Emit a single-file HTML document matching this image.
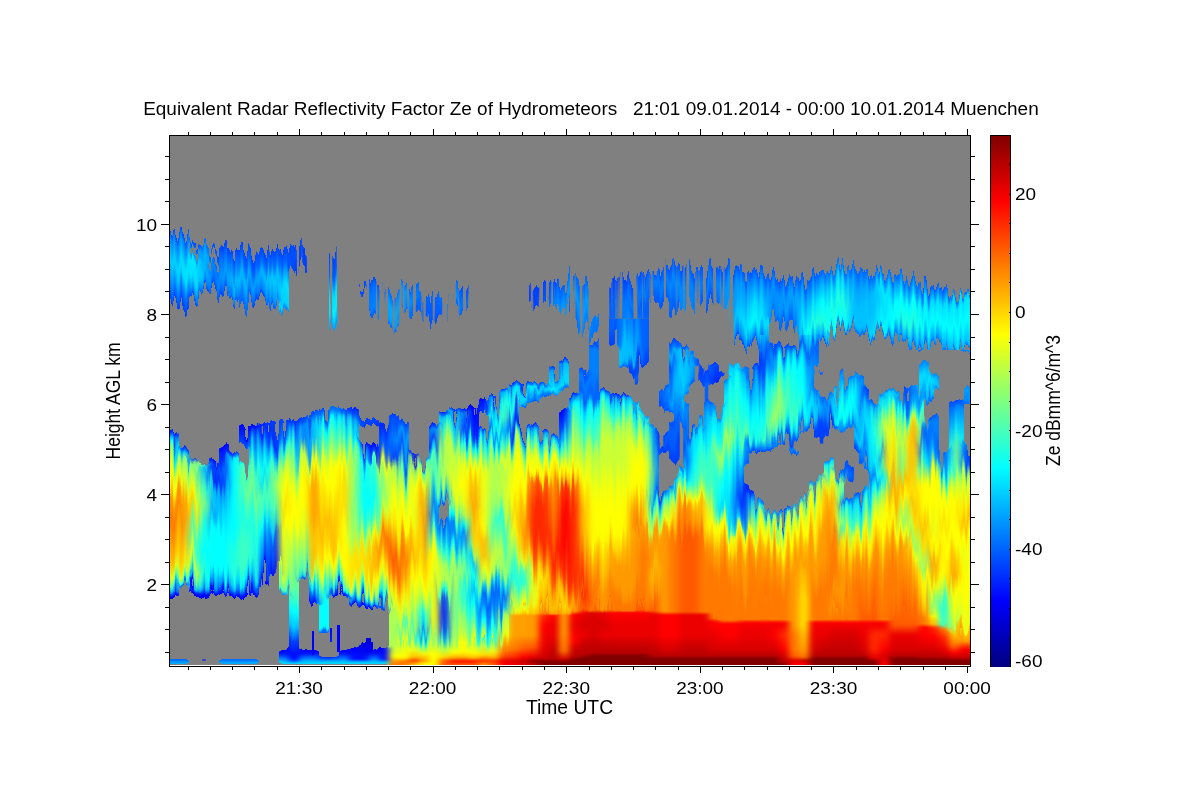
<!DOCTYPE html><html><head><meta charset="utf-8"><title>Radar</title><style>html,body{margin:0;padding:0;background:#fff}svg{display:block}text{font-family:"Liberation Sans",sans-serif;fill:#000}</style></head><body>
<svg width="1200" height="800" viewBox="0 0 1200 800">
<rect width="1200" height="800" fill="#fff"/>
<defs><linearGradient id="cb" x1="0" y1="1" x2="0" y2="0">
<stop offset="0.0000" stop-color="#000080"/>
<stop offset="0.0156" stop-color="#00008f"/>
<stop offset="0.0312" stop-color="#00009f"/>
<stop offset="0.0469" stop-color="#0000af"/>
<stop offset="0.0625" stop-color="#0000bf"/>
<stop offset="0.0781" stop-color="#0000cf"/>
<stop offset="0.0938" stop-color="#0000df"/>
<stop offset="0.1094" stop-color="#0000ef"/>
<stop offset="0.1250" stop-color="#0000ff"/>
<stop offset="0.1406" stop-color="#0010ff"/>
<stop offset="0.1562" stop-color="#0020ff"/>
<stop offset="0.1719" stop-color="#0030ff"/>
<stop offset="0.1875" stop-color="#0040ff"/>
<stop offset="0.2031" stop-color="#0050ff"/>
<stop offset="0.2188" stop-color="#0060ff"/>
<stop offset="0.2344" stop-color="#0070ff"/>
<stop offset="0.2500" stop-color="#0080ff"/>
<stop offset="0.2656" stop-color="#008fff"/>
<stop offset="0.2812" stop-color="#009fff"/>
<stop offset="0.2969" stop-color="#00afff"/>
<stop offset="0.3125" stop-color="#00bfff"/>
<stop offset="0.3281" stop-color="#00cfff"/>
<stop offset="0.3438" stop-color="#00dfff"/>
<stop offset="0.3594" stop-color="#00efff"/>
<stop offset="0.3750" stop-color="#00ffff"/>
<stop offset="0.3906" stop-color="#10ffef"/>
<stop offset="0.4062" stop-color="#20ffdf"/>
<stop offset="0.4219" stop-color="#30ffcf"/>
<stop offset="0.4375" stop-color="#40ffbf"/>
<stop offset="0.4531" stop-color="#50ffaf"/>
<stop offset="0.4688" stop-color="#60ff9f"/>
<stop offset="0.4844" stop-color="#70ff8f"/>
<stop offset="0.5000" stop-color="#80ff80"/>
<stop offset="0.5156" stop-color="#8fff70"/>
<stop offset="0.5312" stop-color="#9fff60"/>
<stop offset="0.5469" stop-color="#afff50"/>
<stop offset="0.5625" stop-color="#bfff40"/>
<stop offset="0.5781" stop-color="#cfff30"/>
<stop offset="0.5938" stop-color="#dfff20"/>
<stop offset="0.6094" stop-color="#efff10"/>
<stop offset="0.6250" stop-color="#ffff00"/>
<stop offset="0.6406" stop-color="#ffef00"/>
<stop offset="0.6562" stop-color="#ffdf00"/>
<stop offset="0.6719" stop-color="#ffcf00"/>
<stop offset="0.6875" stop-color="#ffbf00"/>
<stop offset="0.7031" stop-color="#ffaf00"/>
<stop offset="0.7188" stop-color="#ff9f00"/>
<stop offset="0.7344" stop-color="#ff8f00"/>
<stop offset="0.7500" stop-color="#ff8000"/>
<stop offset="0.7656" stop-color="#ff7000"/>
<stop offset="0.7812" stop-color="#ff6000"/>
<stop offset="0.7969" stop-color="#ff5000"/>
<stop offset="0.8125" stop-color="#ff4000"/>
<stop offset="0.8281" stop-color="#ff3000"/>
<stop offset="0.8438" stop-color="#ff2000"/>
<stop offset="0.8594" stop-color="#ff1000"/>
<stop offset="0.8750" stop-color="#ff0000"/>
<stop offset="0.8906" stop-color="#ef0000"/>
<stop offset="0.9062" stop-color="#df0000"/>
<stop offset="0.9219" stop-color="#cf0000"/>
<stop offset="0.9375" stop-color="#bf0000"/>
<stop offset="0.9531" stop-color="#af0000"/>
<stop offset="0.9688" stop-color="#9f0000"/>
<stop offset="0.9844" stop-color="#8f0000"/>
<stop offset="1.0000" stop-color="#800000"/>
</linearGradient></defs>
<rect x="169" y="135" width="802" height="531" fill="#808080"/>
<defs><filter id="sm" x="140" y="125" width="860" height="570" filterUnits="userSpaceOnUse" color-interpolation-filters="sRGB"><feGaussianBlur stdDeviation="3 1.2" result="b"/><feComponentTransfer in="b" result="t"><feFuncA type="linear" slope="12" intercept="-5.5"/></feComponentTransfer><feGaussianBlur in="t" stdDeviation="5 7" result="tb"/><feColorMatrix in="tb" type="matrix" values="0 0 0 3.2 -2.05  0 0 0 0 0  0 0 0 0 0  0 0 0 0 1" result="w"/><feColorMatrix in="w" type="matrix" values="0.83 0 0 0 0.17  0 0 0 0 0  0 0 0 0 0  0 0 0 0 1" result="w2"/><feTurbulence type="fractalNoise" baseFrequency="0.22 0.006" numOctaves="2" seed="7" result="n"/><feColorMatrix in="n" type="matrix" values="1 0 0 0 0  0 0 0 0 0.5  0 0 0 0 0  0 0 0 0 1" result="n1"/><feComposite in="n1" in2="w2" operator="arithmetic" k1="1" k2="0" k3="-0.5" k4="0.5" result="map"/><feDisplacementMap in="t" in2="map" scale="70" xChannelSelector="G" yChannelSelector="R"/></filter><filter id="smU" x="140" y="125" width="860" height="570" filterUnits="userSpaceOnUse" color-interpolation-filters="sRGB"><feGaussianBlur stdDeviation="3 1.2" result="b"/><feComponentTransfer in="b" result="t"><feFuncA type="linear" slope="12" intercept="-5.5"/></feComponentTransfer><feTurbulence type="fractalNoise" baseFrequency="0.25 0.004" numOctaves="2" seed="3" result="n"/><feColorMatrix in="n" type="matrix" values="1 0 0 0 0  0 0 0 0 0.5  0 0 1 0 0  0 0 0 0 1" result="n2"/><feDisplacementMap in="t" in2="n2" scale="40" xChannelSelector="G" yChannelSelector="R"/></filter><filter id="smB" x="140" y="125" width="860" height="570" filterUnits="userSpaceOnUse" color-interpolation-filters="sRGB"><feGaussianBlur stdDeviation="3 1.2" result="b"/><feComponentTransfer in="b"><feFuncA type="linear" slope="12" intercept="-5.5"/></feComponentTransfer></filter><filter id="smU2" x="140" y="125" width="860" height="570" filterUnits="userSpaceOnUse" color-interpolation-filters="sRGB"><feGaussianBlur stdDeviation="3 1.2" result="b"/><feComponentTransfer in="b" result="t"><feFuncA type="linear" slope="12" intercept="-5.5"/></feComponentTransfer><feTurbulence type="fractalNoise" baseFrequency="0.25 0.004" numOctaves="2" seed="3" result="n"/><feColorMatrix in="n" type="matrix" values="1 0 0 0 0  0 0 0 0 0.5  0 0 1 0 0  0 0 0 0 1" result="n2"/><feDisplacementMap in="t" in2="n2" scale="40" xChannelSelector="G" yChannelSelector="R" result="d"/><feTurbulence type="fractalNoise" baseFrequency="0.3 0.004" numOctaves="1" seed="21" result="m"/><feColorMatrix in="m" type="matrix" values="0 0 0 0 0  0 0 0 0 0  0 0 0 0 0  14 0 0 0 -5.7" result="m2"/><feComposite in="d" in2="m2" operator="in"/></filter><clipPath id="pc"><rect x="169" y="135" width="802" height="530"/></clipPath><clipPath id="cA"><polygon points="140,345 605,345 605,318.5 649,318.5 649,328 700,328 700,345 740,345 740,354 760,354 760,335 812,335 812,350 1000,350 1000,652 960,640 945,628 935,620 713,620 713,611.5 575,611.5 575,614.5 509,614.5 509,652 140,652"/></clipPath><clipPath id="cB"><polygon points="140,622 509,622 509,584.5 575,584.5 575,581.5 713,581.5 713,590 935,590 945,598 960,610 1000,622 1000,700 140,700"/></clipPath><clipPath id="cS"><polygon points="140,125 1000,125 1000,350 812,350 812,335 760,335 760,354 740,354 740,345 700,345 700,328 649,328 649,318.5 605,318.5 605,345 140,345"/></clipPath><clipPath id="cU"><rect x="140" y="125" width="156" height="300"/><rect x="735" y="125" width="265" height="300"/></clipPath><clipPath id="cUM"><rect x="296" y="125" width="439" height="300"/></clipPath><clipPath id="cA2"><polygon points="140,125 1000,125 1000,652 960,640 945,628 935,620 713,620 713,611.5 575,611.5 575,614.5 509,614.5 509,652 140,652"/></clipPath><linearGradient id="c0_0" gradientUnits="userSpaceOnUse" x1="0" y1="135" x2="0" y2="665"><stop offset="0.0000" stop-color="#808080" stop-opacity="0"/><stop offset="0.1849" stop-color="#0040ff" stop-opacity="0"/><stop offset="0.1849" stop-color="#0040ff"/><stop offset="0.1974" stop-color="#0080ff"/><stop offset="0.2453" stop-color="#00d2ff"/><stop offset="0.2755" stop-color="#009fff"/><stop offset="0.3092" stop-color="#0060ff"/><stop offset="0.3216" stop-color="#0040ff"/><stop offset="0.3226" stop-color="#0040ff"/><stop offset="0.3226" stop-color="#0040ff" stop-opacity="0"/><stop offset="0.5604" stop-color="#0000ff" stop-opacity="0"/><stop offset="0.5604" stop-color="#0000ff"/><stop offset="0.5697" stop-color="#0080ff"/><stop offset="0.5925" stop-color="#00ffff"/><stop offset="0.6226" stop-color="#dfff20"/><stop offset="0.6528" stop-color="#ffff00"/><stop offset="0.6830" stop-color="#ff9900"/><stop offset="0.7170" stop-color="#ff7900"/><stop offset="0.7547" stop-color="#ff9900"/><stop offset="0.7925" stop-color="#ffbf00"/><stop offset="0.8189" stop-color="#dfff20"/><stop offset="0.8377" stop-color="#40ffbf"/><stop offset="0.8613" stop-color="#0080ff"/><stop offset="0.8675" stop-color="#0000ff"/><stop offset="0.8717" stop-color="#0000ff"/><stop offset="0.8717" stop-color="#0000ff" stop-opacity="0"/><stop offset="0.9885" stop-color="#0000df" stop-opacity="0"/><stop offset="0.9885" stop-color="#0000df"/><stop offset="0.9829" stop-color="#0040ff"/><stop offset="0.9939" stop-color="#009fff"/><stop offset="0.9972" stop-color="#00b2ff"/><stop offset="0.9985" stop-color="#00b2ff"/><stop offset="0.9985" stop-color="#00b2ff" stop-opacity="0"/><stop offset="1.0000" stop-color="#808080" stop-opacity="0"/></linearGradient><linearGradient id="c1_0" gradientUnits="userSpaceOnUse" x1="0" y1="135" x2="0" y2="665"><stop offset="0.0000" stop-color="#808080" stop-opacity="0"/><stop offset="0.1868" stop-color="#0040ff" stop-opacity="0"/><stop offset="0.1868" stop-color="#0040ff"/><stop offset="0.2003" stop-color="#0080ff"/><stop offset="0.2453" stop-color="#00dfff"/><stop offset="0.2679" stop-color="#00dfff"/><stop offset="0.2943" stop-color="#0080ff"/><stop offset="0.3300" stop-color="#0040ff"/><stop offset="0.3321" stop-color="#0040ff"/><stop offset="0.3321" stop-color="#0040ff" stop-opacity="0"/><stop offset="0.5906" stop-color="#0000ff" stop-opacity="0"/><stop offset="0.5906" stop-color="#0000ff"/><stop offset="0.6020" stop-color="#00bfff"/><stop offset="0.6226" stop-color="#80ff80"/><stop offset="0.6528" stop-color="#dfff20"/><stop offset="0.6868" stop-color="#ff9f00"/><stop offset="0.7170" stop-color="#ff9900"/><stop offset="0.7547" stop-color="#ffbf00"/><stop offset="0.7925" stop-color="#ffdf00"/><stop offset="0.8189" stop-color="#bfff40"/><stop offset="0.8408" stop-color="#00ffff"/><stop offset="0.8470" stop-color="#0040ff"/><stop offset="0.8491" stop-color="#0040ff"/><stop offset="0.8491" stop-color="#0040ff" stop-opacity="0"/><stop offset="0.9885" stop-color="#0000df" stop-opacity="0"/><stop offset="0.9885" stop-color="#0000df"/><stop offset="0.9829" stop-color="#0040ff"/><stop offset="0.9939" stop-color="#009fff"/><stop offset="0.9972" stop-color="#00b2ff"/><stop offset="0.9985" stop-color="#00b2ff"/><stop offset="0.9985" stop-color="#00b2ff" stop-opacity="0"/><stop offset="1.0000" stop-color="#808080" stop-opacity="0"/></linearGradient><linearGradient id="c2_0" gradientUnits="userSpaceOnUse" x1="0" y1="135" x2="0" y2="665"><stop offset="0.0000" stop-color="#808080" stop-opacity="0"/><stop offset="0.2059" stop-color="#0040ff" stop-opacity="0"/><stop offset="0.2059" stop-color="#0040ff"/><stop offset="0.2122" stop-color="#0060ff"/><stop offset="0.2132" stop-color="#0060ff"/><stop offset="0.2132" stop-color="#0060ff" stop-opacity="0"/><stop offset="0.2272" stop-color="#0080ff" stop-opacity="0"/><stop offset="0.2272" stop-color="#0080ff"/><stop offset="0.2371" stop-color="#00ecff"/><stop offset="0.2717" stop-color="#00dfff"/><stop offset="0.2982" stop-color="#0080ff"/><stop offset="0.3065" stop-color="#0040ff"/><stop offset="0.3075" stop-color="#0040ff"/><stop offset="0.3075" stop-color="#0040ff" stop-opacity="0"/><stop offset="0.6094" stop-color="#0000ff" stop-opacity="0"/><stop offset="0.6094" stop-color="#0000ff"/><stop offset="0.6167" stop-color="#80ff80"/><stop offset="0.6528" stop-color="#bfff40"/><stop offset="0.6792" stop-color="#ffff00"/><stop offset="0.6981" stop-color="#ffdf00"/><stop offset="0.7283" stop-color="#80ff80"/><stop offset="0.7547" stop-color="#40ffbf"/><stop offset="0.7811" stop-color="#80ff80"/><stop offset="0.8038" stop-color="#dfff20"/><stop offset="0.8264" stop-color="#80ff80"/><stop offset="0.8555" stop-color="#00bfff"/><stop offset="0.8638" stop-color="#0000ff"/><stop offset="0.8679" stop-color="#0000ff"/><stop offset="0.8679" stop-color="#0000ff" stop-opacity="0"/><stop offset="1.0000" stop-color="#808080" stop-opacity="0"/></linearGradient><linearGradient id="c3_0" gradientUnits="userSpaceOnUse" x1="0" y1="135" x2="0" y2="665"><stop offset="0.0000" stop-color="#808080" stop-opacity="0"/><stop offset="0.2075" stop-color="#0060ff" stop-opacity="0"/><stop offset="0.2075" stop-color="#0060ff"/><stop offset="0.2200" stop-color="#009fff"/><stop offset="0.2642" stop-color="#00bfff"/><stop offset="0.2881" stop-color="#0080ff"/><stop offset="0.2933" stop-color="#0040ff"/><stop offset="0.2943" stop-color="#0040ff"/><stop offset="0.2943" stop-color="#0040ff" stop-opacity="0"/><stop offset="0.6226" stop-color="#40ffbf" stop-opacity="0"/><stop offset="0.6226" stop-color="#40ffbf"/><stop offset="0.6309" stop-color="#00bfff"/><stop offset="0.6679" stop-color="#40ffbf"/><stop offset="0.6981" stop-color="#80ff80"/><stop offset="0.7283" stop-color="#20ffdf"/><stop offset="0.7736" stop-color="#00ffff"/><stop offset="0.8113" stop-color="#20ffdf"/><stop offset="0.8415" stop-color="#00bfff"/><stop offset="0.8675" stop-color="#0000ff"/><stop offset="0.8717" stop-color="#0000ff"/><stop offset="0.8717" stop-color="#0000ff" stop-opacity="0"/><stop offset="0.9891" stop-color="#0000ff" stop-opacity="0"/><stop offset="0.9891" stop-color="#0000ff"/><stop offset="0.9920" stop-color="#0040ff"/><stop offset="0.9925" stop-color="#0040ff"/><stop offset="0.9925" stop-color="#0040ff" stop-opacity="0"/><stop offset="1.0000" stop-color="#808080" stop-opacity="0"/></linearGradient><linearGradient id="c4_0" gradientUnits="userSpaceOnUse" x1="0" y1="135" x2="0" y2="665"><stop offset="0.0000" stop-color="#808080" stop-opacity="0"/><stop offset="0.2142" stop-color="#0040ff" stop-opacity="0"/><stop offset="0.2142" stop-color="#0040ff"/><stop offset="0.2235" stop-color="#0060ff"/><stop offset="0.2245" stop-color="#0060ff"/><stop offset="0.2245" stop-color="#0060ff" stop-opacity="0"/><stop offset="0.2442" stop-color="#0060ff" stop-opacity="0"/><stop offset="0.2442" stop-color="#0060ff"/><stop offset="0.2552" stop-color="#0080ff"/><stop offset="0.2873" stop-color="#0060ff"/><stop offset="0.2914" stop-color="#0040ff"/><stop offset="0.2925" stop-color="#0040ff"/><stop offset="0.2925" stop-color="#0040ff" stop-opacity="0"/><stop offset="0.6113" stop-color="#0000ff" stop-opacity="0"/><stop offset="0.6113" stop-color="#0000ff"/><stop offset="0.6175" stop-color="#0040ff"/><stop offset="0.6453" stop-color="#0020ff"/><stop offset="0.6679" stop-color="#00bfff"/><stop offset="0.6981" stop-color="#00bfff"/><stop offset="0.7208" stop-color="#009fff"/><stop offset="0.7509" stop-color="#00ffff"/><stop offset="0.7925" stop-color="#00ffff"/><stop offset="0.8264" stop-color="#00ffff"/><stop offset="0.8575" stop-color="#0080ff"/><stop offset="0.8658" stop-color="#0000ff"/><stop offset="0.8679" stop-color="#0000ff"/><stop offset="0.8679" stop-color="#0000ff" stop-opacity="0"/><stop offset="1.0000" stop-color="#808080" stop-opacity="0"/></linearGradient><linearGradient id="c5_0" gradientUnits="userSpaceOnUse" x1="0" y1="135" x2="0" y2="665"><stop offset="0.0000" stop-color="#808080" stop-opacity="0"/><stop offset="0.2113" stop-color="#0040ff" stop-opacity="0"/><stop offset="0.2113" stop-color="#0040ff"/><stop offset="0.2377" stop-color="#0073ff"/><stop offset="0.2642" stop-color="#009fff"/><stop offset="0.2890" stop-color="#0060ff"/><stop offset="0.2952" stop-color="#0040ff"/><stop offset="0.2962" stop-color="#0040ff"/><stop offset="0.2962" stop-color="#0040ff" stop-opacity="0"/><stop offset="0.5842" stop-color="#0000ff" stop-opacity="0"/><stop offset="0.5842" stop-color="#0000ff"/><stop offset="0.6226" stop-color="#0060ff"/><stop offset="0.6528" stop-color="#0040ff"/><stop offset="0.6792" stop-color="#009fff"/><stop offset="0.7170" stop-color="#00dfff"/><stop offset="0.7547" stop-color="#00ffff"/><stop offset="0.7925" stop-color="#00ffff"/><stop offset="0.8264" stop-color="#00ffff"/><stop offset="0.8575" stop-color="#0080ff"/><stop offset="0.8658" stop-color="#0000ff"/><stop offset="0.8679" stop-color="#0000ff"/><stop offset="0.8679" stop-color="#0000ff" stop-opacity="0"/><stop offset="0.9885" stop-color="#0000df" stop-opacity="0"/><stop offset="0.9885" stop-color="#0000df"/><stop offset="0.9829" stop-color="#0040ff"/><stop offset="0.9939" stop-color="#009fff"/><stop offset="0.9972" stop-color="#00b2ff"/><stop offset="0.9985" stop-color="#00b2ff"/><stop offset="0.9985" stop-color="#00b2ff" stop-opacity="0"/><stop offset="1.0000" stop-color="#808080" stop-opacity="0"/></linearGradient><linearGradient id="c6_0" gradientUnits="userSpaceOnUse" x1="0" y1="135" x2="0" y2="665"><stop offset="0.0000" stop-color="#808080" stop-opacity="0"/><stop offset="0.2170" stop-color="#0040ff" stop-opacity="0"/><stop offset="0.2170" stop-color="#0040ff"/><stop offset="0.2453" stop-color="#0080ff"/><stop offset="0.2755" stop-color="#00bfff"/><stop offset="0.3011" stop-color="#0080ff"/><stop offset="0.3084" stop-color="#0040ff"/><stop offset="0.3094" stop-color="#0040ff"/><stop offset="0.3094" stop-color="#0040ff" stop-opacity="0"/><stop offset="0.6000" stop-color="#0000ff" stop-opacity="0"/><stop offset="0.6000" stop-color="#0000ff"/><stop offset="0.6125" stop-color="#00ffff"/><stop offset="0.6604" stop-color="#00ffff"/><stop offset="0.6981" stop-color="#00ffff"/><stop offset="0.7358" stop-color="#00ffff"/><stop offset="0.7736" stop-color="#20ffdf"/><stop offset="0.8113" stop-color="#20ffdf"/><stop offset="0.8415" stop-color="#00bfff"/><stop offset="0.8625" stop-color="#0040ff"/><stop offset="0.8677" stop-color="#0000ff"/><stop offset="0.8698" stop-color="#0000ff"/><stop offset="0.8698" stop-color="#0000ff" stop-opacity="0"/><stop offset="0.9885" stop-color="#0000df" stop-opacity="0"/><stop offset="0.9885" stop-color="#0000df"/><stop offset="0.9829" stop-color="#0040ff"/><stop offset="0.9939" stop-color="#009fff"/><stop offset="0.9972" stop-color="#00b2ff"/><stop offset="0.9985" stop-color="#00b2ff"/><stop offset="0.9985" stop-color="#00b2ff" stop-opacity="0"/><stop offset="1.0000" stop-color="#808080" stop-opacity="0"/></linearGradient><linearGradient id="c7_0" gradientUnits="userSpaceOnUse" x1="0" y1="135" x2="0" y2="665"><stop offset="0.0000" stop-color="#808080" stop-opacity="0"/><stop offset="0.2170" stop-color="#0040ff" stop-opacity="0"/><stop offset="0.2170" stop-color="#0040ff"/><stop offset="0.2453" stop-color="#0073ff"/><stop offset="0.2717" stop-color="#00bfff"/><stop offset="0.3019" stop-color="#008cff"/><stop offset="0.3262" stop-color="#0060ff"/><stop offset="0.3283" stop-color="#0060ff"/><stop offset="0.3283" stop-color="#0060ff" stop-opacity="0"/><stop offset="0.5491" stop-color="#0000ff" stop-opacity="0"/><stop offset="0.5491" stop-color="#0000ff"/><stop offset="0.5828" stop-color="#0040ff"/><stop offset="0.5849" stop-color="#0040ff"/><stop offset="0.5849" stop-color="#0040ff" stop-opacity="0"/><stop offset="0.6189" stop-color="#0000ff" stop-opacity="0"/><stop offset="0.6189" stop-color="#0000ff"/><stop offset="0.6209" stop-color="#40ffbf"/><stop offset="0.6604" stop-color="#60ff9f"/><stop offset="0.6981" stop-color="#40ffbf"/><stop offset="0.7358" stop-color="#20ffdf"/><stop offset="0.7736" stop-color="#40ffbf"/><stop offset="0.8113" stop-color="#40ffbf"/><stop offset="0.8377" stop-color="#00ffff"/><stop offset="0.8642" stop-color="#0040ff"/><stop offset="0.8705" stop-color="#0000ff"/><stop offset="0.8736" stop-color="#0000ff"/><stop offset="0.8736" stop-color="#0000ff" stop-opacity="0"/><stop offset="0.9885" stop-color="#0000df" stop-opacity="0"/><stop offset="0.9885" stop-color="#0000df"/><stop offset="0.9829" stop-color="#0040ff"/><stop offset="0.9939" stop-color="#009fff"/><stop offset="0.9972" stop-color="#00b2ff"/><stop offset="0.9985" stop-color="#00b2ff"/><stop offset="0.9985" stop-color="#00b2ff" stop-opacity="0"/><stop offset="1.0000" stop-color="#808080" stop-opacity="0"/></linearGradient><linearGradient id="c8_0" gradientUnits="userSpaceOnUse" x1="0" y1="135" x2="0" y2="665"><stop offset="0.0000" stop-color="#808080" stop-opacity="0"/><stop offset="0.2264" stop-color="#0040ff" stop-opacity="0"/><stop offset="0.2264" stop-color="#0040ff"/><stop offset="0.2528" stop-color="#0060ff"/><stop offset="0.2755" stop-color="#009fff"/><stop offset="0.3032" stop-color="#0060ff"/><stop offset="0.3084" stop-color="#0040ff"/><stop offset="0.3094" stop-color="#0040ff"/><stop offset="0.3094" stop-color="#0040ff" stop-opacity="0"/><stop offset="0.5491" stop-color="#0000ff" stop-opacity="0"/><stop offset="0.5491" stop-color="#0000ff"/><stop offset="0.5605" stop-color="#0040ff"/><stop offset="0.5962" stop-color="#00bfff"/><stop offset="0.6226" stop-color="#40ffbf"/><stop offset="0.6717" stop-color="#80ff80"/><stop offset="0.7057" stop-color="#40ffbf"/><stop offset="0.7358" stop-color="#20ffdf"/><stop offset="0.7736" stop-color="#20ffdf"/><stop offset="0.8113" stop-color="#20ffdf"/><stop offset="0.8377" stop-color="#00bfff"/><stop offset="0.8596" stop-color="#0040ff"/><stop offset="0.8658" stop-color="#0000ff"/><stop offset="0.8679" stop-color="#0000ff"/><stop offset="0.8679" stop-color="#0000ff" stop-opacity="0"/><stop offset="0.9885" stop-color="#0000df" stop-opacity="0"/><stop offset="0.9885" stop-color="#0000df"/><stop offset="0.9829" stop-color="#0040ff"/><stop offset="0.9939" stop-color="#009fff"/><stop offset="0.9972" stop-color="#00b2ff"/><stop offset="0.9985" stop-color="#00b2ff"/><stop offset="0.9985" stop-color="#00b2ff" stop-opacity="0"/><stop offset="1.0000" stop-color="#808080" stop-opacity="0"/></linearGradient><linearGradient id="c9_0" gradientUnits="userSpaceOnUse" x1="0" y1="135" x2="0" y2="665"><stop offset="0.0000" stop-color="#808080" stop-opacity="0"/><stop offset="0.2170" stop-color="#0040ff" stop-opacity="0"/><stop offset="0.2170" stop-color="#0040ff"/><stop offset="0.2453" stop-color="#0073ff"/><stop offset="0.2642" stop-color="#00bfff"/><stop offset="0.2982" stop-color="#0080ff"/><stop offset="0.3065" stop-color="#0040ff"/><stop offset="0.3075" stop-color="#0040ff"/><stop offset="0.3075" stop-color="#0040ff" stop-opacity="0"/><stop offset="0.5415" stop-color="#0020ff" stop-opacity="0"/><stop offset="0.5415" stop-color="#0020ff"/><stop offset="0.5550" stop-color="#0040ff"/><stop offset="0.5849" stop-color="#00bfff"/><stop offset="0.6226" stop-color="#00ffff"/><stop offset="0.6528" stop-color="#00dfff"/><stop offset="0.6792" stop-color="#40ffbf"/><stop offset="0.7170" stop-color="#40ffbf"/><stop offset="0.7472" stop-color="#00ffff"/><stop offset="0.7736" stop-color="#00bfff"/><stop offset="0.8038" stop-color="#0080ff"/><stop offset="0.8404" stop-color="#0040ff"/><stop offset="0.8508" stop-color="#0000ff"/><stop offset="0.8528" stop-color="#0000ff"/><stop offset="0.8528" stop-color="#0000ff" stop-opacity="0"/><stop offset="1.0000" stop-color="#808080" stop-opacity="0"/></linearGradient><linearGradient id="c10_0" gradientUnits="userSpaceOnUse" x1="0" y1="135" x2="0" y2="665"><stop offset="0.0000" stop-color="#808080" stop-opacity="0"/><stop offset="0.2189" stop-color="#0040ff" stop-opacity="0"/><stop offset="0.2189" stop-color="#0040ff"/><stop offset="0.2453" stop-color="#0073ff"/><stop offset="0.2679" stop-color="#00d2ff"/><stop offset="0.3045" stop-color="#0093ff"/><stop offset="0.3159" stop-color="#004dff"/><stop offset="0.3170" stop-color="#004dff"/><stop offset="0.3170" stop-color="#004dff" stop-opacity="0"/><stop offset="0.5377" stop-color="#0040ff" stop-opacity="0"/><stop offset="0.5377" stop-color="#0040ff"/><stop offset="0.5736" stop-color="#0020ff"/><stop offset="0.6000" stop-color="#00bfff"/><stop offset="0.6226" stop-color="#40ffbf"/><stop offset="0.6528" stop-color="#80ff80"/><stop offset="0.6981" stop-color="#40ffbf"/><stop offset="0.7358" stop-color="#00bfff"/><stop offset="0.7585" stop-color="#0040ff"/><stop offset="0.7736" stop-color="#0040ff"/><stop offset="0.8273" stop-color="#0000ff"/><stop offset="0.8283" stop-color="#0000ff"/><stop offset="0.8283" stop-color="#0000ff" stop-opacity="0"/><stop offset="1.0000" stop-color="#808080" stop-opacity="0"/></linearGradient><linearGradient id="c11_0" gradientUnits="userSpaceOnUse" x1="0" y1="135" x2="0" y2="665"><stop offset="0.0000" stop-color="#808080" stop-opacity="0"/><stop offset="0.2170" stop-color="#0040ff" stop-opacity="0"/><stop offset="0.2170" stop-color="#0040ff"/><stop offset="0.2453" stop-color="#0066ff"/><stop offset="0.2679" stop-color="#009fff"/><stop offset="0.2906" stop-color="#00dfff"/><stop offset="0.3292" stop-color="#00d2ff"/><stop offset="0.3375" stop-color="#0080ff"/><stop offset="0.3396" stop-color="#0080ff"/><stop offset="0.3396" stop-color="#0080ff" stop-opacity="0"/><stop offset="0.5358" stop-color="#0040ff" stop-opacity="0"/><stop offset="0.5358" stop-color="#0040ff"/><stop offset="0.5660" stop-color="#0080ff"/><stop offset="0.5849" stop-color="#20ffdf"/><stop offset="0.6226" stop-color="#dfff20"/><stop offset="0.6604" stop-color="#ffff00"/><stop offset="0.6981" stop-color="#ffdf00"/><stop offset="0.7358" stop-color="#ffff00"/><stop offset="0.7736" stop-color="#dfff20"/><stop offset="0.8113" stop-color="#dfff20"/><stop offset="0.8415" stop-color="#bfff40"/><stop offset="0.8617" stop-color="#40ffbf"/><stop offset="0.8658" stop-color="#0080ff"/><stop offset="0.8679" stop-color="#0080ff"/><stop offset="0.8679" stop-color="#0080ff" stop-opacity="0"/><stop offset="0.9717" stop-color="#0000ff" stop-opacity="0"/><stop offset="0.9717" stop-color="#0000ff"/><stop offset="0.9785" stop-color="#0013ff"/><stop offset="0.9935" stop-color="#00bfff"/><stop offset="0.9972" stop-color="#00dfff"/><stop offset="0.9985" stop-color="#00dfff"/><stop offset="0.9985" stop-color="#00dfff" stop-opacity="0"/><stop offset="1.0000" stop-color="#808080" stop-opacity="0"/></linearGradient><linearGradient id="c12_0" gradientUnits="userSpaceOnUse" x1="0" y1="135" x2="0" y2="665"><stop offset="0.0000" stop-color="#808080" stop-opacity="0"/><stop offset="0.2075" stop-color="#0040ff" stop-opacity="0"/><stop offset="0.2075" stop-color="#0040ff"/><stop offset="0.2200" stop-color="#0053ff"/><stop offset="0.2537" stop-color="#0040ff"/><stop offset="0.2547" stop-color="#0040ff"/><stop offset="0.2547" stop-color="#0040ff" stop-opacity="0"/><stop offset="0.5396" stop-color="#0020ff" stop-opacity="0"/><stop offset="0.5396" stop-color="#0020ff"/><stop offset="0.5660" stop-color="#00bfff"/><stop offset="0.5925" stop-color="#40ffbf"/><stop offset="0.6226" stop-color="#80ff80"/><stop offset="0.6604" stop-color="#dfff20"/><stop offset="0.6981" stop-color="#ffff00"/><stop offset="0.7358" stop-color="#ffff00"/><stop offset="0.7736" stop-color="#bfff40"/><stop offset="0.8113" stop-color="#80ff80"/><stop offset="0.8491" stop-color="#60ff9f"/><stop offset="0.8679" stop-color="#40ffbf"/><stop offset="0.8943" stop-color="#00ffff"/><stop offset="0.9245" stop-color="#00bfff"/><stop offset="0.9509" stop-color="#0040ff"/><stop offset="0.9869" stop-color="#0000ff"/><stop offset="0.9931" stop-color="#0040ff"/><stop offset="0.9972" stop-color="#00ffff"/><stop offset="0.9985" stop-color="#00ffff"/><stop offset="0.9985" stop-color="#00ffff" stop-opacity="0"/><stop offset="1.0000" stop-color="#808080" stop-opacity="0"/></linearGradient><linearGradient id="c13_0" gradientUnits="userSpaceOnUse" x1="0" y1="135" x2="0" y2="665"><stop offset="0.0000" stop-color="#808080" stop-opacity="0"/><stop offset="0.2113" stop-color="#0040ff" stop-opacity="0"/><stop offset="0.2113" stop-color="#0040ff"/><stop offset="0.2411" stop-color="#0040ff"/><stop offset="0.2453" stop-color="#0040ff"/><stop offset="0.2453" stop-color="#0040ff" stop-opacity="0"/><stop offset="0.5358" stop-color="#0040ff" stop-opacity="0"/><stop offset="0.5358" stop-color="#0040ff"/><stop offset="0.5660" stop-color="#0080ff"/><stop offset="0.5962" stop-color="#0080ff"/><stop offset="0.6226" stop-color="#bfff40"/><stop offset="0.6604" stop-color="#ffff00"/><stop offset="0.6981" stop-color="#ffff00"/><stop offset="0.7358" stop-color="#dfff20"/><stop offset="0.7736" stop-color="#80ff80"/><stop offset="0.8000" stop-color="#40ffbf"/><stop offset="0.8257" stop-color="#00bfff"/><stop offset="0.8308" stop-color="#0040ff"/><stop offset="0.8340" stop-color="#0040ff"/><stop offset="0.8340" stop-color="#0040ff" stop-opacity="0"/><stop offset="0.9717" stop-color="#0000ff" stop-opacity="0"/><stop offset="0.9717" stop-color="#0000ff"/><stop offset="0.9785" stop-color="#0013ff"/><stop offset="0.9935" stop-color="#00bfff"/><stop offset="0.9972" stop-color="#00dfff"/><stop offset="0.9985" stop-color="#00dfff"/><stop offset="0.9985" stop-color="#00dfff" stop-opacity="0"/><stop offset="1.0000" stop-color="#808080" stop-opacity="0"/></linearGradient><linearGradient id="c14_0" gradientUnits="userSpaceOnUse" x1="0" y1="135" x2="0" y2="665"><stop offset="0.0000" stop-color="#808080" stop-opacity="0"/><stop offset="0.5226" stop-color="#0040ff" stop-opacity="0"/><stop offset="0.5226" stop-color="#0040ff"/><stop offset="0.5547" stop-color="#00bfff"/><stop offset="0.5849" stop-color="#00bfff"/><stop offset="0.6226" stop-color="#ffff00"/><stop offset="0.6604" stop-color="#ff9f00"/><stop offset="0.7170" stop-color="#ff9f00"/><stop offset="0.7547" stop-color="#ffbf00"/><stop offset="0.7925" stop-color="#ffbf00"/><stop offset="0.8189" stop-color="#bfff40"/><stop offset="0.8377" stop-color="#00ffff"/><stop offset="0.8676" stop-color="#0040ff"/><stop offset="0.8801" stop-color="#0000ff"/><stop offset="0.8811" stop-color="#0000ff"/><stop offset="0.8811" stop-color="#0000ff" stop-opacity="0"/><stop offset="0.9717" stop-color="#0000ff" stop-opacity="0"/><stop offset="0.9717" stop-color="#0000ff"/><stop offset="0.9785" stop-color="#0013ff"/><stop offset="0.9935" stop-color="#00bfff"/><stop offset="0.9972" stop-color="#00dfff"/><stop offset="0.9985" stop-color="#00dfff"/><stop offset="0.9985" stop-color="#00dfff" stop-opacity="0"/><stop offset="1.0000" stop-color="#808080" stop-opacity="0"/></linearGradient><linearGradient id="c15_0" gradientUnits="userSpaceOnUse" x1="0" y1="135" x2="0" y2="665"><stop offset="0.0000" stop-color="#808080" stop-opacity="0"/><stop offset="0.5170" stop-color="#0040ff" stop-opacity="0"/><stop offset="0.5170" stop-color="#0040ff"/><stop offset="0.5472" stop-color="#00ffff"/><stop offset="0.5849" stop-color="#60ff9f"/><stop offset="0.6226" stop-color="#dfff20"/><stop offset="0.6604" stop-color="#ffff00"/><stop offset="0.6981" stop-color="#ffdf00"/><stop offset="0.7358" stop-color="#ffbf00"/><stop offset="0.7736" stop-color="#ffdf00"/><stop offset="0.8038" stop-color="#ffff00"/><stop offset="0.8264" stop-color="#bfff40"/><stop offset="0.8491" stop-color="#40ffbf"/><stop offset="0.8868" stop-color="#00ffff"/><stop offset="0.9313" stop-color="#00ffff"/><stop offset="0.9386" stop-color="#0040ff"/><stop offset="0.9396" stop-color="#0040ff"/><stop offset="0.9396" stop-color="#0040ff" stop-opacity="0"/><stop offset="0.9858" stop-color="#0000ff" stop-opacity="0"/><stop offset="0.9858" stop-color="#0000ff"/><stop offset="0.9802" stop-color="#0013ff"/><stop offset="0.9935" stop-color="#00bfff"/><stop offset="0.9972" stop-color="#00dfff"/><stop offset="0.9985" stop-color="#00dfff"/><stop offset="0.9985" stop-color="#00dfff" stop-opacity="0"/><stop offset="1.0000" stop-color="#808080" stop-opacity="0"/></linearGradient><linearGradient id="c16_0" gradientUnits="userSpaceOnUse" x1="0" y1="135" x2="0" y2="665"><stop offset="0.0000" stop-color="#808080" stop-opacity="0"/><stop offset="0.2208" stop-color="#0040ff" stop-opacity="0"/><stop offset="0.2208" stop-color="#0040ff"/><stop offset="0.2642" stop-color="#0060ff"/><stop offset="0.3019" stop-color="#00dfff"/><stop offset="0.3396" stop-color="#00f2ff"/><stop offset="0.3694" stop-color="#009fff"/><stop offset="0.3736" stop-color="#009fff"/><stop offset="0.3736" stop-color="#009fff" stop-opacity="0"/><stop offset="0.5132" stop-color="#0060ff" stop-opacity="0"/><stop offset="0.5132" stop-color="#0060ff"/><stop offset="0.5396" stop-color="#00ffff"/><stop offset="0.5849" stop-color="#80ff80"/><stop offset="0.6226" stop-color="#ffff00"/><stop offset="0.6604" stop-color="#ffff00"/><stop offset="0.6981" stop-color="#ffdf00"/><stop offset="0.7358" stop-color="#ffbf00"/><stop offset="0.7811" stop-color="#ffbf00"/><stop offset="0.8113" stop-color="#ffff00"/><stop offset="0.8340" stop-color="#80ff80"/><stop offset="0.8613" stop-color="#00bfff"/><stop offset="0.8675" stop-color="#0000ff"/><stop offset="0.8717" stop-color="#0000ff"/><stop offset="0.8717" stop-color="#0000ff" stop-opacity="0"/><stop offset="0.9848" stop-color="#0000ff" stop-opacity="0"/><stop offset="0.9848" stop-color="#0000ff"/><stop offset="0.9794" stop-color="#0013ff"/><stop offset="0.9935" stop-color="#00bfff"/><stop offset="0.9972" stop-color="#00dfff"/><stop offset="0.9985" stop-color="#00dfff"/><stop offset="0.9985" stop-color="#00dfff" stop-opacity="0"/><stop offset="1.0000" stop-color="#808080" stop-opacity="0"/></linearGradient><linearGradient id="c17_0" gradientUnits="userSpaceOnUse" x1="0" y1="135" x2="0" y2="665"><stop offset="0.0000" stop-color="#808080" stop-opacity="0"/><stop offset="0.5189" stop-color="#0040ff" stop-opacity="0"/><stop offset="0.5189" stop-color="#0040ff"/><stop offset="0.5472" stop-color="#00dfff"/><stop offset="0.5849" stop-color="#40ffbf"/><stop offset="0.6226" stop-color="#ffff00"/><stop offset="0.6528" stop-color="#ffdf00"/><stop offset="0.6981" stop-color="#ffdf00"/><stop offset="0.7358" stop-color="#ffff00"/><stop offset="0.7736" stop-color="#ffff00"/><stop offset="0.8038" stop-color="#ffff00"/><stop offset="0.8264" stop-color="#bfff40"/><stop offset="0.8555" stop-color="#00ffff"/><stop offset="0.8617" stop-color="#0040ff"/><stop offset="0.8658" stop-color="#0000ff"/><stop offset="0.8679" stop-color="#0000ff"/><stop offset="0.8679" stop-color="#0000ff" stop-opacity="0"/><stop offset="0.9717" stop-color="#0000ff" stop-opacity="0"/><stop offset="0.9717" stop-color="#0000ff"/><stop offset="0.9785" stop-color="#0013ff"/><stop offset="0.9935" stop-color="#00bfff"/><stop offset="0.9972" stop-color="#00dfff"/><stop offset="0.9985" stop-color="#00dfff"/><stop offset="0.9985" stop-color="#00dfff" stop-opacity="0"/><stop offset="1.0000" stop-color="#808080" stop-opacity="0"/></linearGradient><linearGradient id="c18_0" gradientUnits="userSpaceOnUse" x1="0" y1="135" x2="0" y2="665"><stop offset="0.0000" stop-color="#808080" stop-opacity="0"/><stop offset="0.5189" stop-color="#0020ff" stop-opacity="0"/><stop offset="0.5189" stop-color="#0020ff"/><stop offset="0.5472" stop-color="#0080ff"/><stop offset="0.5698" stop-color="#00bfff"/><stop offset="0.5962" stop-color="#00ffff"/><stop offset="0.6226" stop-color="#80ff80"/><stop offset="0.6604" stop-color="#9fff60"/><stop offset="0.6981" stop-color="#80ff80"/><stop offset="0.7358" stop-color="#9fff60"/><stop offset="0.7736" stop-color="#ffdf00"/><stop offset="0.8038" stop-color="#ffdf00"/><stop offset="0.8264" stop-color="#dfff20"/><stop offset="0.8491" stop-color="#40ffbf"/><stop offset="0.8747" stop-color="#0080ff"/><stop offset="0.8809" stop-color="#0000ff"/><stop offset="0.8830" stop-color="#0000ff"/><stop offset="0.8830" stop-color="#0000ff" stop-opacity="0"/><stop offset="0.9679" stop-color="#0000ff" stop-opacity="0"/><stop offset="0.9679" stop-color="#0000ff"/><stop offset="0.9906" stop-color="#0013ff"/><stop offset="0.9935" stop-color="#00bfff"/><stop offset="0.9972" stop-color="#00dfff"/><stop offset="0.9985" stop-color="#00dfff"/><stop offset="0.9985" stop-color="#00dfff" stop-opacity="0"/><stop offset="1.0000" stop-color="#808080" stop-opacity="0"/></linearGradient><linearGradient id="c19_0" gradientUnits="userSpaceOnUse" x1="0" y1="135" x2="0" y2="665"><stop offset="0.0000" stop-color="#808080" stop-opacity="0"/><stop offset="0.2821" stop-color="#0040ff" stop-opacity="0"/><stop offset="0.2821" stop-color="#0040ff"/><stop offset="0.2914" stop-color="#004dff"/><stop offset="0.2925" stop-color="#004dff"/><stop offset="0.2925" stop-color="#004dff" stop-opacity="0"/><stop offset="0.5358" stop-color="#0040ff" stop-opacity="0"/><stop offset="0.5358" stop-color="#0040ff"/><stop offset="0.5461" stop-color="#0040ff"/><stop offset="0.5472" stop-color="#0040ff"/><stop offset="0.5472" stop-color="#0040ff" stop-opacity="0"/><stop offset="0.5811" stop-color="#0000ff" stop-opacity="0"/><stop offset="0.5811" stop-color="#0000ff"/><stop offset="0.5936" stop-color="#0080ff"/><stop offset="0.6226" stop-color="#00ffff"/><stop offset="0.6604" stop-color="#00ffff"/><stop offset="0.6981" stop-color="#00ffff"/><stop offset="0.7358" stop-color="#40ffbf"/><stop offset="0.7660" stop-color="#bfff40"/><stop offset="0.7925" stop-color="#ffdf00"/><stop offset="0.8189" stop-color="#ffdf00"/><stop offset="0.8415" stop-color="#bfff40"/><stop offset="0.8642" stop-color="#00ffff"/><stop offset="0.8843" stop-color="#0040ff"/><stop offset="0.8885" stop-color="#0000ff"/><stop offset="0.8906" stop-color="#0000ff"/><stop offset="0.8906" stop-color="#0000ff" stop-opacity="0"/><stop offset="0.9604" stop-color="#0000df" stop-opacity="0"/><stop offset="0.9604" stop-color="#0000df"/><stop offset="0.9906" stop-color="#0013ff"/><stop offset="0.9935" stop-color="#00bfff"/><stop offset="0.9972" stop-color="#00dfff"/><stop offset="0.9985" stop-color="#00dfff"/><stop offset="0.9985" stop-color="#00dfff" stop-opacity="0"/><stop offset="1.0000" stop-color="#808080" stop-opacity="0"/></linearGradient><linearGradient id="c20_0" gradientUnits="userSpaceOnUse" x1="0" y1="135" x2="0" y2="665"><stop offset="0.0000" stop-color="#808080" stop-opacity="0"/><stop offset="0.2717" stop-color="#0040ff" stop-opacity="0"/><stop offset="0.2717" stop-color="#0040ff"/><stop offset="0.2842" stop-color="#0073ff"/><stop offset="0.3292" stop-color="#0080ff"/><stop offset="0.3386" stop-color="#004dff"/><stop offset="0.3396" stop-color="#004dff"/><stop offset="0.3396" stop-color="#004dff" stop-opacity="0"/><stop offset="0.5358" stop-color="#0040ff" stop-opacity="0"/><stop offset="0.5358" stop-color="#0040ff"/><stop offset="0.5461" stop-color="#0040ff"/><stop offset="0.5472" stop-color="#0040ff"/><stop offset="0.5472" stop-color="#0040ff" stop-opacity="0"/><stop offset="0.5849" stop-color="#0000ff" stop-opacity="0"/><stop offset="0.5849" stop-color="#0000ff"/><stop offset="0.6151" stop-color="#0040ff"/><stop offset="0.6226" stop-color="#40ffbf"/><stop offset="0.6604" stop-color="#20ffdf"/><stop offset="0.6981" stop-color="#00ffff"/><stop offset="0.7283" stop-color="#40ffbf"/><stop offset="0.7509" stop-color="#feff01"/><stop offset="0.7736" stop-color="#ffbf00"/><stop offset="0.8113" stop-color="#ffbf00"/><stop offset="0.8340" stop-color="#ffff00"/><stop offset="0.8566" stop-color="#acff53"/><stop offset="0.8823" stop-color="#00bfff"/><stop offset="0.8885" stop-color="#0000ff"/><stop offset="0.8906" stop-color="#0000ff"/><stop offset="0.8906" stop-color="#0000ff" stop-opacity="0"/><stop offset="0.9717" stop-color="#0000ff" stop-opacity="0"/><stop offset="0.9717" stop-color="#0000ff"/><stop offset="0.9785" stop-color="#0013ff"/><stop offset="0.9935" stop-color="#00bfff"/><stop offset="0.9972" stop-color="#00dfff"/><stop offset="0.9985" stop-color="#00dfff"/><stop offset="0.9985" stop-color="#00dfff" stop-opacity="0"/><stop offset="1.0000" stop-color="#808080" stop-opacity="0"/></linearGradient><linearGradient id="c21_0" gradientUnits="userSpaceOnUse" x1="0" y1="135" x2="0" y2="665"><stop offset="0.0000" stop-color="#808080" stop-opacity="0"/><stop offset="0.2868" stop-color="#0060ff" stop-opacity="0"/><stop offset="0.2868" stop-color="#0060ff"/><stop offset="0.3132" stop-color="#009fff"/><stop offset="0.3435" stop-color="#009fff"/><stop offset="0.3518" stop-color="#0060ff"/><stop offset="0.3528" stop-color="#0060ff"/><stop offset="0.3528" stop-color="#0060ff" stop-opacity="0"/><stop offset="0.5434" stop-color="#0020ff" stop-opacity="0"/><stop offset="0.5434" stop-color="#0020ff"/><stop offset="0.5849" stop-color="#0060ff"/><stop offset="0.6226" stop-color="#feff01"/><stop offset="0.6453" stop-color="#acff53"/><stop offset="0.6792" stop-color="#8cff73"/><stop offset="0.7170" stop-color="#ccff33"/><stop offset="0.7472" stop-color="#ffbf00"/><stop offset="0.7736" stop-color="#ff7900"/><stop offset="0.8038" stop-color="#ff9900"/><stop offset="0.8302" stop-color="#ffdf00"/><stop offset="0.8528" stop-color="#ecff13"/><stop offset="0.8857" stop-color="#00ffff"/><stop offset="0.8940" stop-color="#0040ff"/><stop offset="0.8981" stop-color="#0040ff"/><stop offset="0.8981" stop-color="#0040ff" stop-opacity="0"/><stop offset="0.9679" stop-color="#0000ff" stop-opacity="0"/><stop offset="0.9679" stop-color="#0000ff"/><stop offset="0.9906" stop-color="#0013ff"/><stop offset="0.9935" stop-color="#00bfff"/><stop offset="0.9972" stop-color="#00dfff"/><stop offset="0.9985" stop-color="#00dfff"/><stop offset="0.9985" stop-color="#00dfff" stop-opacity="0"/><stop offset="1.0000" stop-color="#808080" stop-opacity="0"/></linearGradient><linearGradient id="c22_0" gradientUnits="userSpaceOnUse" x1="0" y1="135" x2="0" y2="665"><stop offset="0.0000" stop-color="#808080" stop-opacity="0"/><stop offset="0.2943" stop-color="#0060ff" stop-opacity="0"/><stop offset="0.2943" stop-color="#0060ff"/><stop offset="0.3208" stop-color="#00b2ff"/><stop offset="0.3473" stop-color="#009fff"/><stop offset="0.3556" stop-color="#0060ff"/><stop offset="0.3566" stop-color="#0060ff"/><stop offset="0.3566" stop-color="#0060ff" stop-opacity="0"/><stop offset="0.5264" stop-color="#0040ff" stop-opacity="0"/><stop offset="0.5264" stop-color="#0040ff"/><stop offset="0.5660" stop-color="#0080ff"/><stop offset="0.6038" stop-color="#0040ff"/><stop offset="0.6226" stop-color="#acff53"/><stop offset="0.6604" stop-color="#ecff13"/><stop offset="0.6981" stop-color="#feff01"/><stop offset="0.7283" stop-color="#ffdf00"/><stop offset="0.7547" stop-color="#ff9900"/><stop offset="0.7925" stop-color="#ff5900"/><stop offset="0.8264" stop-color="#ff7900"/><stop offset="0.8566" stop-color="#ffdf00"/><stop offset="0.8792" stop-color="#ecff13"/><stop offset="0.9057" stop-color="#acff53"/><stop offset="0.9245" stop-color="#acff53"/><stop offset="0.9623" stop-color="#acff53"/><stop offset="0.9849" stop-color="#ffff00"/><stop offset="0.9925" stop-color="#ff9900"/><stop offset="1.0000" stop-color="#ff7900"/><stop offset="1.0000" stop-color="#ff7900"/></linearGradient><linearGradient id="c23_0" gradientUnits="userSpaceOnUse" x1="0" y1="135" x2="0" y2="665"><stop offset="0.0000" stop-color="#808080" stop-opacity="0"/><stop offset="0.2868" stop-color="#0060ff" stop-opacity="0"/><stop offset="0.2868" stop-color="#0060ff"/><stop offset="0.2992" stop-color="#009fff"/><stop offset="0.3342" stop-color="#0093ff"/><stop offset="0.3405" stop-color="#0060ff"/><stop offset="0.3415" stop-color="#0060ff"/><stop offset="0.3415" stop-color="#0060ff" stop-opacity="0"/><stop offset="0.5415" stop-color="#0040ff" stop-opacity="0"/><stop offset="0.5415" stop-color="#0040ff"/><stop offset="0.5698" stop-color="#009fff"/><stop offset="0.6038" stop-color="#0060ff"/><stop offset="0.6226" stop-color="#0080ff"/><stop offset="0.6453" stop-color="#40ffbf"/><stop offset="0.6792" stop-color="#ccff33"/><stop offset="0.7170" stop-color="#feff01"/><stop offset="0.7472" stop-color="#ffff00"/><stop offset="0.7736" stop-color="#ff9f00"/><stop offset="0.8113" stop-color="#ff7900"/><stop offset="0.8491" stop-color="#ff9900"/><stop offset="0.8792" stop-color="#ffdf00"/><stop offset="0.9019" stop-color="#ecff13"/><stop offset="0.9245" stop-color="#acff53"/><stop offset="0.9358" stop-color="#40ffbf"/><stop offset="0.9698" stop-color="#ecff13"/><stop offset="0.9868" stop-color="#ffff00"/><stop offset="0.9925" stop-color="#ff7900"/><stop offset="1.0000" stop-color="#ff7900"/><stop offset="1.0000" stop-color="#ff7900"/></linearGradient><linearGradient id="c24_0" gradientUnits="userSpaceOnUse" x1="0" y1="135" x2="0" y2="665"><stop offset="0.0000" stop-color="#808080" stop-opacity="0"/><stop offset="0.2830" stop-color="#0060ff" stop-opacity="0"/><stop offset="0.2830" stop-color="#0060ff"/><stop offset="0.3094" stop-color="#008cff"/><stop offset="0.3292" stop-color="#0060ff"/><stop offset="0.3386" stop-color="#0060ff"/><stop offset="0.3396" stop-color="#0060ff"/><stop offset="0.3396" stop-color="#0060ff" stop-opacity="0"/><stop offset="0.5981" stop-color="#0000ff" stop-opacity="0"/><stop offset="0.5981" stop-color="#0000ff"/><stop offset="0.6116" stop-color="#acff53"/><stop offset="0.6528" stop-color="#feff01"/><stop offset="0.6981" stop-color="#ecff13"/><stop offset="0.7358" stop-color="#ecff13"/><stop offset="0.7736" stop-color="#ffdf00"/><stop offset="0.8113" stop-color="#ffbf00"/><stop offset="0.8491" stop-color="#ffff00"/><stop offset="0.8792" stop-color="#ecff13"/><stop offset="0.9019" stop-color="#acff53"/><stop offset="0.9245" stop-color="#acff53"/><stop offset="0.9434" stop-color="#40ffbf"/><stop offset="0.9698" stop-color="#ecff13"/><stop offset="0.9849" stop-color="#ffbf00"/><stop offset="0.9925" stop-color="#ff2900"/><stop offset="0.9981" stop-color="#ffbf00"/><stop offset="1.0000" stop-color="#ffbf00"/></linearGradient><linearGradient id="c25_0" gradientUnits="userSpaceOnUse" x1="0" y1="135" x2="0" y2="665"><stop offset="0.0000" stop-color="#808080" stop-opacity="0"/><stop offset="0.3019" stop-color="#0060ff" stop-opacity="0"/><stop offset="0.3019" stop-color="#0060ff"/><stop offset="0.3284" stop-color="#0060ff"/><stop offset="0.3367" stop-color="#0060ff"/><stop offset="0.3377" stop-color="#0060ff"/><stop offset="0.3377" stop-color="#0060ff" stop-opacity="0"/><stop offset="0.6121" stop-color="#0020ff" stop-opacity="0"/><stop offset="0.6121" stop-color="#0020ff"/><stop offset="0.6179" stop-color="#40ffbf"/><stop offset="0.6453" stop-color="#ecff13"/><stop offset="0.6679" stop-color="#ffbf00"/><stop offset="0.7170" stop-color="#ff9f00"/><stop offset="0.7736" stop-color="#ffbf00"/><stop offset="0.8113" stop-color="#ffdf00"/><stop offset="0.8415" stop-color="#ffff00"/><stop offset="0.8679" stop-color="#acff53"/><stop offset="0.8943" stop-color="#00ffff"/><stop offset="0.9245" stop-color="#00bfff"/><stop offset="0.9321" stop-color="#0080ff"/><stop offset="0.9547" stop-color="#00ffff"/><stop offset="0.9774" stop-color="#ecff13"/><stop offset="0.9868" stop-color="#ffbf00"/><stop offset="0.9925" stop-color="#ff9900"/><stop offset="0.9981" stop-color="#ffff00"/><stop offset="1.0000" stop-color="#ffff00"/></linearGradient><linearGradient id="c26_0" gradientUnits="userSpaceOnUse" x1="0" y1="135" x2="0" y2="665"><stop offset="0.0000" stop-color="#808080" stop-opacity="0"/><stop offset="0.3038" stop-color="#0060ff" stop-opacity="0"/><stop offset="0.3038" stop-color="#0060ff"/><stop offset="0.3131" stop-color="#0060ff"/><stop offset="0.3526" stop-color="#0053ff"/><stop offset="0.3547" stop-color="#0053ff"/><stop offset="0.3547" stop-color="#0053ff" stop-opacity="0"/><stop offset="0.5491" stop-color="#0000ff" stop-opacity="0"/><stop offset="0.5491" stop-color="#0000ff"/><stop offset="0.5605" stop-color="#0080ff"/><stop offset="0.5925" stop-color="#0040ff"/><stop offset="0.6075" stop-color="#00bfff"/><stop offset="0.6226" stop-color="#40ffbf"/><stop offset="0.6604" stop-color="#40ffbf"/><stop offset="0.6868" stop-color="#00bfff"/><stop offset="0.7132" stop-color="#0080ff"/><stop offset="0.7358" stop-color="#00bfff"/><stop offset="0.7585" stop-color="#40ffbf"/><stop offset="0.7849" stop-color="#feff01"/><stop offset="0.8113" stop-color="#ffff00"/><stop offset="0.8340" stop-color="#ecff13"/><stop offset="0.8679" stop-color="#ecff13"/><stop offset="0.8943" stop-color="#feff01"/><stop offset="0.9245" stop-color="#feff01"/><stop offset="0.9547" stop-color="#acff53"/><stop offset="0.9774" stop-color="#feff01"/><stop offset="0.9887" stop-color="#ffff00"/><stop offset="0.9981" stop-color="#ffff00"/><stop offset="1.0000" stop-color="#ffff00"/></linearGradient><linearGradient id="c27_0" gradientUnits="userSpaceOnUse" x1="0" y1="135" x2="0" y2="665"><stop offset="0.0000" stop-color="#808080" stop-opacity="0"/><stop offset="0.3113" stop-color="#0073ff" stop-opacity="0"/><stop offset="0.3113" stop-color="#0073ff"/><stop offset="0.3165" stop-color="#0073ff"/><stop offset="0.3424" stop-color="#0060ff"/><stop offset="0.3434" stop-color="#0060ff"/><stop offset="0.3434" stop-color="#0060ff" stop-opacity="0"/><stop offset="0.5245" stop-color="#0000ff" stop-opacity="0"/><stop offset="0.5245" stop-color="#0000ff"/><stop offset="0.5349" stop-color="#00bfff"/><stop offset="0.5660" stop-color="#40ffbf"/><stop offset="0.5925" stop-color="#acff53"/><stop offset="0.6226" stop-color="#acff53"/><stop offset="0.6528" stop-color="#acff53"/><stop offset="0.6848" stop-color="#00bfff"/><stop offset="0.6931" stop-color="#0040ff"/><stop offset="0.6962" stop-color="#0040ff"/><stop offset="0.6962" stop-color="#0040ff" stop-opacity="0"/><stop offset="0.7245" stop-color="#0040ff" stop-opacity="0"/><stop offset="0.7245" stop-color="#0040ff"/><stop offset="0.7370" stop-color="#0080ff"/><stop offset="0.7736" stop-color="#20ffdf"/><stop offset="0.8000" stop-color="#acff53"/><stop offset="0.8264" stop-color="#acff53"/><stop offset="0.8453" stop-color="#00ffff"/><stop offset="0.8642" stop-color="#0040ff"/><stop offset="0.8943" stop-color="#0020ff"/><stop offset="0.9245" stop-color="#0040ff"/><stop offset="0.9472" stop-color="#00bfff"/><stop offset="0.9698" stop-color="#acff53"/><stop offset="0.9849" stop-color="#ffdf00"/><stop offset="0.9925" stop-color="#ff5900"/><stop offset="0.9981" stop-color="#ff5900"/><stop offset="1.0000" stop-color="#ff5900"/></linearGradient><linearGradient id="c28_0" gradientUnits="userSpaceOnUse" x1="0" y1="135" x2="0" y2="665"><stop offset="0.0000" stop-color="#808080" stop-opacity="0"/><stop offset="0.2925" stop-color="#0073ff" stop-opacity="0"/><stop offset="0.2925" stop-color="#0073ff"/><stop offset="0.3272" stop-color="#00a6ff"/><stop offset="0.3292" stop-color="#0080ff"/><stop offset="0.3386" stop-color="#0060ff"/><stop offset="0.3396" stop-color="#0060ff"/><stop offset="0.3396" stop-color="#0060ff" stop-opacity="0"/><stop offset="0.5125" stop-color="#0000ff" stop-opacity="0"/><stop offset="0.5125" stop-color="#0000ff"/><stop offset="0.5212" stop-color="#00bfff"/><stop offset="0.5547" stop-color="#40ffbf"/><stop offset="0.5849" stop-color="#ccff33"/><stop offset="0.6226" stop-color="#ccff33"/><stop offset="0.6604" stop-color="#ecff13"/><stop offset="0.6906" stop-color="#acff53"/><stop offset="0.7132" stop-color="#00ffff"/><stop offset="0.7358" stop-color="#0080ff"/><stop offset="0.7585" stop-color="#0080ff"/><stop offset="0.7811" stop-color="#00ffff"/><stop offset="0.8113" stop-color="#acff53"/><stop offset="0.8491" stop-color="#acff53"/><stop offset="0.8868" stop-color="#8cff73"/><stop offset="0.9245" stop-color="#8cff73"/><stop offset="0.9547" stop-color="#acff53"/><stop offset="0.9774" stop-color="#ffff00"/><stop offset="0.9868" stop-color="#ff9f00"/><stop offset="0.9932" stop-color="#ff0000"/><stop offset="0.9981" stop-color="#ff5900"/><stop offset="1.0000" stop-color="#ff5900"/></linearGradient><linearGradient id="c29_0" gradientUnits="userSpaceOnUse" x1="0" y1="135" x2="0" y2="665"><stop offset="0.0000" stop-color="#808080" stop-opacity="0"/><stop offset="0.2887" stop-color="#004dff" stop-opacity="0"/><stop offset="0.2887" stop-color="#004dff"/><stop offset="0.3217" stop-color="#0073ff"/><stop offset="0.3258" stop-color="#0060ff"/><stop offset="0.3310" stop-color="#0053ff"/><stop offset="0.3321" stop-color="#0053ff"/><stop offset="0.3321" stop-color="#0053ff" stop-opacity="0"/><stop offset="0.5162" stop-color="#0000ff" stop-opacity="0"/><stop offset="0.5162" stop-color="#0000ff"/><stop offset="0.5270" stop-color="#0080ff"/><stop offset="0.5585" stop-color="#0040ff"/><stop offset="0.5811" stop-color="#00ffff"/><stop offset="0.6038" stop-color="#acff53"/><stop offset="0.6226" stop-color="#ecff13"/><stop offset="0.6604" stop-color="#feff01"/><stop offset="0.6981" stop-color="#ecff13"/><stop offset="0.7283" stop-color="#acff53"/><stop offset="0.7509" stop-color="#00ffff"/><stop offset="0.7736" stop-color="#0080ff"/><stop offset="0.7962" stop-color="#009fff"/><stop offset="0.8189" stop-color="#20ffdf"/><stop offset="0.8491" stop-color="#8cff73"/><stop offset="0.8792" stop-color="#20ffdf"/><stop offset="0.9094" stop-color="#40ffbf"/><stop offset="0.9245" stop-color="#8cff73"/><stop offset="0.9472" stop-color="#acff53"/><stop offset="0.9736" stop-color="#ffff00"/><stop offset="0.9849" stop-color="#ffbf00"/><stop offset="0.9932" stop-color="#ff0000"/><stop offset="0.9981" stop-color="#ff5900"/><stop offset="1.0000" stop-color="#ff5900"/></linearGradient><linearGradient id="c30_0" gradientUnits="userSpaceOnUse" x1="0" y1="135" x2="0" y2="665"><stop offset="0.0000" stop-color="#808080" stop-opacity="0"/><stop offset="0.5113" stop-color="#0000ff" stop-opacity="0"/><stop offset="0.5113" stop-color="#0000ff"/><stop offset="0.5472" stop-color="#0020ff"/><stop offset="0.5660" stop-color="#0040ff"/><stop offset="0.5849" stop-color="#00ffff"/><stop offset="0.6075" stop-color="#acff53"/><stop offset="0.6226" stop-color="#feff01"/><stop offset="0.6528" stop-color="#ffbf00"/><stop offset="0.6981" stop-color="#ff9f00"/><stop offset="0.7358" stop-color="#ffbf00"/><stop offset="0.7736" stop-color="#ffdf00"/><stop offset="0.8000" stop-color="#acff53"/><stop offset="0.8226" stop-color="#00bfff"/><stop offset="0.8491" stop-color="#00ffff"/><stop offset="0.8792" stop-color="#00bfff"/><stop offset="0.9019" stop-color="#00ffff"/><stop offset="0.9245" stop-color="#40ffbf"/><stop offset="0.9321" stop-color="#40ffbf"/><stop offset="0.9547" stop-color="#acff53"/><stop offset="0.9774" stop-color="#ffff00"/><stop offset="0.9868" stop-color="#ffbf00"/><stop offset="0.9932" stop-color="#ff0000"/><stop offset="0.9981" stop-color="#ff5900"/><stop offset="1.0000" stop-color="#ff5900"/></linearGradient><linearGradient id="c31_0" gradientUnits="userSpaceOnUse" x1="0" y1="135" x2="0" y2="665"><stop offset="0.0000" stop-color="#808080" stop-opacity="0"/><stop offset="0.4981" stop-color="#0000ff" stop-opacity="0"/><stop offset="0.4981" stop-color="#0000ff"/><stop offset="0.5225" stop-color="#0040ff"/><stop offset="0.5245" stop-color="#0040ff"/><stop offset="0.5245" stop-color="#0040ff" stop-opacity="0"/><stop offset="0.5547" stop-color="#0020ff" stop-opacity="0"/><stop offset="0.5547" stop-color="#0020ff"/><stop offset="0.5630" stop-color="#00bfff"/><stop offset="0.5925" stop-color="#40ffbf"/><stop offset="0.6226" stop-color="#ecff13"/><stop offset="0.6604" stop-color="#ecff13"/><stop offset="0.6981" stop-color="#ecff13"/><stop offset="0.7358" stop-color="#ffff00"/><stop offset="0.7660" stop-color="#ffbf00"/><stop offset="0.7962" stop-color="#ffbf00"/><stop offset="0.8226" stop-color="#feff01"/><stop offset="0.8491" stop-color="#acff53"/><stop offset="0.8679" stop-color="#00bfff"/><stop offset="0.8868" stop-color="#0060ff"/><stop offset="0.9094" stop-color="#0080ff"/><stop offset="0.9245" stop-color="#00bfff"/><stop offset="0.9434" stop-color="#00ffff"/><stop offset="0.9623" stop-color="#acff53"/><stop offset="0.9811" stop-color="#ffdf00"/><stop offset="0.9925" stop-color="#ff2900"/><stop offset="0.9981" stop-color="#ff9900"/><stop offset="1.0000" stop-color="#ff9900"/></linearGradient><linearGradient id="c32_0" gradientUnits="userSpaceOnUse" x1="0" y1="135" x2="0" y2="665"><stop offset="0.0000" stop-color="#808080" stop-opacity="0"/><stop offset="0.4887" stop-color="#0000ff" stop-opacity="0"/><stop offset="0.4887" stop-color="#0000ff"/><stop offset="0.4980" stop-color="#00bfff"/><stop offset="0.5283" stop-color="#00ffff"/><stop offset="0.5509" stop-color="#0080ff"/><stop offset="0.5698" stop-color="#00ffff"/><stop offset="0.6000" stop-color="#acff53"/><stop offset="0.6226" stop-color="#acff53"/><stop offset="0.6604" stop-color="#acff53"/><stop offset="0.6981" stop-color="#8cff73"/><stop offset="0.7358" stop-color="#40ffbf"/><stop offset="0.7736" stop-color="#8cff73"/><stop offset="0.8038" stop-color="#ccff33"/><stop offset="0.8340" stop-color="#acff53"/><stop offset="0.8566" stop-color="#00bfff"/><stop offset="0.8792" stop-color="#0060ff"/><stop offset="0.9057" stop-color="#0080ff"/><stop offset="0.9245" stop-color="#00bfff"/><stop offset="0.9321" stop-color="#00ffff"/><stop offset="0.9547" stop-color="#40ffbf"/><stop offset="0.9736" stop-color="#ecff13"/><stop offset="0.9849" stop-color="#ffbf00"/><stop offset="0.9932" stop-color="#ff2900"/><stop offset="0.9981" stop-color="#ff5900"/><stop offset="1.0000" stop-color="#ff5900"/></linearGradient><linearGradient id="c33_0" gradientUnits="userSpaceOnUse" x1="0" y1="135" x2="0" y2="665"><stop offset="0.0000" stop-color="#808080" stop-opacity="0"/><stop offset="0.4792" stop-color="#0000ff" stop-opacity="0"/><stop offset="0.4792" stop-color="#0000ff"/><stop offset="0.4855" stop-color="#00bfff"/><stop offset="0.5094" stop-color="#20ffdf"/><stop offset="0.5321" stop-color="#40ffbf"/><stop offset="0.5547" stop-color="#00bfff"/><stop offset="0.5774" stop-color="#40ffbf"/><stop offset="0.6038" stop-color="#ecff13"/><stop offset="0.6226" stop-color="#acff53"/><stop offset="0.6604" stop-color="#ccff33"/><stop offset="0.6981" stop-color="#acff53"/><stop offset="0.7358" stop-color="#20ffdf"/><stop offset="0.7736" stop-color="#40ffbf"/><stop offset="0.8113" stop-color="#acff53"/><stop offset="0.8340" stop-color="#8cff73"/><stop offset="0.8566" stop-color="#00bfff"/><stop offset="0.8755" stop-color="#0060ff"/><stop offset="0.8981" stop-color="#00bfff"/><stop offset="0.9094" stop-color="#acff53"/><stop offset="0.9245" stop-color="#ccff33"/><stop offset="0.9434" stop-color="#ecff13"/><stop offset="0.9623" stop-color="#ff9900"/><stop offset="0.9811" stop-color="#ff5900"/><stop offset="0.9925" stop-color="#ec0000"/><stop offset="0.9981" stop-color="#ff0000"/><stop offset="1.0000" stop-color="#ff0000"/></linearGradient><linearGradient id="c34_0" gradientUnits="userSpaceOnUse" x1="0" y1="135" x2="0" y2="665"><stop offset="0.0000" stop-color="#808080" stop-opacity="0"/><stop offset="0.4687" stop-color="#0020ff" stop-opacity="0"/><stop offset="0.4687" stop-color="#0020ff"/><stop offset="0.4786" stop-color="#00dfff"/><stop offset="0.5094" stop-color="#20ffdf"/><stop offset="0.5396" stop-color="#0040ff"/><stop offset="0.5585" stop-color="#0020ff"/><stop offset="0.5736" stop-color="#00bfff"/><stop offset="0.5962" stop-color="#acff53"/><stop offset="0.6226" stop-color="#ecff13"/><stop offset="0.6528" stop-color="#feff01"/><stop offset="0.6830" stop-color="#ffff00"/><stop offset="0.7208" stop-color="#ffdf00"/><stop offset="0.7585" stop-color="#ffff00"/><stop offset="0.7887" stop-color="#acff53"/><stop offset="0.8189" stop-color="#40ffbf"/><stop offset="0.8491" stop-color="#20ffdf"/><stop offset="0.8792" stop-color="#8cff73"/><stop offset="0.9019" stop-color="#ecff13"/><stop offset="0.9057" stop-color="#ff9f00"/><stop offset="0.9245" stop-color="#ff9f00"/><stop offset="0.9434" stop-color="#ff9f00"/><stop offset="0.9698" stop-color="#ff7900"/><stop offset="0.9849" stop-color="#ff2900"/><stop offset="0.9925" stop-color="#d90000"/><stop offset="0.9981" stop-color="#ec0000"/><stop offset="1.0000" stop-color="#ec0000"/></linearGradient><linearGradient id="c35_0" gradientUnits="userSpaceOnUse" x1="0" y1="135" x2="0" y2="665"><stop offset="0.0000" stop-color="#808080" stop-opacity="0"/><stop offset="0.4668" stop-color="#0020ff" stop-opacity="0"/><stop offset="0.4668" stop-color="#0020ff"/><stop offset="0.4757" stop-color="#00dfff"/><stop offset="0.5032" stop-color="#00bfff"/><stop offset="0.5084" stop-color="#0040ff"/><stop offset="0.5094" stop-color="#0040ff"/><stop offset="0.5094" stop-color="#0040ff" stop-opacity="0"/><stop offset="0.5509" stop-color="#0000ff" stop-opacity="0"/><stop offset="0.5509" stop-color="#0000ff"/><stop offset="0.5592" stop-color="#00bfff"/><stop offset="0.5849" stop-color="#8cff73"/><stop offset="0.6151" stop-color="#ecff13"/><stop offset="0.6226" stop-color="#feff01"/><stop offset="0.6604" stop-color="#ffff00"/><stop offset="0.6981" stop-color="#ffbf00"/><stop offset="0.7434" stop-color="#ff9f00"/><stop offset="0.7736" stop-color="#ffbf00"/><stop offset="0.8000" stop-color="#ecff13"/><stop offset="0.8226" stop-color="#40ffbf"/><stop offset="0.8491" stop-color="#20ffdf"/><stop offset="0.8755" stop-color="#acff53"/><stop offset="0.8981" stop-color="#feff01"/><stop offset="0.9057" stop-color="#ff9f00"/><stop offset="0.9245" stop-color="#ff9f00"/><stop offset="0.9434" stop-color="#ff9f00"/><stop offset="0.9698" stop-color="#ff5900"/><stop offset="0.9849" stop-color="#ff0000"/><stop offset="0.9925" stop-color="#c60000"/><stop offset="0.9981" stop-color="#d90000"/><stop offset="1.0000" stop-color="#d90000"/></linearGradient><linearGradient id="c36_0" gradientUnits="userSpaceOnUse" x1="0" y1="135" x2="0" y2="665"><stop offset="0.0000" stop-color="#808080" stop-opacity="0"/><stop offset="0.2830" stop-color="#0040ff" stop-opacity="0"/><stop offset="0.2830" stop-color="#0040ff"/><stop offset="0.3197" stop-color="#0040ff"/><stop offset="0.3208" stop-color="#0040ff"/><stop offset="0.3208" stop-color="#0040ff" stop-opacity="0"/><stop offset="0.4679" stop-color="#0020ff" stop-opacity="0"/><stop offset="0.4679" stop-color="#0020ff"/><stop offset="0.4762" stop-color="#00ffff"/><stop offset="0.4996" stop-color="#0080ff"/><stop offset="0.5027" stop-color="#0040ff"/><stop offset="0.5038" stop-color="#0040ff"/><stop offset="0.5038" stop-color="#0040ff" stop-opacity="0"/><stop offset="0.5453" stop-color="#0000ff" stop-opacity="0"/><stop offset="0.5453" stop-color="#0000ff"/><stop offset="0.5546" stop-color="#00bfff"/><stop offset="0.5811" stop-color="#40ffbf"/><stop offset="0.6075" stop-color="#ecff13"/><stop offset="0.6226" stop-color="#ecff13"/><stop offset="0.6377" stop-color="#ffff00"/><stop offset="0.6528" stop-color="#ff5900"/><stop offset="0.6981" stop-color="#ff2900"/><stop offset="0.7547" stop-color="#ff2900"/><stop offset="0.7811" stop-color="#ff5900"/><stop offset="0.8075" stop-color="#ffbf00"/><stop offset="0.8264" stop-color="#ecff13"/><stop offset="0.8566" stop-color="#ecff13"/><stop offset="0.8830" stop-color="#ffdf00"/><stop offset="0.9019" stop-color="#ffbf00"/><stop offset="0.9057" stop-color="#ff9900"/><stop offset="0.9245" stop-color="#ff9900"/><stop offset="0.9434" stop-color="#ff9900"/><stop offset="0.9660" stop-color="#ff5900"/><stop offset="0.9849" stop-color="#ec0000"/><stop offset="0.9896" stop-color="#b80000"/><stop offset="0.9925" stop-color="#800000"/><stop offset="0.9981" stop-color="#c60000"/><stop offset="1.0000" stop-color="#c60000"/></linearGradient><linearGradient id="c37_0" gradientUnits="userSpaceOnUse" x1="0" y1="135" x2="0" y2="665"><stop offset="0.0000" stop-color="#808080" stop-opacity="0"/><stop offset="0.2811" stop-color="#0040ff" stop-opacity="0"/><stop offset="0.2811" stop-color="#0040ff"/><stop offset="0.3166" stop-color="#0053ff"/><stop offset="0.3208" stop-color="#0053ff"/><stop offset="0.3208" stop-color="#0053ff" stop-opacity="0"/><stop offset="0.4660" stop-color="#0020ff" stop-opacity="0"/><stop offset="0.4660" stop-color="#0020ff"/><stop offset="0.4733" stop-color="#00dfff"/><stop offset="0.4904" stop-color="#0060ff"/><stop offset="0.4925" stop-color="#0060ff"/><stop offset="0.4925" stop-color="#0060ff" stop-opacity="0"/><stop offset="0.5547" stop-color="#0000ff" stop-opacity="0"/><stop offset="0.5547" stop-color="#0000ff"/><stop offset="0.5630" stop-color="#00bfff"/><stop offset="0.5849" stop-color="#40ffbf"/><stop offset="0.6113" stop-color="#ecff13"/><stop offset="0.6226" stop-color="#feff01"/><stop offset="0.6453" stop-color="#ffdf00"/><stop offset="0.6604" stop-color="#ff5900"/><stop offset="0.6981" stop-color="#ff2900"/><stop offset="0.7736" stop-color="#ff2900"/><stop offset="0.8038" stop-color="#ff5900"/><stop offset="0.8264" stop-color="#ff9f00"/><stop offset="0.8491" stop-color="#ffdf00"/><stop offset="0.8868" stop-color="#ffbf00"/><stop offset="0.9019" stop-color="#ff9f00"/><stop offset="0.9057" stop-color="#ff2900"/><stop offset="0.9245" stop-color="#ff0000"/><stop offset="0.9623" stop-color="#ec0000"/><stop offset="0.9811" stop-color="#d90000"/><stop offset="0.9896" stop-color="#b80000"/><stop offset="0.9925" stop-color="#800000"/><stop offset="0.9981" stop-color="#800000"/><stop offset="1.0000" stop-color="#800000"/></linearGradient><linearGradient id="c38_0" gradientUnits="userSpaceOnUse" x1="0" y1="135" x2="0" y2="665"><stop offset="0.0000" stop-color="#808080" stop-opacity="0"/><stop offset="0.2755" stop-color="#004dff" stop-opacity="0"/><stop offset="0.2755" stop-color="#004dff"/><stop offset="0.3125" stop-color="#0080ff"/><stop offset="0.3208" stop-color="#0080ff"/><stop offset="0.3208" stop-color="#0080ff" stop-opacity="0"/><stop offset="0.4340" stop-color="#0020ff" stop-opacity="0"/><stop offset="0.4340" stop-color="#0020ff"/><stop offset="0.4423" stop-color="#009fff"/><stop offset="0.4785" stop-color="#00ffff"/><stop offset="0.4847" stop-color="#0080ff"/><stop offset="0.4868" stop-color="#0080ff"/><stop offset="0.4868" stop-color="#0080ff" stop-opacity="0"/><stop offset="0.5660" stop-color="#0000ff" stop-opacity="0"/><stop offset="0.5660" stop-color="#0000ff"/><stop offset="0.5743" stop-color="#00bfff"/><stop offset="0.5925" stop-color="#40ffbf"/><stop offset="0.6151" stop-color="#ecff13"/><stop offset="0.6226" stop-color="#feff01"/><stop offset="0.6453" stop-color="#ffdf00"/><stop offset="0.6679" stop-color="#ff9900"/><stop offset="0.7170" stop-color="#ff7900"/><stop offset="0.7547" stop-color="#ff5900"/><stop offset="0.7925" stop-color="#ff2900"/><stop offset="0.8264" stop-color="#ff5900"/><stop offset="0.8491" stop-color="#ff9f00"/><stop offset="0.8792" stop-color="#ffbf00"/><stop offset="0.9019" stop-color="#ff9900"/><stop offset="0.9057" stop-color="#ff0000"/><stop offset="0.9245" stop-color="#ec0000"/><stop offset="0.9434" stop-color="#ec0000"/><stop offset="0.9736" stop-color="#c60000"/><stop offset="0.9896" stop-color="#b80000"/><stop offset="0.9925" stop-color="#800000"/><stop offset="0.9981" stop-color="#800000"/><stop offset="1.0000" stop-color="#800000"/></linearGradient><linearGradient id="c39_0" gradientUnits="userSpaceOnUse" x1="0" y1="135" x2="0" y2="665"><stop offset="0.0000" stop-color="#808080" stop-opacity="0"/><stop offset="0.2792" stop-color="#0060ff" stop-opacity="0"/><stop offset="0.2792" stop-color="#0060ff"/><stop offset="0.3166" stop-color="#009fff"/><stop offset="0.3208" stop-color="#009fff"/><stop offset="0.3208" stop-color="#009fff" stop-opacity="0"/><stop offset="0.4234" stop-color="#0020ff" stop-opacity="0"/><stop offset="0.4234" stop-color="#0020ff"/><stop offset="0.4334" stop-color="#00bfff"/><stop offset="0.4689" stop-color="#00dfff"/><stop offset="0.4772" stop-color="#0060ff"/><stop offset="0.4792" stop-color="#0060ff"/><stop offset="0.4792" stop-color="#0060ff" stop-opacity="0"/><stop offset="0.5162" stop-color="#0000ff" stop-opacity="0"/><stop offset="0.5162" stop-color="#0000ff"/><stop offset="0.5472" stop-color="#0040ff"/><stop offset="0.5698" stop-color="#00bfff"/><stop offset="0.5887" stop-color="#40ffbf"/><stop offset="0.6151" stop-color="#ecff13"/><stop offset="0.6226" stop-color="#feff01"/><stop offset="0.6415" stop-color="#ffbf00"/><stop offset="0.6604" stop-color="#ff2900"/><stop offset="0.7170" stop-color="#ff0000"/><stop offset="0.7736" stop-color="#ff0000"/><stop offset="0.8189" stop-color="#ff2900"/><stop offset="0.8415" stop-color="#ff5900"/><stop offset="0.8642" stop-color="#ffbf00"/><stop offset="0.8868" stop-color="#ffdf00"/><stop offset="0.9019" stop-color="#ffbf00"/><stop offset="0.9057" stop-color="#ff9900"/><stop offset="0.9245" stop-color="#ff9900"/><stop offset="0.9434" stop-color="#ff9900"/><stop offset="0.9736" stop-color="#ff7900"/><stop offset="0.9887" stop-color="#d90000"/><stop offset="0.9943" stop-color="#800000"/><stop offset="0.9981" stop-color="#800000"/><stop offset="1.0000" stop-color="#800000"/></linearGradient><linearGradient id="c40_0" gradientUnits="userSpaceOnUse" x1="0" y1="135" x2="0" y2="665"><stop offset="0.0000" stop-color="#808080" stop-opacity="0"/><stop offset="0.2642" stop-color="#0060ff" stop-opacity="0"/><stop offset="0.2642" stop-color="#0060ff"/><stop offset="0.3057" stop-color="#00a6ff"/><stop offset="0.3208" stop-color="#0080ff"/><stop offset="0.3489" stop-color="#0060ff"/><stop offset="0.3509" stop-color="#0060ff"/><stop offset="0.3509" stop-color="#0060ff" stop-opacity="0"/><stop offset="0.4925" stop-color="#0000ff" stop-opacity="0"/><stop offset="0.4925" stop-color="#0000ff"/><stop offset="0.4997" stop-color="#0080ff"/><stop offset="0.5245" stop-color="#00ffff"/><stop offset="0.5509" stop-color="#40ffbf"/><stop offset="0.5849" stop-color="#acff53"/><stop offset="0.6226" stop-color="#feff01"/><stop offset="0.6415" stop-color="#ffbf00"/><stop offset="0.6566" stop-color="#ff5900"/><stop offset="0.6981" stop-color="#ff2900"/><stop offset="0.7736" stop-color="#ff2900"/><stop offset="0.8340" stop-color="#ff2900"/><stop offset="0.8642" stop-color="#ff5900"/><stop offset="0.8868" stop-color="#ff9f00"/><stop offset="0.9000" stop-color="#ff9900"/><stop offset="0.9038" stop-color="#ff0000"/><stop offset="0.9245" stop-color="#ec0000"/><stop offset="0.9547" stop-color="#ff0000"/><stop offset="0.9736" stop-color="#c60000"/><stop offset="0.9858" stop-color="#b80000"/><stop offset="0.9887" stop-color="#800000"/><stop offset="0.9981" stop-color="#800000"/><stop offset="1.0000" stop-color="#800000"/></linearGradient><linearGradient id="c41_0" gradientUnits="userSpaceOnUse" x1="0" y1="135" x2="0" y2="665"><stop offset="0.0000" stop-color="#808080" stop-opacity="0"/><stop offset="0.2774" stop-color="#0060ff" stop-opacity="0"/><stop offset="0.2774" stop-color="#0060ff"/><stop offset="0.3208" stop-color="#009fff"/><stop offset="0.3564" stop-color="#0080ff"/><stop offset="0.3585" stop-color="#0080ff"/><stop offset="0.3585" stop-color="#0080ff" stop-opacity="0"/><stop offset="0.4396" stop-color="#0040ff" stop-opacity="0"/><stop offset="0.4396" stop-color="#0040ff"/><stop offset="0.4531" stop-color="#0080ff"/><stop offset="0.4830" stop-color="#0060ff"/><stop offset="0.4981" stop-color="#00bfff"/><stop offset="0.5208" stop-color="#00ffff"/><stop offset="0.5472" stop-color="#40ffbf"/><stop offset="0.5849" stop-color="#acff53"/><stop offset="0.6226" stop-color="#ecff13"/><stop offset="0.6528" stop-color="#feff01"/><stop offset="0.6792" stop-color="#ffdf00"/><stop offset="0.7170" stop-color="#ffbf00"/><stop offset="0.7547" stop-color="#ffbf00"/><stop offset="0.7925" stop-color="#ff9900"/><stop offset="0.8302" stop-color="#ff5900"/><stop offset="0.8642" stop-color="#ff2900"/><stop offset="0.8943" stop-color="#ff5900"/><stop offset="0.9019" stop-color="#ec0000"/><stop offset="0.9245" stop-color="#d90000"/><stop offset="0.9434" stop-color="#ec0000"/><stop offset="0.9623" stop-color="#c60000"/><stop offset="0.9821" stop-color="#b80000"/><stop offset="0.9849" stop-color="#800000"/><stop offset="0.9981" stop-color="#800000"/><stop offset="1.0000" stop-color="#800000"/></linearGradient><linearGradient id="c42_0" gradientUnits="userSpaceOnUse" x1="0" y1="135" x2="0" y2="665"><stop offset="0.0000" stop-color="#808080" stop-opacity="0"/><stop offset="0.3434" stop-color="#0080ff" stop-opacity="0"/><stop offset="0.3434" stop-color="#0080ff"/><stop offset="0.3715" stop-color="#0073ff"/><stop offset="0.3736" stop-color="#0073ff"/><stop offset="0.3736" stop-color="#0073ff" stop-opacity="0"/><stop offset="0.3906" stop-color="#0040ff" stop-opacity="0"/><stop offset="0.3906" stop-color="#0040ff"/><stop offset="0.4041" stop-color="#0080ff"/><stop offset="0.4453" stop-color="#0080ff"/><stop offset="0.4717" stop-color="#0060ff"/><stop offset="0.4868" stop-color="#0080ff"/><stop offset="0.5019" stop-color="#00ffff"/><stop offset="0.5245" stop-color="#20ffdf"/><stop offset="0.5547" stop-color="#40ffbf"/><stop offset="0.5849" stop-color="#acff53"/><stop offset="0.6226" stop-color="#ccff33"/><stop offset="0.6604" stop-color="#ecff13"/><stop offset="0.6981" stop-color="#feff01"/><stop offset="0.7358" stop-color="#feff01"/><stop offset="0.7736" stop-color="#ffff00"/><stop offset="0.8038" stop-color="#ffbf00"/><stop offset="0.8340" stop-color="#ff9900"/><stop offset="0.8679" stop-color="#ff7900"/><stop offset="0.8962" stop-color="#ff7900"/><stop offset="0.9019" stop-color="#d90000"/><stop offset="0.9245" stop-color="#d90000"/><stop offset="0.9434" stop-color="#d90000"/><stop offset="0.9623" stop-color="#c60000"/><stop offset="0.9783" stop-color="#b80000"/><stop offset="0.9811" stop-color="#800000"/><stop offset="0.9981" stop-color="#800000"/><stop offset="1.0000" stop-color="#800000"/></linearGradient><linearGradient id="c43_0" gradientUnits="userSpaceOnUse" x1="0" y1="135" x2="0" y2="665"><stop offset="0.0000" stop-color="#808080" stop-opacity="0"/><stop offset="0.4811" stop-color="#0000ff" stop-opacity="0"/><stop offset="0.4811" stop-color="#0000ff"/><stop offset="0.4884" stop-color="#00bfff"/><stop offset="0.5094" stop-color="#20ffdf"/><stop offset="0.5472" stop-color="#8cff73"/><stop offset="0.5849" stop-color="#ccff33"/><stop offset="0.6226" stop-color="#ccff33"/><stop offset="0.6604" stop-color="#ecff13"/><stop offset="0.6981" stop-color="#feff01"/><stop offset="0.7358" stop-color="#feff01"/><stop offset="0.7623" stop-color="#ffff00"/><stop offset="0.7925" stop-color="#ffdf00"/><stop offset="0.8302" stop-color="#ffbf00"/><stop offset="0.8679" stop-color="#ff9900"/><stop offset="0.8962" stop-color="#ff9900"/><stop offset="0.9011" stop-color="#ec0000"/><stop offset="0.9245" stop-color="#d90000"/><stop offset="0.9434" stop-color="#ec0000"/><stop offset="0.9623" stop-color="#c60000"/><stop offset="0.9783" stop-color="#b80000"/><stop offset="0.9811" stop-color="#800000"/><stop offset="0.9981" stop-color="#800000"/><stop offset="1.0000" stop-color="#800000"/></linearGradient><linearGradient id="c44_0" gradientUnits="userSpaceOnUse" x1="0" y1="135" x2="0" y2="665"><stop offset="0.0000" stop-color="#808080" stop-opacity="0"/><stop offset="0.2717" stop-color="#0040ff" stop-opacity="0"/><stop offset="0.2717" stop-color="#0040ff"/><stop offset="0.3132" stop-color="#0060ff"/><stop offset="0.3208" stop-color="#0060ff"/><stop offset="0.3585" stop-color="#0060ff"/><stop offset="0.3942" stop-color="#0040ff"/><stop offset="0.3962" stop-color="#0040ff"/><stop offset="0.3962" stop-color="#0040ff" stop-opacity="0"/><stop offset="0.4875" stop-color="#0000ff" stop-opacity="0"/><stop offset="0.4875" stop-color="#0000ff"/><stop offset="0.4944" stop-color="#00bfff"/><stop offset="0.5170" stop-color="#20ffdf"/><stop offset="0.5472" stop-color="#acff53"/><stop offset="0.5849" stop-color="#ccff33"/><stop offset="0.6226" stop-color="#ccff33"/><stop offset="0.6604" stop-color="#ecff13"/><stop offset="0.6981" stop-color="#feff01"/><stop offset="0.7358" stop-color="#ffff00"/><stop offset="0.7660" stop-color="#ffdf00"/><stop offset="0.7925" stop-color="#ff9f00"/><stop offset="0.8302" stop-color="#ff9900"/><stop offset="0.8679" stop-color="#ff7900"/><stop offset="0.8962" stop-color="#ff7900"/><stop offset="0.9011" stop-color="#ff0000"/><stop offset="0.9245" stop-color="#ec0000"/><stop offset="0.9434" stop-color="#ec0000"/><stop offset="0.9660" stop-color="#c60000"/><stop offset="0.9783" stop-color="#b80000"/><stop offset="0.9811" stop-color="#800000"/><stop offset="0.9981" stop-color="#800000"/><stop offset="1.0000" stop-color="#800000"/></linearGradient><linearGradient id="c45_0" gradientUnits="userSpaceOnUse" x1="0" y1="135" x2="0" y2="665"><stop offset="0.0000" stop-color="#808080" stop-opacity="0"/><stop offset="0.2679" stop-color="#0040ff" stop-opacity="0"/><stop offset="0.2679" stop-color="#0040ff"/><stop offset="0.2981" stop-color="#0066ff"/><stop offset="0.3208" stop-color="#0080ff"/><stop offset="0.3585" stop-color="#0080ff"/><stop offset="0.3962" stop-color="#00bfff"/><stop offset="0.4294" stop-color="#00bfff"/><stop offset="0.4367" stop-color="#0060ff"/><stop offset="0.4377" stop-color="#0060ff"/><stop offset="0.4377" stop-color="#0060ff" stop-opacity="0"/><stop offset="0.4894" stop-color="#0000ff" stop-opacity="0"/><stop offset="0.4894" stop-color="#0000ff"/><stop offset="0.4963" stop-color="#00bfff"/><stop offset="0.5208" stop-color="#20ffdf"/><stop offset="0.5472" stop-color="#acff53"/><stop offset="0.5849" stop-color="#ccff33"/><stop offset="0.6226" stop-color="#ccff33"/><stop offset="0.6604" stop-color="#ecff13"/><stop offset="0.6981" stop-color="#feff01"/><stop offset="0.7358" stop-color="#ffff00"/><stop offset="0.7660" stop-color="#ffbf00"/><stop offset="0.7925" stop-color="#ff9900"/><stop offset="0.8302" stop-color="#ff9900"/><stop offset="0.8679" stop-color="#ff7900"/><stop offset="0.8962" stop-color="#ff7900"/><stop offset="0.9000" stop-color="#ff0000"/><stop offset="0.9245" stop-color="#ec0000"/><stop offset="0.9434" stop-color="#ec0000"/><stop offset="0.9660" stop-color="#c60000"/><stop offset="0.9783" stop-color="#b80000"/><stop offset="0.9811" stop-color="#800000"/><stop offset="0.9981" stop-color="#800000"/><stop offset="1.0000" stop-color="#800000"/></linearGradient><linearGradient id="c46_0" gradientUnits="userSpaceOnUse" x1="0" y1="135" x2="0" y2="665"><stop offset="0.0000" stop-color="#808080" stop-opacity="0"/><stop offset="0.2755" stop-color="#004dff" stop-opacity="0"/><stop offset="0.2755" stop-color="#004dff"/><stop offset="0.3132" stop-color="#0080ff"/><stop offset="0.3208" stop-color="#0060ff"/><stop offset="0.3434" stop-color="#0080ff"/><stop offset="0.3774" stop-color="#009fff"/><stop offset="0.4151" stop-color="#00bfff"/><stop offset="0.4425" stop-color="#0040ff"/><stop offset="0.4518" stop-color="#0040ff"/><stop offset="0.4528" stop-color="#0040ff"/><stop offset="0.4528" stop-color="#0040ff" stop-opacity="0"/><stop offset="0.4953" stop-color="#0040ff" stop-opacity="0"/><stop offset="0.4953" stop-color="#0040ff"/><stop offset="0.5010" stop-color="#00dfff"/><stop offset="0.5283" stop-color="#40ffbf"/><stop offset="0.5566" stop-color="#acff53"/><stop offset="0.5849" stop-color="#ecff13"/><stop offset="0.6226" stop-color="#feff01"/><stop offset="0.6604" stop-color="#ffff00"/><stop offset="0.6830" stop-color="#ffdf00"/><stop offset="0.7075" stop-color="#ff9f00"/><stop offset="0.7358" stop-color="#ff9900"/><stop offset="0.7434" stop-color="#ff9f00"/><stop offset="0.7736" stop-color="#ff9900"/><stop offset="0.8302" stop-color="#ff9900"/><stop offset="0.8679" stop-color="#ff7900"/><stop offset="0.8962" stop-color="#ff7900"/><stop offset="0.9000" stop-color="#ff0000"/><stop offset="0.9245" stop-color="#ec0000"/><stop offset="0.9434" stop-color="#ec0000"/><stop offset="0.9660" stop-color="#c60000"/><stop offset="0.9783" stop-color="#b80000"/><stop offset="0.9811" stop-color="#800000"/><stop offset="0.9981" stop-color="#800000"/><stop offset="1.0000" stop-color="#800000"/></linearGradient><linearGradient id="c46_1" gradientUnits="userSpaceOnUse" x1="0" y1="135" x2="0" y2="665"><stop offset="0.0000" stop-color="#808080" stop-opacity="0"/><stop offset="0.2755" stop-color="#004dff" stop-opacity="0"/><stop offset="0.2755" stop-color="#004dff"/><stop offset="0.3132" stop-color="#0080ff"/><stop offset="0.3208" stop-color="#0060ff"/><stop offset="0.3434" stop-color="#0080ff"/><stop offset="0.3774" stop-color="#009fff"/><stop offset="0.4151" stop-color="#00bfff"/><stop offset="0.4340" stop-color="#0040ff"/><stop offset="0.4613" stop-color="#0060ff"/><stop offset="0.4707" stop-color="#0040ff"/><stop offset="0.4717" stop-color="#0040ff"/><stop offset="0.4717" stop-color="#0040ff" stop-opacity="0"/><stop offset="0.5028" stop-color="#0040ff" stop-opacity="0"/><stop offset="0.5028" stop-color="#0040ff"/><stop offset="0.5085" stop-color="#00dfff"/><stop offset="0.5321" stop-color="#40ffbf"/><stop offset="0.5660" stop-color="#acff53"/><stop offset="0.5849" stop-color="#ecff13"/><stop offset="0.6226" stop-color="#feff01"/><stop offset="0.6604" stop-color="#ffff00"/><stop offset="0.6830" stop-color="#ffbf00"/><stop offset="0.7075" stop-color="#ff9900"/><stop offset="0.7358" stop-color="#ff7900"/><stop offset="0.7434" stop-color="#ff9f00"/><stop offset="0.7736" stop-color="#ff9900"/><stop offset="0.8302" stop-color="#ff9900"/><stop offset="0.8679" stop-color="#ff7900"/><stop offset="0.8962" stop-color="#ff7900"/><stop offset="0.9000" stop-color="#ff0000"/><stop offset="0.9245" stop-color="#ec0000"/><stop offset="0.9434" stop-color="#ec0000"/><stop offset="0.9660" stop-color="#c60000"/><stop offset="0.9783" stop-color="#b80000"/><stop offset="0.9811" stop-color="#800000"/><stop offset="0.9981" stop-color="#800000"/><stop offset="1.0000" stop-color="#800000"/></linearGradient><linearGradient id="c47_0" gradientUnits="userSpaceOnUse" x1="0" y1="135" x2="0" y2="665"><stop offset="0.0000" stop-color="#808080" stop-opacity="0"/><stop offset="0.2604" stop-color="#004dff" stop-opacity="0"/><stop offset="0.2604" stop-color="#004dff"/><stop offset="0.2981" stop-color="#0080ff"/><stop offset="0.3208" stop-color="#0060ff"/><stop offset="0.3585" stop-color="#0060ff"/><stop offset="0.3962" stop-color="#0060ff"/><stop offset="0.4319" stop-color="#0040ff"/><stop offset="0.4340" stop-color="#0040ff"/><stop offset="0.4340" stop-color="#0040ff" stop-opacity="0"/><stop offset="0.5189" stop-color="#0040ff" stop-opacity="0"/><stop offset="0.5189" stop-color="#0040ff"/><stop offset="0.5241" stop-color="#00dfff"/><stop offset="0.5472" stop-color="#40ffbf"/><stop offset="0.5849" stop-color="#ccff33"/><stop offset="0.6226" stop-color="#feff01"/><stop offset="0.6604" stop-color="#ffff00"/><stop offset="0.6830" stop-color="#ffdf00"/><stop offset="0.7075" stop-color="#ff9900"/><stop offset="0.7358" stop-color="#ff7900"/><stop offset="0.7434" stop-color="#ff9900"/><stop offset="0.7925" stop-color="#ff7900"/><stop offset="0.8491" stop-color="#ff7900"/><stop offset="0.8962" stop-color="#ff7900"/><stop offset="0.9000" stop-color="#ff0000"/><stop offset="0.9245" stop-color="#ec0000"/><stop offset="0.9434" stop-color="#ec0000"/><stop offset="0.9660" stop-color="#c60000"/><stop offset="0.9783" stop-color="#b80000"/><stop offset="0.9811" stop-color="#800000"/><stop offset="0.9981" stop-color="#800000"/><stop offset="1.0000" stop-color="#800000"/></linearGradient><linearGradient id="c47_1" gradientUnits="userSpaceOnUse" x1="0" y1="135" x2="0" y2="665"><stop offset="0.0000" stop-color="#808080" stop-opacity="0"/><stop offset="0.2604" stop-color="#004dff" stop-opacity="0"/><stop offset="0.2604" stop-color="#004dff"/><stop offset="0.2981" stop-color="#0080ff"/><stop offset="0.3208" stop-color="#0060ff"/><stop offset="0.3585" stop-color="#0060ff"/><stop offset="0.3962" stop-color="#0060ff"/><stop offset="0.4319" stop-color="#0040ff"/><stop offset="0.4340" stop-color="#0040ff"/><stop offset="0.4340" stop-color="#0040ff" stop-opacity="0"/><stop offset="0.5321" stop-color="#0040ff" stop-opacity="0"/><stop offset="0.5321" stop-color="#0040ff"/><stop offset="0.5373" stop-color="#00bfff"/><stop offset="0.5456" stop-color="#20ffdf"/><stop offset="0.5849" stop-color="#acff53"/><stop offset="0.6132" stop-color="#ecff13"/><stop offset="0.6509" stop-color="#feff01"/><stop offset="0.6792" stop-color="#feff01"/><stop offset="0.6981" stop-color="#ecff13"/><stop offset="0.7170" stop-color="#feff01"/><stop offset="0.7358" stop-color="#ffff00"/><stop offset="0.7434" stop-color="#ff9900"/><stop offset="0.7925" stop-color="#ff7900"/><stop offset="0.8491" stop-color="#ff7900"/><stop offset="0.8962" stop-color="#ff7900"/><stop offset="0.9000" stop-color="#ff0000"/><stop offset="0.9245" stop-color="#ec0000"/><stop offset="0.9434" stop-color="#ec0000"/><stop offset="0.9660" stop-color="#c60000"/><stop offset="0.9783" stop-color="#b80000"/><stop offset="0.9811" stop-color="#800000"/><stop offset="0.9981" stop-color="#800000"/><stop offset="1.0000" stop-color="#800000"/></linearGradient><linearGradient id="c48_0" gradientUnits="userSpaceOnUse" x1="0" y1="135" x2="0" y2="665"><stop offset="0.0000" stop-color="#808080" stop-opacity="0"/><stop offset="0.2604" stop-color="#0053ff" stop-opacity="0"/><stop offset="0.2604" stop-color="#0053ff"/><stop offset="0.2728" stop-color="#0080ff"/><stop offset="0.3084" stop-color="#0053ff"/><stop offset="0.3094" stop-color="#0053ff"/><stop offset="0.3094" stop-color="#0053ff" stop-opacity="0"/><stop offset="0.5453" stop-color="#0020ff" stop-opacity="0"/><stop offset="0.5453" stop-color="#0020ff"/><stop offset="0.5505" stop-color="#0080ff"/><stop offset="0.5567" stop-color="#00dfff"/><stop offset="0.5849" stop-color="#20ffdf"/><stop offset="0.6038" stop-color="#40ffbf"/><stop offset="0.6321" stop-color="#8cff73"/><stop offset="0.6604" stop-color="#40ffbf"/><stop offset="0.6792" stop-color="#00ffff"/><stop offset="0.6906" stop-color="#00bfff"/><stop offset="0.7075" stop-color="#40ffbf"/><stop offset="0.7358" stop-color="#acff53"/><stop offset="0.7623" stop-color="#ff9f00"/><stop offset="0.7925" stop-color="#ff9900"/><stop offset="0.8302" stop-color="#ffbf00"/><stop offset="0.8679" stop-color="#ff9900"/><stop offset="0.8981" stop-color="#ff5900"/><stop offset="0.9038" stop-color="#ec0000"/><stop offset="0.9245" stop-color="#ec0000"/><stop offset="0.9434" stop-color="#ec0000"/><stop offset="0.9698" stop-color="#c60000"/><stop offset="0.9840" stop-color="#b80000"/><stop offset="0.9868" stop-color="#800000"/><stop offset="0.9981" stop-color="#800000"/><stop offset="1.0000" stop-color="#800000"/></linearGradient><linearGradient id="c48_1" gradientUnits="userSpaceOnUse" x1="0" y1="135" x2="0" y2="665"><stop offset="0.0000" stop-color="#808080" stop-opacity="0"/><stop offset="0.2604" stop-color="#0053ff" stop-opacity="0"/><stop offset="0.2604" stop-color="#0053ff"/><stop offset="0.2728" stop-color="#0080ff"/><stop offset="0.3084" stop-color="#0053ff"/><stop offset="0.3094" stop-color="#0053ff"/><stop offset="0.3094" stop-color="#0053ff" stop-opacity="0"/><stop offset="0.5547" stop-color="#0020ff" stop-opacity="0"/><stop offset="0.5547" stop-color="#0020ff"/><stop offset="0.5849" stop-color="#0040ff"/><stop offset="0.6038" stop-color="#0060ff"/><stop offset="0.6321" stop-color="#0080ff"/><stop offset="0.6604" stop-color="#0060ff"/><stop offset="0.6792" stop-color="#0040ff"/><stop offset="0.6906" stop-color="#0040ff"/><stop offset="0.7019" stop-color="#00dfff"/><stop offset="0.7170" stop-color="#40ffbf"/><stop offset="0.7358" stop-color="#acff53"/><stop offset="0.7623" stop-color="#ff9f00"/><stop offset="0.7925" stop-color="#ff9900"/><stop offset="0.8302" stop-color="#ffbf00"/><stop offset="0.8679" stop-color="#ff9900"/><stop offset="0.8981" stop-color="#ff5900"/><stop offset="0.9038" stop-color="#ec0000"/><stop offset="0.9245" stop-color="#ec0000"/><stop offset="0.9434" stop-color="#ec0000"/><stop offset="0.9698" stop-color="#c60000"/><stop offset="0.9840" stop-color="#b80000"/><stop offset="0.9868" stop-color="#800000"/><stop offset="0.9981" stop-color="#800000"/><stop offset="1.0000" stop-color="#800000"/></linearGradient><linearGradient id="c49_0" gradientUnits="userSpaceOnUse" x1="0" y1="135" x2="0" y2="665"><stop offset="0.0000" stop-color="#808080" stop-opacity="0"/><stop offset="0.2472" stop-color="#0053ff" stop-opacity="0"/><stop offset="0.2472" stop-color="#0053ff"/><stop offset="0.2792" stop-color="#0080ff"/><stop offset="0.3122" stop-color="#0053ff"/><stop offset="0.3132" stop-color="#0053ff"/><stop offset="0.3132" stop-color="#0053ff" stop-opacity="0"/><stop offset="0.4802" stop-color="#0040ff" stop-opacity="0"/><stop offset="0.4802" stop-color="#0040ff"/><stop offset="0.4880" stop-color="#0060ff"/><stop offset="0.5103" stop-color="#0040ff"/><stop offset="0.5113" stop-color="#0040ff"/><stop offset="0.5113" stop-color="#0040ff" stop-opacity="0"/><stop offset="0.5822" stop-color="#0040ff" stop-opacity="0"/><stop offset="0.5822" stop-color="#0040ff"/><stop offset="0.5900" stop-color="#0040ff"/><stop offset="0.5952" stop-color="#0040ff"/><stop offset="0.5962" stop-color="#0040ff"/><stop offset="0.5962" stop-color="#0040ff" stop-opacity="0"/><stop offset="0.6745" stop-color="#0020ff" stop-opacity="0"/><stop offset="0.6745" stop-color="#0020ff"/><stop offset="0.6813" stop-color="#0040ff"/><stop offset="0.6875" stop-color="#00dfff"/><stop offset="0.7170" stop-color="#8cff73"/><stop offset="0.7358" stop-color="#ccff33"/><stop offset="0.7547" stop-color="#ff9f00"/><stop offset="0.7925" stop-color="#ff9900"/><stop offset="0.8868" stop-color="#ff9900"/><stop offset="0.9011" stop-color="#ff9900"/><stop offset="0.9038" stop-color="#ff0000"/><stop offset="0.9245" stop-color="#ff0000"/><stop offset="0.9434" stop-color="#ff0000"/><stop offset="0.9698" stop-color="#d90000"/><stop offset="0.9840" stop-color="#b80000"/><stop offset="0.9868" stop-color="#800000"/><stop offset="0.9981" stop-color="#800000"/><stop offset="1.0000" stop-color="#800000"/></linearGradient><linearGradient id="c49_1" gradientUnits="userSpaceOnUse" x1="0" y1="135" x2="0" y2="665"><stop offset="0.0000" stop-color="#808080" stop-opacity="0"/><stop offset="0.2472" stop-color="#0053ff" stop-opacity="0"/><stop offset="0.2472" stop-color="#0053ff"/><stop offset="0.2792" stop-color="#0080ff"/><stop offset="0.3122" stop-color="#0053ff"/><stop offset="0.3132" stop-color="#0053ff"/><stop offset="0.3132" stop-color="#0053ff" stop-opacity="0"/><stop offset="0.4726" stop-color="#0040ff" stop-opacity="0"/><stop offset="0.4726" stop-color="#0040ff"/><stop offset="0.4825" stop-color="#0080ff"/><stop offset="0.5154" stop-color="#0060ff"/><stop offset="0.5221" stop-color="#0040ff"/><stop offset="0.5226" stop-color="#0040ff"/><stop offset="0.5226" stop-color="#0040ff" stop-opacity="0"/><stop offset="0.5613" stop-color="#0040ff" stop-opacity="0"/><stop offset="0.5613" stop-color="#0040ff"/><stop offset="0.5691" stop-color="#0060ff"/><stop offset="0.5892" stop-color="#0040ff"/><stop offset="0.5933" stop-color="#0040ff"/><stop offset="0.5943" stop-color="#0040ff"/><stop offset="0.5943" stop-color="#0040ff" stop-opacity="0"/><stop offset="0.6689" stop-color="#0020ff" stop-opacity="0"/><stop offset="0.6689" stop-color="#0020ff"/><stop offset="0.6746" stop-color="#0080ff"/><stop offset="0.6808" stop-color="#00ffff"/><stop offset="0.7075" stop-color="#acff53"/><stop offset="0.7358" stop-color="#ecff13"/><stop offset="0.7547" stop-color="#ff9f00"/><stop offset="0.7925" stop-color="#ff9900"/><stop offset="0.8868" stop-color="#ff9900"/><stop offset="0.9011" stop-color="#ff9900"/><stop offset="0.9038" stop-color="#ff0000"/><stop offset="0.9245" stop-color="#ff0000"/><stop offset="0.9434" stop-color="#ff0000"/><stop offset="0.9698" stop-color="#d90000"/><stop offset="0.9840" stop-color="#b80000"/><stop offset="0.9868" stop-color="#800000"/><stop offset="0.9981" stop-color="#800000"/><stop offset="1.0000" stop-color="#800000"/></linearGradient><linearGradient id="c50_0" gradientUnits="userSpaceOnUse" x1="0" y1="135" x2="0" y2="665"><stop offset="0.0000" stop-color="#808080" stop-opacity="0"/><stop offset="0.2453" stop-color="#0053ff" stop-opacity="0"/><stop offset="0.2453" stop-color="#0053ff"/><stop offset="0.2830" stop-color="#008cff"/><stop offset="0.3309" stop-color="#0060ff"/><stop offset="0.3424" stop-color="#0060ff"/><stop offset="0.3434" stop-color="#0060ff"/><stop offset="0.3434" stop-color="#0060ff" stop-opacity="0"/><stop offset="0.3868" stop-color="#0040ff" stop-opacity="0"/><stop offset="0.3868" stop-color="#0040ff"/><stop offset="0.4151" stop-color="#00b2ff"/><stop offset="0.4340" stop-color="#0040ff"/><stop offset="0.4528" stop-color="#0060ff"/><stop offset="0.4811" stop-color="#009fff"/><stop offset="0.5133" stop-color="#0080ff"/><stop offset="0.5174" stop-color="#0040ff"/><stop offset="0.5179" stop-color="#0040ff"/><stop offset="0.5179" stop-color="#0040ff" stop-opacity="0"/><stop offset="0.5368" stop-color="#0040ff" stop-opacity="0"/><stop offset="0.5368" stop-color="#0040ff"/><stop offset="0.5477" stop-color="#0060ff"/><stop offset="0.5849" stop-color="#0060ff"/><stop offset="0.6107" stop-color="#0040ff"/><stop offset="0.6123" stop-color="#0040ff"/><stop offset="0.6123" stop-color="#0040ff" stop-opacity="0"/><stop offset="0.6604" stop-color="#0020ff" stop-opacity="0"/><stop offset="0.6604" stop-color="#0020ff"/><stop offset="0.6656" stop-color="#0080ff"/><stop offset="0.6728" stop-color="#20ffdf"/><stop offset="0.7019" stop-color="#ccff33"/><stop offset="0.7358" stop-color="#feff01"/><stop offset="0.7736" stop-color="#ff7900"/><stop offset="0.8868" stop-color="#ff7900"/><stop offset="0.9011" stop-color="#ff7900"/><stop offset="0.9038" stop-color="#ff0000"/><stop offset="0.9245" stop-color="#ff0000"/><stop offset="0.9434" stop-color="#ff0000"/><stop offset="0.9698" stop-color="#d90000"/><stop offset="0.9840" stop-color="#b80000"/><stop offset="0.9868" stop-color="#800000"/><stop offset="0.9981" stop-color="#800000"/><stop offset="1.0000" stop-color="#800000"/></linearGradient><linearGradient id="c50_1" gradientUnits="userSpaceOnUse" x1="0" y1="135" x2="0" y2="665"><stop offset="0.0000" stop-color="#808080" stop-opacity="0"/><stop offset="0.2453" stop-color="#0053ff" stop-opacity="0"/><stop offset="0.2453" stop-color="#0053ff"/><stop offset="0.2830" stop-color="#008cff"/><stop offset="0.3309" stop-color="#0060ff"/><stop offset="0.3424" stop-color="#0060ff"/><stop offset="0.3434" stop-color="#0060ff"/><stop offset="0.3434" stop-color="#0060ff" stop-opacity="0"/><stop offset="0.3868" stop-color="#0040ff" stop-opacity="0"/><stop offset="0.3868" stop-color="#0040ff"/><stop offset="0.4151" stop-color="#00b2ff"/><stop offset="0.4340" stop-color="#009fff"/><stop offset="0.4623" stop-color="#00bfff"/><stop offset="0.4906" stop-color="#00bfff"/><stop offset="0.5189" stop-color="#0080ff"/><stop offset="0.5377" stop-color="#0060ff"/><stop offset="0.5566" stop-color="#0060ff"/><stop offset="0.5849" stop-color="#0040ff"/><stop offset="0.6114" stop-color="#0040ff"/><stop offset="0.6197" stop-color="#0040ff"/><stop offset="0.6208" stop-color="#0040ff"/><stop offset="0.6208" stop-color="#0040ff" stop-opacity="0"/><stop offset="0.6425" stop-color="#0040ff" stop-opacity="0"/><stop offset="0.6425" stop-color="#0040ff"/><stop offset="0.6492" stop-color="#00bfff"/><stop offset="0.6698" stop-color="#40ffbf"/><stop offset="0.6887" stop-color="#ecff13"/><stop offset="0.7075" stop-color="#ffdf00"/><stop offset="0.7358" stop-color="#ff9f00"/><stop offset="0.7736" stop-color="#ff7900"/><stop offset="0.8868" stop-color="#ff7900"/><stop offset="0.9011" stop-color="#ff7900"/><stop offset="0.9038" stop-color="#ff0000"/><stop offset="0.9245" stop-color="#ff0000"/><stop offset="0.9434" stop-color="#ff0000"/><stop offset="0.9698" stop-color="#d90000"/><stop offset="0.9840" stop-color="#b80000"/><stop offset="0.9868" stop-color="#800000"/><stop offset="0.9981" stop-color="#800000"/><stop offset="1.0000" stop-color="#800000"/></linearGradient><linearGradient id="c51_0" gradientUnits="userSpaceOnUse" x1="0" y1="135" x2="0" y2="665"><stop offset="0.0000" stop-color="#808080" stop-opacity="0"/><stop offset="0.2453" stop-color="#0053ff" stop-opacity="0"/><stop offset="0.2453" stop-color="#0053ff"/><stop offset="0.2830" stop-color="#008cff"/><stop offset="0.3208" stop-color="#008cff"/><stop offset="0.3208" stop-color="#008cff" stop-opacity="0"/><stop offset="0.3962" stop-color="#0040ff" stop-opacity="0"/><stop offset="0.3962" stop-color="#0040ff"/><stop offset="0.4087" stop-color="#00bfff"/><stop offset="0.4340" stop-color="#00dfff"/><stop offset="0.4528" stop-color="#00dfff"/><stop offset="0.4811" stop-color="#00bfff"/><stop offset="0.5094" stop-color="#009fff"/><stop offset="0.5334" stop-color="#0080ff"/><stop offset="0.5386" stop-color="#0060ff"/><stop offset="0.5396" stop-color="#0060ff"/><stop offset="0.5396" stop-color="#0060ff" stop-opacity="0"/><stop offset="0.6264" stop-color="#0040ff" stop-opacity="0"/><stop offset="0.6264" stop-color="#0040ff"/><stop offset="0.6326" stop-color="#009fff"/><stop offset="0.6399" stop-color="#00ffff"/><stop offset="0.6698" stop-color="#acff53"/><stop offset="0.6830" stop-color="#ffff00"/><stop offset="0.6981" stop-color="#ff9900"/><stop offset="0.7170" stop-color="#ff7900"/><stop offset="0.7358" stop-color="#ff7900"/><stop offset="0.7736" stop-color="#ff5900"/><stop offset="0.8868" stop-color="#ff5900"/><stop offset="0.9011" stop-color="#ff5900"/><stop offset="0.9038" stop-color="#ec0000"/><stop offset="0.9245" stop-color="#ec0000"/><stop offset="0.9434" stop-color="#ec0000"/><stop offset="0.9698" stop-color="#c60000"/><stop offset="0.9840" stop-color="#b80000"/><stop offset="0.9868" stop-color="#800000"/><stop offset="0.9981" stop-color="#800000"/><stop offset="1.0000" stop-color="#800000"/></linearGradient><linearGradient id="c51_1" gradientUnits="userSpaceOnUse" x1="0" y1="135" x2="0" y2="665"><stop offset="0.0000" stop-color="#808080" stop-opacity="0"/><stop offset="0.2453" stop-color="#0053ff" stop-opacity="0"/><stop offset="0.2453" stop-color="#0053ff"/><stop offset="0.2830" stop-color="#008cff"/><stop offset="0.3208" stop-color="#008cff"/><stop offset="0.3208" stop-color="#008cff" stop-opacity="0"/><stop offset="0.3962" stop-color="#0040ff" stop-opacity="0"/><stop offset="0.3962" stop-color="#0040ff"/><stop offset="0.4087" stop-color="#00bfff"/><stop offset="0.4340" stop-color="#00bfff"/><stop offset="0.4528" stop-color="#00bfff"/><stop offset="0.4776" stop-color="#009fff"/><stop offset="0.4839" stop-color="#0060ff"/><stop offset="0.4849" stop-color="#0060ff"/><stop offset="0.4849" stop-color="#0060ff" stop-opacity="0"/><stop offset="0.5009" stop-color="#0060ff" stop-opacity="0"/><stop offset="0.5009" stop-color="#0060ff"/><stop offset="0.5108" stop-color="#0080ff"/><stop offset="0.5472" stop-color="#0060ff"/><stop offset="0.5660" stop-color="#0060ff"/><stop offset="0.5849" stop-color="#0040ff"/><stop offset="0.6038" stop-color="#0060ff"/><stop offset="0.6226" stop-color="#009fff"/><stop offset="0.6415" stop-color="#00ffff"/><stop offset="0.6642" stop-color="#acff53"/><stop offset="0.6792" stop-color="#ffdf00"/><stop offset="0.6943" stop-color="#ff7900"/><stop offset="0.7170" stop-color="#ff7900"/><stop offset="0.7358" stop-color="#ff7900"/><stop offset="0.7736" stop-color="#ff5900"/><stop offset="0.8868" stop-color="#ff5900"/><stop offset="0.9011" stop-color="#ff5900"/><stop offset="0.9038" stop-color="#ec0000"/><stop offset="0.9245" stop-color="#ec0000"/><stop offset="0.9434" stop-color="#ec0000"/><stop offset="0.9698" stop-color="#c60000"/><stop offset="0.9840" stop-color="#b80000"/><stop offset="0.9868" stop-color="#800000"/><stop offset="0.9981" stop-color="#800000"/><stop offset="1.0000" stop-color="#800000"/></linearGradient><linearGradient id="c52_0" gradientUnits="userSpaceOnUse" x1="0" y1="135" x2="0" y2="665"><stop offset="0.0000" stop-color="#808080" stop-opacity="0"/><stop offset="0.2528" stop-color="#0053ff" stop-opacity="0"/><stop offset="0.2528" stop-color="#0053ff"/><stop offset="0.2830" stop-color="#0080ff"/><stop offset="0.3208" stop-color="#0080ff"/><stop offset="0.3208" stop-color="#0080ff" stop-opacity="0"/><stop offset="0.4094" stop-color="#0040ff" stop-opacity="0"/><stop offset="0.4094" stop-color="#0040ff"/><stop offset="0.4229" stop-color="#00bfff"/><stop offset="0.4605" stop-color="#0080ff"/><stop offset="0.4688" stop-color="#0040ff"/><stop offset="0.4698" stop-color="#0040ff"/><stop offset="0.4698" stop-color="#0040ff" stop-opacity="0"/><stop offset="0.5443" stop-color="#0040ff" stop-opacity="0"/><stop offset="0.5443" stop-color="#0040ff"/><stop offset="0.5511" stop-color="#009fff"/><stop offset="0.5583" stop-color="#00dfff"/><stop offset="0.5849" stop-color="#00dfff"/><stop offset="0.6132" stop-color="#00ffff"/><stop offset="0.6415" stop-color="#20ffdf"/><stop offset="0.6642" stop-color="#8cff73"/><stop offset="0.6830" stop-color="#feff01"/><stop offset="0.6981" stop-color="#ffbf00"/><stop offset="0.7170" stop-color="#ff9f00"/><stop offset="0.7358" stop-color="#ff9900"/><stop offset="0.7736" stop-color="#ff5900"/><stop offset="0.8868" stop-color="#ff5900"/><stop offset="0.9011" stop-color="#ff5900"/><stop offset="0.9038" stop-color="#ec0000"/><stop offset="0.9245" stop-color="#ec0000"/><stop offset="0.9434" stop-color="#ec0000"/><stop offset="0.9698" stop-color="#c60000"/><stop offset="0.9840" stop-color="#b80000"/><stop offset="0.9868" stop-color="#800000"/><stop offset="0.9981" stop-color="#800000"/><stop offset="1.0000" stop-color="#800000"/></linearGradient><linearGradient id="c52_1" gradientUnits="userSpaceOnUse" x1="0" y1="135" x2="0" y2="665"><stop offset="0.0000" stop-color="#808080" stop-opacity="0"/><stop offset="0.2528" stop-color="#0053ff" stop-opacity="0"/><stop offset="0.2528" stop-color="#0053ff"/><stop offset="0.2830" stop-color="#0080ff"/><stop offset="0.3208" stop-color="#0080ff"/><stop offset="0.3208" stop-color="#0080ff" stop-opacity="0"/><stop offset="0.4205" stop-color="#0040ff" stop-opacity="0"/><stop offset="0.4205" stop-color="#0040ff"/><stop offset="0.4340" stop-color="#0040ff"/><stop offset="0.4340" stop-color="#0040ff" stop-opacity="0"/><stop offset="0.5481" stop-color="#0040ff" stop-opacity="0"/><stop offset="0.5481" stop-color="#0040ff"/><stop offset="0.5528" stop-color="#009fff"/><stop offset="0.5600" stop-color="#00dfff"/><stop offset="0.5849" stop-color="#00ffff"/><stop offset="0.6132" stop-color="#20ffdf"/><stop offset="0.6415" stop-color="#40ffbf"/><stop offset="0.6698" stop-color="#acff53"/><stop offset="0.6868" stop-color="#feff01"/><stop offset="0.7019" stop-color="#ffdf00"/><stop offset="0.7170" stop-color="#ffbf00"/><stop offset="0.7358" stop-color="#ff9f00"/><stop offset="0.7736" stop-color="#ff5900"/><stop offset="0.8868" stop-color="#ff5900"/><stop offset="0.9011" stop-color="#ff5900"/><stop offset="0.9038" stop-color="#ec0000"/><stop offset="0.9245" stop-color="#ec0000"/><stop offset="0.9434" stop-color="#ec0000"/><stop offset="0.9698" stop-color="#c60000"/><stop offset="0.9840" stop-color="#b80000"/><stop offset="0.9868" stop-color="#800000"/><stop offset="0.9981" stop-color="#800000"/><stop offset="1.0000" stop-color="#800000"/></linearGradient><linearGradient id="c53_0" gradientUnits="userSpaceOnUse" x1="0" y1="135" x2="0" y2="665"><stop offset="0.0000" stop-color="#808080" stop-opacity="0"/><stop offset="0.2509" stop-color="#0053ff" stop-opacity="0"/><stop offset="0.2509" stop-color="#0053ff"/><stop offset="0.2830" stop-color="#0080ff"/><stop offset="0.3149" stop-color="#0053ff"/><stop offset="0.3170" stop-color="#0053ff"/><stop offset="0.3170" stop-color="#0053ff" stop-opacity="0"/><stop offset="0.4340" stop-color="#0040ff" stop-opacity="0"/><stop offset="0.4340" stop-color="#0040ff"/><stop offset="0.4596" stop-color="#0040ff"/><stop offset="0.4669" stop-color="#0040ff"/><stop offset="0.4679" stop-color="#0040ff"/><stop offset="0.4679" stop-color="#0040ff" stop-opacity="0"/><stop offset="0.5292" stop-color="#0040ff" stop-opacity="0"/><stop offset="0.5292" stop-color="#0040ff"/><stop offset="0.5350" stop-color="#009fff"/><stop offset="0.5566" stop-color="#00dfff"/><stop offset="0.5849" stop-color="#20ffdf"/><stop offset="0.6132" stop-color="#40ffbf"/><stop offset="0.6415" stop-color="#40ffbf"/><stop offset="0.6698" stop-color="#acff53"/><stop offset="0.6830" stop-color="#ffff00"/><stop offset="0.6943" stop-color="#ff9f00"/><stop offset="0.7170" stop-color="#ff9900"/><stop offset="0.7358" stop-color="#ff9900"/><stop offset="0.7736" stop-color="#ff7900"/><stop offset="0.8868" stop-color="#ff7900"/><stop offset="0.9011" stop-color="#ff7900"/><stop offset="0.9038" stop-color="#ec0000"/><stop offset="0.9245" stop-color="#ec0000"/><stop offset="0.9434" stop-color="#ec0000"/><stop offset="0.9698" stop-color="#c60000"/><stop offset="0.9840" stop-color="#b80000"/><stop offset="0.9868" stop-color="#800000"/><stop offset="0.9981" stop-color="#800000"/><stop offset="1.0000" stop-color="#800000"/></linearGradient><linearGradient id="c53_1" gradientUnits="userSpaceOnUse" x1="0" y1="135" x2="0" y2="665"><stop offset="0.0000" stop-color="#808080" stop-opacity="0"/><stop offset="0.2509" stop-color="#0053ff" stop-opacity="0"/><stop offset="0.2509" stop-color="#0053ff"/><stop offset="0.2830" stop-color="#0080ff"/><stop offset="0.3149" stop-color="#0053ff"/><stop offset="0.3170" stop-color="#0053ff"/><stop offset="0.3170" stop-color="#0053ff" stop-opacity="0"/><stop offset="0.4500" stop-color="#0040ff" stop-opacity="0"/><stop offset="0.4500" stop-color="#0040ff"/><stop offset="0.4619" stop-color="#0060ff"/><stop offset="0.5000" stop-color="#0060ff"/><stop offset="0.5132" stop-color="#0080ff"/><stop offset="0.5283" stop-color="#00bfff"/><stop offset="0.5472" stop-color="#00dfff"/><stop offset="0.5849" stop-color="#20ffdf"/><stop offset="0.6132" stop-color="#40ffbf"/><stop offset="0.6415" stop-color="#40ffbf"/><stop offset="0.6698" stop-color="#8cff73"/><stop offset="0.6887" stop-color="#ccff33"/><stop offset="0.7075" stop-color="#feff01"/><stop offset="0.7358" stop-color="#ffff00"/><stop offset="0.7736" stop-color="#ff7900"/><stop offset="0.8868" stop-color="#ff7900"/><stop offset="0.9011" stop-color="#ff7900"/><stop offset="0.9038" stop-color="#ec0000"/><stop offset="0.9245" stop-color="#ec0000"/><stop offset="0.9434" stop-color="#ec0000"/><stop offset="0.9698" stop-color="#c60000"/><stop offset="0.9840" stop-color="#b80000"/><stop offset="0.9868" stop-color="#800000"/><stop offset="0.9981" stop-color="#800000"/><stop offset="1.0000" stop-color="#800000"/></linearGradient><linearGradient id="c54_0" gradientUnits="userSpaceOnUse" x1="0" y1="135" x2="0" y2="665"><stop offset="0.0000" stop-color="#808080" stop-opacity="0"/><stop offset="0.2509" stop-color="#0053ff" stop-opacity="0"/><stop offset="0.2509" stop-color="#0053ff"/><stop offset="0.2830" stop-color="#0080ff"/><stop offset="0.3187" stop-color="#0053ff"/><stop offset="0.3208" stop-color="#0053ff"/><stop offset="0.3208" stop-color="#0053ff" stop-opacity="0"/><stop offset="0.4283" stop-color="#0020ff" stop-opacity="0"/><stop offset="0.4283" stop-color="#0020ff"/><stop offset="0.4314" stop-color="#0060ff"/><stop offset="0.4596" stop-color="#0040ff"/><stop offset="0.4669" stop-color="#0040ff"/><stop offset="0.4679" stop-color="#0040ff"/><stop offset="0.4679" stop-color="#0040ff" stop-opacity="0"/><stop offset="0.5019" stop-color="#0040ff" stop-opacity="0"/><stop offset="0.5019" stop-color="#0040ff"/><stop offset="0.5081" stop-color="#009fff"/><stop offset="0.5283" stop-color="#00dfff"/><stop offset="0.5566" stop-color="#00ffff"/><stop offset="0.5849" stop-color="#40ffbf"/><stop offset="0.6132" stop-color="#40ffbf"/><stop offset="0.6415" stop-color="#40ffbf"/><stop offset="0.6698" stop-color="#40ffbf"/><stop offset="0.6887" stop-color="#8cff73"/><stop offset="0.7075" stop-color="#ccff33"/><stop offset="0.7358" stop-color="#feff01"/><stop offset="0.7434" stop-color="#feff01"/><stop offset="0.7660" stop-color="#ffdf00"/><stop offset="0.7925" stop-color="#ff9f00"/><stop offset="0.8302" stop-color="#ff7900"/><stop offset="0.8868" stop-color="#ff7900"/><stop offset="0.9132" stop-color="#ff7900"/><stop offset="0.9170" stop-color="#ff0000"/><stop offset="0.9245" stop-color="#ff0000"/><stop offset="0.9434" stop-color="#ec0000"/><stop offset="0.9698" stop-color="#d90000"/><stop offset="0.9840" stop-color="#b80000"/><stop offset="0.9868" stop-color="#800000"/><stop offset="0.9981" stop-color="#800000"/><stop offset="1.0000" stop-color="#800000"/></linearGradient><linearGradient id="c54_1" gradientUnits="userSpaceOnUse" x1="0" y1="135" x2="0" y2="665"><stop offset="0.0000" stop-color="#808080" stop-opacity="0"/><stop offset="0.2509" stop-color="#0053ff" stop-opacity="0"/><stop offset="0.2509" stop-color="#0053ff"/><stop offset="0.2830" stop-color="#0080ff"/><stop offset="0.3187" stop-color="#0053ff"/><stop offset="0.3208" stop-color="#0053ff"/><stop offset="0.3208" stop-color="#0053ff" stop-opacity="0"/><stop offset="0.4283" stop-color="#0020ff" stop-opacity="0"/><stop offset="0.4283" stop-color="#0020ff"/><stop offset="0.4314" stop-color="#0040ff"/><stop offset="0.4558" stop-color="#0020ff"/><stop offset="0.4631" stop-color="#0020ff"/><stop offset="0.4642" stop-color="#0020ff"/><stop offset="0.4642" stop-color="#0020ff" stop-opacity="0"/><stop offset="0.5104" stop-color="#0040ff" stop-opacity="0"/><stop offset="0.5104" stop-color="#0040ff"/><stop offset="0.5150" stop-color="#009fff"/><stop offset="0.5223" stop-color="#00dfff"/><stop offset="0.5566" stop-color="#00ffff"/><stop offset="0.5849" stop-color="#8cff73"/><stop offset="0.6132" stop-color="#40ffbf"/><stop offset="0.6415" stop-color="#20ffdf"/><stop offset="0.6698" stop-color="#20ffdf"/><stop offset="0.6981" stop-color="#00ffff"/><stop offset="0.7170" stop-color="#40ffbf"/><stop offset="0.7358" stop-color="#ccff33"/><stop offset="0.7434" stop-color="#feff01"/><stop offset="0.7660" stop-color="#ffdf00"/><stop offset="0.7925" stop-color="#ff9f00"/><stop offset="0.8302" stop-color="#ff7900"/><stop offset="0.8868" stop-color="#ff7900"/><stop offset="0.9132" stop-color="#ff7900"/><stop offset="0.9170" stop-color="#ff0000"/><stop offset="0.9245" stop-color="#ff0000"/><stop offset="0.9434" stop-color="#ec0000"/><stop offset="0.9698" stop-color="#d90000"/><stop offset="0.9840" stop-color="#b80000"/><stop offset="0.9868" stop-color="#800000"/><stop offset="0.9981" stop-color="#800000"/><stop offset="1.0000" stop-color="#800000"/></linearGradient><linearGradient id="c55_0" gradientUnits="userSpaceOnUse" x1="0" y1="135" x2="0" y2="665"><stop offset="0.0000" stop-color="#808080" stop-opacity="0"/><stop offset="0.2453" stop-color="#0053ff" stop-opacity="0"/><stop offset="0.2453" stop-color="#0053ff"/><stop offset="0.2830" stop-color="#0093ff"/><stop offset="0.3208" stop-color="#0093ff"/><stop offset="0.3208" stop-color="#0093ff" stop-opacity="0"/><stop offset="0.4459" stop-color="#0040ff" stop-opacity="0"/><stop offset="0.4459" stop-color="#0040ff"/><stop offset="0.4537" stop-color="#0040ff"/><stop offset="0.4547" stop-color="#0040ff"/><stop offset="0.4547" stop-color="#0040ff" stop-opacity="0"/><stop offset="0.5104" stop-color="#0040ff" stop-opacity="0"/><stop offset="0.5104" stop-color="#0040ff"/><stop offset="0.5150" stop-color="#009fff"/><stop offset="0.5223" stop-color="#00dfff"/><stop offset="0.5566" stop-color="#20ffdf"/><stop offset="0.5849" stop-color="#acff53"/><stop offset="0.6038" stop-color="#8cff73"/><stop offset="0.6321" stop-color="#20ffdf"/><stop offset="0.6604" stop-color="#00ffff"/><stop offset="0.6887" stop-color="#00dfff"/><stop offset="0.7075" stop-color="#00bfff"/><stop offset="0.7264" stop-color="#20ffdf"/><stop offset="0.7358" stop-color="#acff53"/><stop offset="0.7396" stop-color="#ecff13"/><stop offset="0.7585" stop-color="#ffff00"/><stop offset="0.7811" stop-color="#ffbf00"/><stop offset="0.8113" stop-color="#ff9900"/><stop offset="0.8491" stop-color="#ff7900"/><stop offset="0.9170" stop-color="#ff7900"/><stop offset="0.9208" stop-color="#ff0000"/><stop offset="0.9245" stop-color="#ff0000"/><stop offset="0.9434" stop-color="#ff0000"/><stop offset="0.9698" stop-color="#d90000"/><stop offset="0.9840" stop-color="#b80000"/><stop offset="0.9868" stop-color="#800000"/><stop offset="0.9981" stop-color="#800000"/><stop offset="1.0000" stop-color="#800000"/></linearGradient><linearGradient id="c55_1" gradientUnits="userSpaceOnUse" x1="0" y1="135" x2="0" y2="665"><stop offset="0.0000" stop-color="#808080" stop-opacity="0"/><stop offset="0.2453" stop-color="#0053ff" stop-opacity="0"/><stop offset="0.2453" stop-color="#0053ff"/><stop offset="0.2830" stop-color="#0093ff"/><stop offset="0.3208" stop-color="#0093ff"/><stop offset="0.3208" stop-color="#0093ff" stop-opacity="0"/><stop offset="0.4632" stop-color="#0040ff" stop-opacity="0"/><stop offset="0.4632" stop-color="#0040ff"/><stop offset="0.4700" stop-color="#009fff"/><stop offset="0.4943" stop-color="#00dfff"/><stop offset="0.5189" stop-color="#00ffff"/><stop offset="0.5566" stop-color="#40ffbf"/><stop offset="0.5849" stop-color="#acff53"/><stop offset="0.6038" stop-color="#8cff73"/><stop offset="0.6321" stop-color="#20ffdf"/><stop offset="0.6604" stop-color="#00ffff"/><stop offset="0.6887" stop-color="#00ffff"/><stop offset="0.7170" stop-color="#20ffdf"/><stop offset="0.7358" stop-color="#acff53"/><stop offset="0.7396" stop-color="#ecff13"/><stop offset="0.7585" stop-color="#ffff00"/><stop offset="0.7811" stop-color="#ffbf00"/><stop offset="0.8113" stop-color="#ff9900"/><stop offset="0.8491" stop-color="#ff7900"/><stop offset="0.9170" stop-color="#ff7900"/><stop offset="0.9208" stop-color="#ff0000"/><stop offset="0.9245" stop-color="#ff0000"/><stop offset="0.9434" stop-color="#ff0000"/><stop offset="0.9698" stop-color="#d90000"/><stop offset="0.9840" stop-color="#b80000"/><stop offset="0.9868" stop-color="#800000"/><stop offset="0.9981" stop-color="#800000"/><stop offset="1.0000" stop-color="#800000"/></linearGradient><linearGradient id="c56_0" gradientUnits="userSpaceOnUse" x1="0" y1="135" x2="0" y2="665"><stop offset="0.0000" stop-color="#808080" stop-opacity="0"/><stop offset="0.2491" stop-color="#0053ff" stop-opacity="0"/><stop offset="0.2491" stop-color="#0053ff"/><stop offset="0.2830" stop-color="#0093ff"/><stop offset="0.3208" stop-color="#009fff"/><stop offset="0.3509" stop-color="#00bfff"/><stop offset="0.3842" stop-color="#0080ff"/><stop offset="0.3914" stop-color="#0040ff"/><stop offset="0.3925" stop-color="#0040ff"/><stop offset="0.3925" stop-color="#0040ff" stop-opacity="0"/><stop offset="0.4340" stop-color="#0080ff" stop-opacity="0"/><stop offset="0.4340" stop-color="#0080ff"/><stop offset="0.4402" stop-color="#00bfff"/><stop offset="0.4717" stop-color="#00ffff"/><stop offset="0.5094" stop-color="#20ffdf"/><stop offset="0.5566" stop-color="#40ffbf"/><stop offset="0.5849" stop-color="#acff53"/><stop offset="0.6038" stop-color="#40ffbf"/><stop offset="0.6321" stop-color="#00ffff"/><stop offset="0.6604" stop-color="#00dfff"/><stop offset="0.6792" stop-color="#00bfff"/><stop offset="0.6981" stop-color="#00bfff"/><stop offset="0.7170" stop-color="#00dfff"/><stop offset="0.7358" stop-color="#40ffbf"/><stop offset="0.7434" stop-color="#ecff13"/><stop offset="0.7623" stop-color="#ffdf00"/><stop offset="0.7849" stop-color="#ff9900"/><stop offset="0.8302" stop-color="#ff7900"/><stop offset="0.9170" stop-color="#ff7900"/><stop offset="0.9208" stop-color="#ff0000"/><stop offset="0.9245" stop-color="#ff0000"/><stop offset="0.9434" stop-color="#ff0000"/><stop offset="0.9698" stop-color="#d90000"/><stop offset="0.9840" stop-color="#b80000"/><stop offset="0.9868" stop-color="#800000"/><stop offset="0.9981" stop-color="#800000"/><stop offset="1.0000" stop-color="#800000"/></linearGradient><linearGradient id="c56_1" gradientUnits="userSpaceOnUse" x1="0" y1="135" x2="0" y2="665"><stop offset="0.0000" stop-color="#808080" stop-opacity="0"/><stop offset="0.2491" stop-color="#0053ff" stop-opacity="0"/><stop offset="0.2491" stop-color="#0053ff"/><stop offset="0.2830" stop-color="#0093ff"/><stop offset="0.3208" stop-color="#009fff"/><stop offset="0.3509" stop-color="#00bfff"/><stop offset="0.3842" stop-color="#0080ff"/><stop offset="0.3914" stop-color="#0040ff"/><stop offset="0.3925" stop-color="#0040ff"/><stop offset="0.3925" stop-color="#0040ff" stop-opacity="0"/><stop offset="0.4340" stop-color="#00bfff" stop-opacity="0"/><stop offset="0.4340" stop-color="#00bfff"/><stop offset="0.4443" stop-color="#00ffff"/><stop offset="0.4906" stop-color="#20ffdf"/><stop offset="0.5283" stop-color="#20ffdf"/><stop offset="0.5566" stop-color="#40ffbf"/><stop offset="0.5849" stop-color="#40ffbf"/><stop offset="0.6038" stop-color="#20ffdf"/><stop offset="0.6321" stop-color="#00dfff"/><stop offset="0.6604" stop-color="#009fff"/><stop offset="0.6792" stop-color="#0080ff"/><stop offset="0.6981" stop-color="#0060ff"/><stop offset="0.7170" stop-color="#0080ff"/><stop offset="0.7358" stop-color="#00dfff"/><stop offset="0.7434" stop-color="#ecff13"/><stop offset="0.7623" stop-color="#ffdf00"/><stop offset="0.7849" stop-color="#ff9900"/><stop offset="0.8302" stop-color="#ff7900"/><stop offset="0.9170" stop-color="#ff7900"/><stop offset="0.9208" stop-color="#ff0000"/><stop offset="0.9245" stop-color="#ff0000"/><stop offset="0.9434" stop-color="#ff0000"/><stop offset="0.9698" stop-color="#d90000"/><stop offset="0.9840" stop-color="#b80000"/><stop offset="0.9868" stop-color="#800000"/><stop offset="0.9981" stop-color="#800000"/><stop offset="1.0000" stop-color="#800000"/></linearGradient><linearGradient id="c57_0" gradientUnits="userSpaceOnUse" x1="0" y1="135" x2="0" y2="665"><stop offset="0.0000" stop-color="#808080" stop-opacity="0"/><stop offset="0.2566" stop-color="#0053ff" stop-opacity="0"/><stop offset="0.2566" stop-color="#0053ff"/><stop offset="0.2830" stop-color="#0093ff"/><stop offset="0.3208" stop-color="#00bfff"/><stop offset="0.3509" stop-color="#00dfff"/><stop offset="0.3842" stop-color="#0080ff"/><stop offset="0.3904" stop-color="#0040ff"/><stop offset="0.3925" stop-color="#0040ff"/><stop offset="0.3925" stop-color="#0040ff" stop-opacity="0"/><stop offset="0.4434" stop-color="#0060ff" stop-opacity="0"/><stop offset="0.4434" stop-color="#0060ff"/><stop offset="0.4507" stop-color="#00bfff"/><stop offset="0.4906" stop-color="#00ffff"/><stop offset="0.5283" stop-color="#20ffdf"/><stop offset="0.5660" stop-color="#40ffbf"/><stop offset="0.5849" stop-color="#00ffff"/><stop offset="0.6038" stop-color="#00dfff"/><stop offset="0.6226" stop-color="#009fff"/><stop offset="0.6415" stop-color="#0060ff"/><stop offset="0.6604" stop-color="#0040ff"/><stop offset="0.6698" stop-color="#0040ff"/><stop offset="0.6887" stop-color="#0020ff"/><stop offset="0.7019" stop-color="#0040ff"/><stop offset="0.7170" stop-color="#0060ff"/><stop offset="0.7358" stop-color="#00bfff"/><stop offset="0.7472" stop-color="#ecff13"/><stop offset="0.7660" stop-color="#ffdf00"/><stop offset="0.7925" stop-color="#ff9f00"/><stop offset="0.8302" stop-color="#ff9900"/><stop offset="0.8868" stop-color="#ff7900"/><stop offset="0.9151" stop-color="#ff7900"/><stop offset="0.9189" stop-color="#ff0000"/><stop offset="0.9245" stop-color="#f40000"/><stop offset="0.9434" stop-color="#ec0000"/><stop offset="0.9698" stop-color="#d90000"/><stop offset="0.9840" stop-color="#b80000"/><stop offset="0.9868" stop-color="#800000"/><stop offset="0.9981" stop-color="#800000"/><stop offset="1.0000" stop-color="#800000"/></linearGradient><linearGradient id="c57_1" gradientUnits="userSpaceOnUse" x1="0" y1="135" x2="0" y2="665"><stop offset="0.0000" stop-color="#808080" stop-opacity="0"/><stop offset="0.2566" stop-color="#0053ff" stop-opacity="0"/><stop offset="0.2566" stop-color="#0053ff"/><stop offset="0.2830" stop-color="#0093ff"/><stop offset="0.3208" stop-color="#00bfff"/><stop offset="0.3509" stop-color="#00dfff"/><stop offset="0.3842" stop-color="#0080ff"/><stop offset="0.3904" stop-color="#0040ff"/><stop offset="0.3925" stop-color="#0040ff"/><stop offset="0.3925" stop-color="#0040ff" stop-opacity="0"/><stop offset="0.4340" stop-color="#0060ff" stop-opacity="0"/><stop offset="0.4340" stop-color="#0060ff"/><stop offset="0.4423" stop-color="#0080ff"/><stop offset="0.4717" stop-color="#00bfff"/><stop offset="0.5000" stop-color="#00ffff"/><stop offset="0.5283" stop-color="#20ffdf"/><stop offset="0.5660" stop-color="#8cff73"/><stop offset="0.5849" stop-color="#0080ff"/><stop offset="0.6131" stop-color="#0060ff"/><stop offset="0.6235" stop-color="#0040ff"/><stop offset="0.6245" stop-color="#0040ff"/><stop offset="0.6245" stop-color="#0040ff" stop-opacity="0"/><stop offset="0.6613" stop-color="#0020ff" stop-opacity="0"/><stop offset="0.6613" stop-color="#0020ff"/><stop offset="0.6712" stop-color="#0020ff"/><stop offset="0.6981" stop-color="#0040ff"/><stop offset="0.7170" stop-color="#0060ff"/><stop offset="0.7358" stop-color="#009fff"/><stop offset="0.7472" stop-color="#ecff13"/><stop offset="0.7660" stop-color="#ffdf00"/><stop offset="0.7925" stop-color="#ff9f00"/><stop offset="0.8302" stop-color="#ff9900"/><stop offset="0.8868" stop-color="#ff7900"/><stop offset="0.9151" stop-color="#ff7900"/><stop offset="0.9189" stop-color="#ff0000"/><stop offset="0.9245" stop-color="#f40000"/><stop offset="0.9434" stop-color="#ec0000"/><stop offset="0.9698" stop-color="#d90000"/><stop offset="0.9840" stop-color="#b80000"/><stop offset="0.9868" stop-color="#800000"/><stop offset="0.9981" stop-color="#800000"/><stop offset="1.0000" stop-color="#800000"/></linearGradient><linearGradient id="c58_0" gradientUnits="userSpaceOnUse" x1="0" y1="135" x2="0" y2="665"><stop offset="0.0000" stop-color="#808080" stop-opacity="0"/><stop offset="0.2566" stop-color="#0053ff" stop-opacity="0"/><stop offset="0.2566" stop-color="#0053ff"/><stop offset="0.2830" stop-color="#0093ff"/><stop offset="0.3208" stop-color="#00dfff"/><stop offset="0.3585" stop-color="#00ffff"/><stop offset="0.3900" stop-color="#0080ff"/><stop offset="0.3952" stop-color="#0040ff"/><stop offset="0.3962" stop-color="#0040ff"/><stop offset="0.3962" stop-color="#0040ff" stop-opacity="0"/><stop offset="0.4329" stop-color="#0020ff" stop-opacity="0"/><stop offset="0.4329" stop-color="#0020ff"/><stop offset="0.4340" stop-color="#0020ff"/><stop offset="0.4340" stop-color="#0020ff" stop-opacity="0"/><stop offset="0.4434" stop-color="#0040ff" stop-opacity="0"/><stop offset="0.4434" stop-color="#0040ff"/><stop offset="0.4538" stop-color="#009fff"/><stop offset="0.4906" stop-color="#00dfff"/><stop offset="0.5283" stop-color="#00ffff"/><stop offset="0.5660" stop-color="#00ffff"/><stop offset="0.5900" stop-color="#0060ff"/><stop offset="0.5942" stop-color="#0040ff"/><stop offset="0.5962" stop-color="#0040ff"/><stop offset="0.5962" stop-color="#0040ff" stop-opacity="0"/><stop offset="0.6689" stop-color="#0020ff" stop-opacity="0"/><stop offset="0.6689" stop-color="#0020ff"/><stop offset="0.6767" stop-color="#0040ff"/><stop offset="0.6829" stop-color="#00bfff"/><stop offset="0.7132" stop-color="#40ffbf"/><stop offset="0.7358" stop-color="#ccff33"/><stop offset="0.7396" stop-color="#acff53"/><stop offset="0.7547" stop-color="#ffff00"/><stop offset="0.7736" stop-color="#ff9f00"/><stop offset="0.8113" stop-color="#ff7900"/><stop offset="0.8868" stop-color="#ff7900"/><stop offset="0.9151" stop-color="#ff7900"/><stop offset="0.9189" stop-color="#ff0000"/><stop offset="0.9245" stop-color="#f40000"/><stop offset="0.9434" stop-color="#ec0000"/><stop offset="0.9698" stop-color="#d90000"/><stop offset="0.9840" stop-color="#b80000"/><stop offset="0.9868" stop-color="#800000"/><stop offset="0.9981" stop-color="#800000"/><stop offset="1.0000" stop-color="#800000"/></linearGradient><linearGradient id="c58_1" gradientUnits="userSpaceOnUse" x1="0" y1="135" x2="0" y2="665"><stop offset="0.0000" stop-color="#808080" stop-opacity="0"/><stop offset="0.2566" stop-color="#0053ff" stop-opacity="0"/><stop offset="0.2566" stop-color="#0053ff"/><stop offset="0.2830" stop-color="#0093ff"/><stop offset="0.3208" stop-color="#00dfff"/><stop offset="0.3585" stop-color="#00ffff"/><stop offset="0.3900" stop-color="#0080ff"/><stop offset="0.3952" stop-color="#0040ff"/><stop offset="0.3962" stop-color="#0040ff"/><stop offset="0.3962" stop-color="#0040ff" stop-opacity="0"/><stop offset="0.4321" stop-color="#0020ff" stop-opacity="0"/><stop offset="0.4321" stop-color="#0020ff"/><stop offset="0.4331" stop-color="#0040ff"/><stop offset="0.4435" stop-color="#0080ff"/><stop offset="0.4811" stop-color="#00bfff"/><stop offset="0.5094" stop-color="#00ffff"/><stop offset="0.5472" stop-color="#20ffdf"/><stop offset="0.5887" stop-color="#0080ff"/><stop offset="0.5918" stop-color="#0040ff"/><stop offset="0.5934" stop-color="#0040ff"/><stop offset="0.5934" stop-color="#0040ff" stop-opacity="0"/><stop offset="0.6802" stop-color="#0020ff" stop-opacity="0"/><stop offset="0.6802" stop-color="#0020ff"/><stop offset="0.6859" stop-color="#0060ff"/><stop offset="0.6921" stop-color="#00ffff"/><stop offset="0.7208" stop-color="#acff53"/><stop offset="0.7358" stop-color="#ecff13"/><stop offset="0.7396" stop-color="#acff53"/><stop offset="0.7547" stop-color="#ffff00"/><stop offset="0.7736" stop-color="#ff9f00"/><stop offset="0.8113" stop-color="#ff7900"/><stop offset="0.8868" stop-color="#ff7900"/><stop offset="0.9151" stop-color="#ff7900"/><stop offset="0.9189" stop-color="#ff0000"/><stop offset="0.9245" stop-color="#f40000"/><stop offset="0.9434" stop-color="#ec0000"/><stop offset="0.9698" stop-color="#d90000"/><stop offset="0.9840" stop-color="#b80000"/><stop offset="0.9868" stop-color="#800000"/><stop offset="0.9981" stop-color="#800000"/><stop offset="1.0000" stop-color="#800000"/></linearGradient><linearGradient id="c59_0" gradientUnits="userSpaceOnUse" x1="0" y1="135" x2="0" y2="665"><stop offset="0.0000" stop-color="#808080" stop-opacity="0"/><stop offset="0.2604" stop-color="#0053ff" stop-opacity="0"/><stop offset="0.2604" stop-color="#0053ff"/><stop offset="0.2906" stop-color="#0093ff"/><stop offset="0.3208" stop-color="#00bfff"/><stop offset="0.3585" stop-color="#00dfff"/><stop offset="0.3962" stop-color="#0080ff"/><stop offset="0.4189" stop-color="#0040ff"/><stop offset="0.4340" stop-color="#0040ff"/><stop offset="0.4528" stop-color="#0080ff"/><stop offset="0.4717" stop-color="#00bfff"/><stop offset="0.5094" stop-color="#00ffff"/><stop offset="0.5472" stop-color="#20ffdf"/><stop offset="0.5887" stop-color="#0080ff"/><stop offset="0.5918" stop-color="#0040ff"/><stop offset="0.5934" stop-color="#0040ff"/><stop offset="0.5934" stop-color="#0040ff" stop-opacity="0"/><stop offset="0.6915" stop-color="#0020ff" stop-opacity="0"/><stop offset="0.6915" stop-color="#0020ff"/><stop offset="0.6972" stop-color="#0080ff"/><stop offset="0.7034" stop-color="#20ffdf"/><stop offset="0.7283" stop-color="#acff53"/><stop offset="0.7358" stop-color="#ecff13"/><stop offset="0.7472" stop-color="#ecff13"/><stop offset="0.7660" stop-color="#ffff00"/><stop offset="0.7887" stop-color="#ffbf00"/><stop offset="0.8189" stop-color="#ff9900"/><stop offset="0.8868" stop-color="#ff7900"/><stop offset="0.9151" stop-color="#ff7900"/><stop offset="0.9189" stop-color="#ff0000"/><stop offset="0.9245" stop-color="#f40000"/><stop offset="0.9434" stop-color="#ec0000"/><stop offset="0.9698" stop-color="#d90000"/><stop offset="0.9840" stop-color="#b80000"/><stop offset="0.9868" stop-color="#800000"/><stop offset="0.9981" stop-color="#800000"/><stop offset="1.0000" stop-color="#800000"/></linearGradient><linearGradient id="c59_1" gradientUnits="userSpaceOnUse" x1="0" y1="135" x2="0" y2="665"><stop offset="0.0000" stop-color="#808080" stop-opacity="0"/><stop offset="0.2604" stop-color="#0053ff" stop-opacity="0"/><stop offset="0.2604" stop-color="#0053ff"/><stop offset="0.2906" stop-color="#0093ff"/><stop offset="0.3208" stop-color="#00bfff"/><stop offset="0.3585" stop-color="#00dfff"/><stop offset="0.3962" stop-color="#0080ff"/><stop offset="0.4189" stop-color="#0040ff"/><stop offset="0.4340" stop-color="#0060ff"/><stop offset="0.4528" stop-color="#0080ff"/><stop offset="0.4717" stop-color="#00dfff"/><stop offset="0.5094" stop-color="#20ffdf"/><stop offset="0.5472" stop-color="#40ffbf"/><stop offset="0.5892" stop-color="#0080ff"/><stop offset="0.5928" stop-color="#0040ff"/><stop offset="0.5943" stop-color="#0040ff"/><stop offset="0.5943" stop-color="#0040ff" stop-opacity="0"/><stop offset="0.7066" stop-color="#0020ff" stop-opacity="0"/><stop offset="0.7066" stop-color="#0020ff"/><stop offset="0.7123" stop-color="#009fff"/><stop offset="0.7185" stop-color="#40ffbf"/><stop offset="0.7358" stop-color="#ccff33"/><stop offset="0.7472" stop-color="#ecff13"/><stop offset="0.7660" stop-color="#ffff00"/><stop offset="0.7887" stop-color="#ffbf00"/><stop offset="0.8189" stop-color="#ff9900"/><stop offset="0.8868" stop-color="#ff7900"/><stop offset="0.9151" stop-color="#ff7900"/><stop offset="0.9189" stop-color="#ff0000"/><stop offset="0.9245" stop-color="#f40000"/><stop offset="0.9434" stop-color="#ec0000"/><stop offset="0.9698" stop-color="#d90000"/><stop offset="0.9840" stop-color="#b80000"/><stop offset="0.9868" stop-color="#800000"/><stop offset="0.9981" stop-color="#800000"/><stop offset="1.0000" stop-color="#800000"/></linearGradient><linearGradient id="c60_0" gradientUnits="userSpaceOnUse" x1="0" y1="135" x2="0" y2="665"><stop offset="0.0000" stop-color="#808080" stop-opacity="0"/><stop offset="0.2679" stop-color="#0053ff" stop-opacity="0"/><stop offset="0.2679" stop-color="#0053ff"/><stop offset="0.2943" stop-color="#0093ff"/><stop offset="0.3309" stop-color="#0080ff"/><stop offset="0.3413" stop-color="#0060ff"/><stop offset="0.3434" stop-color="#0060ff"/><stop offset="0.3434" stop-color="#0060ff" stop-opacity="0"/><stop offset="0.3925" stop-color="#0040ff" stop-opacity="0"/><stop offset="0.3925" stop-color="#0040ff"/><stop offset="0.4189" stop-color="#009fff"/><stop offset="0.4340" stop-color="#0080ff"/><stop offset="0.4528" stop-color="#00bfff"/><stop offset="0.4811" stop-color="#20ffdf"/><stop offset="0.5094" stop-color="#40ffbf"/><stop offset="0.5472" stop-color="#8cff73"/><stop offset="0.5698" stop-color="#40ffbf"/><stop offset="0.5904" stop-color="#009fff"/><stop offset="0.5956" stop-color="#0040ff"/><stop offset="0.5972" stop-color="#0040ff"/><stop offset="0.5972" stop-color="#0040ff" stop-opacity="0"/><stop offset="0.7142" stop-color="#0020ff" stop-opacity="0"/><stop offset="0.7142" stop-color="#0020ff"/><stop offset="0.7188" stop-color="#009fff"/><stop offset="0.7240" stop-color="#40ffbf"/><stop offset="0.7261" stop-color="#acff53"/><stop offset="0.7282" stop-color="#40ffbf"/><stop offset="0.7509" stop-color="#ecff13"/><stop offset="0.7660" stop-color="#ffdf00"/><stop offset="0.7925" stop-color="#ff9900"/><stop offset="0.8491" stop-color="#ff7900"/><stop offset="0.8868" stop-color="#ff7900"/><stop offset="0.9151" stop-color="#ff7900"/><stop offset="0.9189" stop-color="#ff0000"/><stop offset="0.9245" stop-color="#f40000"/><stop offset="0.9434" stop-color="#ff0000"/><stop offset="0.9698" stop-color="#d90000"/><stop offset="0.9840" stop-color="#b80000"/><stop offset="0.9868" stop-color="#800000"/><stop offset="0.9981" stop-color="#800000"/><stop offset="1.0000" stop-color="#800000"/></linearGradient><linearGradient id="c60_1" gradientUnits="userSpaceOnUse" x1="0" y1="135" x2="0" y2="665"><stop offset="0.0000" stop-color="#808080" stop-opacity="0"/><stop offset="0.2679" stop-color="#0053ff" stop-opacity="0"/><stop offset="0.2679" stop-color="#0053ff"/><stop offset="0.2943" stop-color="#0093ff"/><stop offset="0.3309" stop-color="#0080ff"/><stop offset="0.3413" stop-color="#0060ff"/><stop offset="0.3434" stop-color="#0060ff"/><stop offset="0.3434" stop-color="#0060ff" stop-opacity="0"/><stop offset="0.3925" stop-color="#0040ff" stop-opacity="0"/><stop offset="0.3925" stop-color="#0040ff"/><stop offset="0.4189" stop-color="#009fff"/><stop offset="0.4340" stop-color="#00bfff"/><stop offset="0.4528" stop-color="#00ffff"/><stop offset="0.4811" stop-color="#40ffbf"/><stop offset="0.5094" stop-color="#8cff73"/><stop offset="0.5472" stop-color="#acff53"/><stop offset="0.5771" stop-color="#40ffbf"/><stop offset="0.5854" stop-color="#0080ff"/><stop offset="0.5875" stop-color="#0080ff"/><stop offset="0.5895" stop-color="#0040ff"/><stop offset="0.5906" stop-color="#0040ff"/><stop offset="0.5906" stop-color="#0040ff" stop-opacity="0"/><stop offset="0.7104" stop-color="#0020ff" stop-opacity="0"/><stop offset="0.7104" stop-color="#0020ff"/><stop offset="0.7161" stop-color="#00bfff"/><stop offset="0.7213" stop-color="#8cff73"/><stop offset="0.7244" stop-color="#ccff33"/><stop offset="0.7396" stop-color="#40ffbf"/><stop offset="0.7509" stop-color="#ecff13"/><stop offset="0.7660" stop-color="#ffdf00"/><stop offset="0.7925" stop-color="#ff9900"/><stop offset="0.8491" stop-color="#ff7900"/><stop offset="0.8868" stop-color="#ff7900"/><stop offset="0.9151" stop-color="#ff7900"/><stop offset="0.9189" stop-color="#ff0000"/><stop offset="0.9245" stop-color="#f40000"/><stop offset="0.9434" stop-color="#ff0000"/><stop offset="0.9698" stop-color="#d90000"/><stop offset="0.9840" stop-color="#b80000"/><stop offset="0.9868" stop-color="#800000"/><stop offset="0.9981" stop-color="#800000"/><stop offset="1.0000" stop-color="#800000"/></linearGradient><linearGradient id="c61_0" gradientUnits="userSpaceOnUse" x1="0" y1="135" x2="0" y2="665"><stop offset="0.0000" stop-color="#808080" stop-opacity="0"/><stop offset="0.2717" stop-color="#0053ff" stop-opacity="0"/><stop offset="0.2717" stop-color="#0053ff"/><stop offset="0.3019" stop-color="#0093ff"/><stop offset="0.3208" stop-color="#009fff"/><stop offset="0.3564" stop-color="#0060ff"/><stop offset="0.3585" stop-color="#0060ff"/><stop offset="0.3585" stop-color="#0060ff" stop-opacity="0"/><stop offset="0.3962" stop-color="#0040ff" stop-opacity="0"/><stop offset="0.3962" stop-color="#0040ff"/><stop offset="0.4226" stop-color="#00bfff"/><stop offset="0.4340" stop-color="#00dfff"/><stop offset="0.4528" stop-color="#20ffdf"/><stop offset="0.4811" stop-color="#40ffbf"/><stop offset="0.5094" stop-color="#8cff73"/><stop offset="0.5472" stop-color="#8cff73"/><stop offset="0.5725" stop-color="#00ffff"/><stop offset="0.5787" stop-color="#0060ff"/><stop offset="0.5849" stop-color="#0060ff"/><stop offset="0.5849" stop-color="#0060ff" stop-opacity="0"/><stop offset="0.7066" stop-color="#0020ff" stop-opacity="0"/><stop offset="0.7066" stop-color="#0020ff"/><stop offset="0.7123" stop-color="#00bfff"/><stop offset="0.7175" stop-color="#8cff73"/><stop offset="0.7358" stop-color="#ecff13"/><stop offset="0.7509" stop-color="#ffff00"/><stop offset="0.7736" stop-color="#ffbf00"/><stop offset="0.8038" stop-color="#ff9900"/><stop offset="0.8491" stop-color="#ff7900"/><stop offset="0.9151" stop-color="#ff7900"/><stop offset="0.9189" stop-color="#ff0000"/><stop offset="0.9245" stop-color="#f40000"/><stop offset="0.9434" stop-color="#ff2900"/><stop offset="0.9698" stop-color="#ff0000"/><stop offset="0.9868" stop-color="#c60000"/><stop offset="0.9953" stop-color="#b80000"/><stop offset="0.9981" stop-color="#800000"/><stop offset="1.0000" stop-color="#800000"/></linearGradient><linearGradient id="c61_1" gradientUnits="userSpaceOnUse" x1="0" y1="135" x2="0" y2="665"><stop offset="0.0000" stop-color="#808080" stop-opacity="0"/><stop offset="0.2717" stop-color="#0053ff" stop-opacity="0"/><stop offset="0.2717" stop-color="#0053ff"/><stop offset="0.3019" stop-color="#0093ff"/><stop offset="0.3208" stop-color="#009fff"/><stop offset="0.3564" stop-color="#0060ff"/><stop offset="0.3585" stop-color="#0060ff"/><stop offset="0.3585" stop-color="#0060ff" stop-opacity="0"/><stop offset="0.3962" stop-color="#0040ff" stop-opacity="0"/><stop offset="0.3962" stop-color="#0040ff"/><stop offset="0.4226" stop-color="#00bfff"/><stop offset="0.4340" stop-color="#00ffff"/><stop offset="0.4528" stop-color="#20ffdf"/><stop offset="0.4811" stop-color="#40ffbf"/><stop offset="0.5094" stop-color="#40ffbf"/><stop offset="0.5377" stop-color="#20ffdf"/><stop offset="0.5566" stop-color="#00dfff"/><stop offset="0.5766" stop-color="#0060ff"/><stop offset="0.5839" stop-color="#0040ff"/><stop offset="0.5849" stop-color="#0040ff"/><stop offset="0.5849" stop-color="#0040ff" stop-opacity="0"/><stop offset="0.7047" stop-color="#0020ff" stop-opacity="0"/><stop offset="0.7047" stop-color="#0020ff"/><stop offset="0.7104" stop-color="#00bfff"/><stop offset="0.7156" stop-color="#8cff73"/><stop offset="0.7358" stop-color="#ecff13"/><stop offset="0.7509" stop-color="#ffff00"/><stop offset="0.7736" stop-color="#ffbf00"/><stop offset="0.8038" stop-color="#ff9900"/><stop offset="0.8491" stop-color="#ff7900"/><stop offset="0.9151" stop-color="#ff7900"/><stop offset="0.9189" stop-color="#ff0000"/><stop offset="0.9245" stop-color="#f40000"/><stop offset="0.9434" stop-color="#ff2900"/><stop offset="0.9698" stop-color="#ff0000"/><stop offset="0.9868" stop-color="#c60000"/><stop offset="0.9953" stop-color="#b80000"/><stop offset="0.9981" stop-color="#800000"/><stop offset="1.0000" stop-color="#800000"/></linearGradient><linearGradient id="c62_0" gradientUnits="userSpaceOnUse" x1="0" y1="135" x2="0" y2="665"><stop offset="0.0000" stop-color="#808080" stop-opacity="0"/><stop offset="0.2755" stop-color="#0053ff" stop-opacity="0"/><stop offset="0.2755" stop-color="#0053ff"/><stop offset="0.3057" stop-color="#009fff"/><stop offset="0.3208" stop-color="#009fff"/><stop offset="0.3648" stop-color="#0060ff"/><stop offset="0.3679" stop-color="#0060ff"/><stop offset="0.3679" stop-color="#0060ff" stop-opacity="0"/><stop offset="0.3981" stop-color="#0040ff" stop-opacity="0"/><stop offset="0.3981" stop-color="#0040ff"/><stop offset="0.4116" stop-color="#00bfff"/><stop offset="0.4340" stop-color="#00ffff"/><stop offset="0.4528" stop-color="#20ffdf"/><stop offset="0.4906" stop-color="#20ffdf"/><stop offset="0.5189" stop-color="#40ffbf"/><stop offset="0.5377" stop-color="#40ffbf"/><stop offset="0.5566" stop-color="#00ffff"/><stop offset="0.5698" stop-color="#0080ff"/><stop offset="0.5905" stop-color="#0040ff"/><stop offset="0.5925" stop-color="#009fff"/><stop offset="0.5988" stop-color="#0060ff"/><stop offset="0.6019" stop-color="#0060ff"/><stop offset="0.6019" stop-color="#0060ff" stop-opacity="0"/><stop offset="0.7009" stop-color="#0020ff" stop-opacity="0"/><stop offset="0.7009" stop-color="#0020ff"/><stop offset="0.7056" stop-color="#00bfff"/><stop offset="0.7118" stop-color="#8cff73"/><stop offset="0.7358" stop-color="#ecff13"/><stop offset="0.7472" stop-color="#ffff00"/><stop offset="0.7736" stop-color="#ffbf00"/><stop offset="0.8038" stop-color="#ff9900"/><stop offset="0.8491" stop-color="#ff9900"/><stop offset="0.9245" stop-color="#ff9900"/><stop offset="0.9434" stop-color="#ff7900"/><stop offset="0.9698" stop-color="#ff7900"/><stop offset="0.9849" stop-color="#ff5900"/><stop offset="0.9906" stop-color="#d90000"/><stop offset="0.9981" stop-color="#ff0000"/><stop offset="1.0000" stop-color="#ff0000"/></linearGradient><linearGradient id="c62_1" gradientUnits="userSpaceOnUse" x1="0" y1="135" x2="0" y2="665"><stop offset="0.0000" stop-color="#808080" stop-opacity="0"/><stop offset="0.2755" stop-color="#0053ff" stop-opacity="0"/><stop offset="0.2755" stop-color="#0053ff"/><stop offset="0.3057" stop-color="#009fff"/><stop offset="0.3208" stop-color="#009fff"/><stop offset="0.3648" stop-color="#0060ff"/><stop offset="0.3679" stop-color="#0060ff"/><stop offset="0.3679" stop-color="#0060ff" stop-opacity="0"/><stop offset="0.3981" stop-color="#0040ff" stop-opacity="0"/><stop offset="0.3981" stop-color="#0040ff"/><stop offset="0.4116" stop-color="#00bfff"/><stop offset="0.4340" stop-color="#00ffff"/><stop offset="0.4528" stop-color="#00ffff"/><stop offset="0.4906" stop-color="#20ffdf"/><stop offset="0.5189" stop-color="#40ffbf"/><stop offset="0.5377" stop-color="#20ffdf"/><stop offset="0.5651" stop-color="#00bfff"/><stop offset="0.5703" stop-color="#0060ff"/><stop offset="0.5744" stop-color="#0040ff"/><stop offset="0.5755" stop-color="#0040ff"/><stop offset="0.5755" stop-color="#0040ff" stop-opacity="0"/><stop offset="0.5934" stop-color="#009fff" stop-opacity="0"/><stop offset="0.5934" stop-color="#009fff"/><stop offset="0.5996" stop-color="#0060ff"/><stop offset="0.6038" stop-color="#0060ff"/><stop offset="0.6038" stop-color="#0060ff" stop-opacity="0"/><stop offset="0.6934" stop-color="#0020ff" stop-opacity="0"/><stop offset="0.6934" stop-color="#0020ff"/><stop offset="0.6981" stop-color="#00bfff"/><stop offset="0.7043" stop-color="#8cff73"/><stop offset="0.7358" stop-color="#ecff13"/><stop offset="0.7472" stop-color="#ffff00"/><stop offset="0.7736" stop-color="#ffbf00"/><stop offset="0.8038" stop-color="#ff9900"/><stop offset="0.8491" stop-color="#ff9900"/><stop offset="0.9245" stop-color="#ff9900"/><stop offset="0.9434" stop-color="#ff7900"/><stop offset="0.9698" stop-color="#ff7900"/><stop offset="0.9849" stop-color="#ff5900"/><stop offset="0.9906" stop-color="#d90000"/><stop offset="0.9981" stop-color="#ff0000"/><stop offset="1.0000" stop-color="#ff0000"/></linearGradient><linearGradient id="c63_0" gradientUnits="userSpaceOnUse" x1="0" y1="135" x2="0" y2="665"><stop offset="0.0000" stop-color="#808080" stop-opacity="0"/><stop offset="0.2717" stop-color="#0053ff" stop-opacity="0"/><stop offset="0.2717" stop-color="#0053ff"/><stop offset="0.3019" stop-color="#009fff"/><stop offset="0.3208" stop-color="#00bfff"/><stop offset="0.3585" stop-color="#00ffff"/><stop offset="0.3849" stop-color="#009fff"/><stop offset="0.3962" stop-color="#0060ff"/><stop offset="0.4189" stop-color="#00bfff"/><stop offset="0.4340" stop-color="#00ffff"/><stop offset="0.4528" stop-color="#00ffff"/><stop offset="0.4906" stop-color="#00ffff"/><stop offset="0.5189" stop-color="#20ffdf"/><stop offset="0.5377" stop-color="#00ffff"/><stop offset="0.5577" stop-color="#0080ff"/><stop offset="0.5640" stop-color="#0040ff"/><stop offset="0.5660" stop-color="#0040ff"/><stop offset="0.5660" stop-color="#0040ff" stop-opacity="0"/><stop offset="0.6877" stop-color="#0020ff" stop-opacity="0"/><stop offset="0.6877" stop-color="#0020ff"/><stop offset="0.6924" stop-color="#00bfff"/><stop offset="0.6986" stop-color="#8cff73"/><stop offset="0.7264" stop-color="#ecff13"/><stop offset="0.7358" stop-color="#feff01"/><stop offset="0.7396" stop-color="#ffff00"/><stop offset="0.7660" stop-color="#ffbf00"/><stop offset="0.8038" stop-color="#ff9f00"/><stop offset="0.8340" stop-color="#ffbf00"/><stop offset="0.8868" stop-color="#ffdf00"/><stop offset="0.9245" stop-color="#ffdf00"/><stop offset="0.9434" stop-color="#ffbf00"/><stop offset="0.9698" stop-color="#ff9f00"/><stop offset="0.9849" stop-color="#ff7900"/><stop offset="0.9917" stop-color="#c60000"/><stop offset="0.9981" stop-color="#ff0000"/><stop offset="1.0000" stop-color="#ff0000"/></linearGradient><linearGradient id="c63_1" gradientUnits="userSpaceOnUse" x1="0" y1="135" x2="0" y2="665"><stop offset="0.0000" stop-color="#808080" stop-opacity="0"/><stop offset="0.2717" stop-color="#0053ff" stop-opacity="0"/><stop offset="0.2717" stop-color="#0053ff"/><stop offset="0.3019" stop-color="#009fff"/><stop offset="0.3208" stop-color="#00bfff"/><stop offset="0.3585" stop-color="#00ffff"/><stop offset="0.3849" stop-color="#009fff"/><stop offset="0.3962" stop-color="#0060ff"/><stop offset="0.4189" stop-color="#00bfff"/><stop offset="0.4340" stop-color="#00bfff"/><stop offset="0.4491" stop-color="#00dfff"/><stop offset="0.4811" stop-color="#00ffff"/><stop offset="0.5094" stop-color="#00ffff"/><stop offset="0.5283" stop-color="#00bfff"/><stop offset="0.5485" stop-color="#0060ff"/><stop offset="0.5537" stop-color="#0040ff"/><stop offset="0.5547" stop-color="#0040ff"/><stop offset="0.5547" stop-color="#0040ff" stop-opacity="0"/><stop offset="0.6745" stop-color="#0020ff" stop-opacity="0"/><stop offset="0.6745" stop-color="#0020ff"/><stop offset="0.6792" stop-color="#00bfff"/><stop offset="0.6854" stop-color="#8cff73"/><stop offset="0.7132" stop-color="#ecff13"/><stop offset="0.7358" stop-color="#feff01"/><stop offset="0.7396" stop-color="#ffff00"/><stop offset="0.7660" stop-color="#ffbf00"/><stop offset="0.8038" stop-color="#ff9f00"/><stop offset="0.8340" stop-color="#ffbf00"/><stop offset="0.8868" stop-color="#ffdf00"/><stop offset="0.9245" stop-color="#ffdf00"/><stop offset="0.9434" stop-color="#ffbf00"/><stop offset="0.9698" stop-color="#ff9f00"/><stop offset="0.9849" stop-color="#ff7900"/><stop offset="0.9917" stop-color="#c60000"/><stop offset="0.9981" stop-color="#ff0000"/><stop offset="1.0000" stop-color="#ff0000"/></linearGradient><linearGradient id="c64_0" gradientUnits="userSpaceOnUse" x1="0" y1="135" x2="0" y2="665"><stop offset="0.0000" stop-color="#808080" stop-opacity="0"/><stop offset="0.2642" stop-color="#0053ff" stop-opacity="0"/><stop offset="0.2642" stop-color="#0053ff"/><stop offset="0.2943" stop-color="#009fff"/><stop offset="0.3208" stop-color="#00dfff"/><stop offset="0.3585" stop-color="#20ffdf"/><stop offset="0.3849" stop-color="#00bfff"/><stop offset="0.4000" stop-color="#0060ff"/><stop offset="0.4264" stop-color="#0080ff"/><stop offset="0.4340" stop-color="#0080ff"/><stop offset="0.4528" stop-color="#0080ff"/><stop offset="0.4717" stop-color="#0060ff"/><stop offset="0.4906" stop-color="#00bfff"/><stop offset="0.5189" stop-color="#00dfff"/><stop offset="0.5437" stop-color="#009fff"/><stop offset="0.5489" stop-color="#0060ff"/><stop offset="0.5509" stop-color="#0060ff"/><stop offset="0.5509" stop-color="#0060ff" stop-opacity="0"/><stop offset="0.6575" stop-color="#0020ff" stop-opacity="0"/><stop offset="0.6575" stop-color="#0020ff"/><stop offset="0.6622" stop-color="#00bfff"/><stop offset="0.6695" stop-color="#8cff73"/><stop offset="0.6981" stop-color="#ecff13"/><stop offset="0.7358" stop-color="#feff01"/><stop offset="0.7660" stop-color="#ff9f00"/><stop offset="0.8038" stop-color="#ff9900"/><stop offset="0.8491" stop-color="#ff7900"/><stop offset="0.9151" stop-color="#ff7900"/><stop offset="0.9189" stop-color="#ff0000"/><stop offset="0.9245" stop-color="#f40000"/><stop offset="0.9434" stop-color="#ec0000"/><stop offset="0.9698" stop-color="#d90000"/><stop offset="0.9840" stop-color="#b80000"/><stop offset="0.9868" stop-color="#800000"/><stop offset="0.9981" stop-color="#800000"/><stop offset="1.0000" stop-color="#800000"/></linearGradient><linearGradient id="c64_1" gradientUnits="userSpaceOnUse" x1="0" y1="135" x2="0" y2="665"><stop offset="0.0000" stop-color="#808080" stop-opacity="0"/><stop offset="0.2642" stop-color="#0053ff" stop-opacity="0"/><stop offset="0.2642" stop-color="#0053ff"/><stop offset="0.2943" stop-color="#009fff"/><stop offset="0.3208" stop-color="#00dfff"/><stop offset="0.3585" stop-color="#20ffdf"/><stop offset="0.3849" stop-color="#00bfff"/><stop offset="0.4000" stop-color="#0060ff"/><stop offset="0.4298" stop-color="#0080ff"/><stop offset="0.4340" stop-color="#0080ff"/><stop offset="0.4340" stop-color="#0080ff" stop-opacity="0"/><stop offset="0.4792" stop-color="#0040ff" stop-opacity="0"/><stop offset="0.4792" stop-color="#0040ff"/><stop offset="0.4855" stop-color="#009fff"/><stop offset="0.5094" stop-color="#00dfff"/><stop offset="0.5283" stop-color="#00bfff"/><stop offset="0.5396" stop-color="#0060ff"/><stop offset="0.5574" stop-color="#0040ff"/><stop offset="0.5677" stop-color="#0040ff"/><stop offset="0.5698" stop-color="#0040ff"/><stop offset="0.5698" stop-color="#0040ff" stop-opacity="0"/><stop offset="0.6500" stop-color="#0020ff" stop-opacity="0"/><stop offset="0.6500" stop-color="#0020ff"/><stop offset="0.6547" stop-color="#00bfff"/><stop offset="0.6619" stop-color="#8cff73"/><stop offset="0.6906" stop-color="#ecff13"/><stop offset="0.7170" stop-color="#ffdf00"/><stop offset="0.7358" stop-color="#ffbf00"/><stop offset="0.7660" stop-color="#ff9f00"/><stop offset="0.8038" stop-color="#ff9900"/><stop offset="0.8491" stop-color="#ff7900"/><stop offset="0.9151" stop-color="#ff7900"/><stop offset="0.9189" stop-color="#ff0000"/><stop offset="0.9245" stop-color="#f40000"/><stop offset="0.9434" stop-color="#ec0000"/><stop offset="0.9698" stop-color="#d90000"/><stop offset="0.9840" stop-color="#b80000"/><stop offset="0.9868" stop-color="#800000"/><stop offset="0.9981" stop-color="#800000"/><stop offset="1.0000" stop-color="#800000"/></linearGradient><linearGradient id="c65_0" gradientUnits="userSpaceOnUse" x1="0" y1="135" x2="0" y2="665"><stop offset="0.0000" stop-color="#808080" stop-opacity="0"/><stop offset="0.2585" stop-color="#0060ff" stop-opacity="0"/><stop offset="0.2585" stop-color="#0060ff"/><stop offset="0.2906" stop-color="#00bfff"/><stop offset="0.3208" stop-color="#00ffff"/><stop offset="0.3585" stop-color="#20ffdf"/><stop offset="0.3825" stop-color="#009fff"/><stop offset="0.3876" stop-color="#0040ff"/><stop offset="0.3887" stop-color="#0040ff"/><stop offset="0.3887" stop-color="#0040ff" stop-opacity="0"/><stop offset="0.4416" stop-color="#0060ff" stop-opacity="0"/><stop offset="0.4416" stop-color="#0060ff"/><stop offset="0.4499" stop-color="#0060ff"/><stop offset="0.4509" stop-color="#0060ff"/><stop offset="0.4509" stop-color="#0060ff" stop-opacity="0"/><stop offset="0.4915" stop-color="#0040ff" stop-opacity="0"/><stop offset="0.4915" stop-color="#0040ff"/><stop offset="0.5014" stop-color="#009fff"/><stop offset="0.5245" stop-color="#0080ff"/><stop offset="0.5396" stop-color="#0040ff"/><stop offset="0.5745" stop-color="#0040ff"/><stop offset="0.5839" stop-color="#0040ff"/><stop offset="0.5849" stop-color="#0040ff"/><stop offset="0.5849" stop-color="#0040ff" stop-opacity="0"/><stop offset="0.6387" stop-color="#0020ff" stop-opacity="0"/><stop offset="0.6387" stop-color="#0020ff"/><stop offset="0.6433" stop-color="#00bfff"/><stop offset="0.6506" stop-color="#8cff73"/><stop offset="0.6792" stop-color="#ecff13"/><stop offset="0.7019" stop-color="#ffff00"/><stop offset="0.7170" stop-color="#ffdf00"/><stop offset="0.7358" stop-color="#ffbf00"/><stop offset="0.7472" stop-color="#ff9f00"/><stop offset="0.7925" stop-color="#ff9900"/><stop offset="0.8491" stop-color="#ff7900"/><stop offset="0.9151" stop-color="#ff7900"/><stop offset="0.9189" stop-color="#ff0000"/><stop offset="0.9245" stop-color="#f40000"/><stop offset="0.9434" stop-color="#ec0000"/><stop offset="0.9698" stop-color="#c60000"/><stop offset="0.9840" stop-color="#b80000"/><stop offset="0.9868" stop-color="#800000"/><stop offset="0.9981" stop-color="#800000"/><stop offset="1.0000" stop-color="#800000"/></linearGradient><linearGradient id="c65_1" gradientUnits="userSpaceOnUse" x1="0" y1="135" x2="0" y2="665"><stop offset="0.0000" stop-color="#808080" stop-opacity="0"/><stop offset="0.2585" stop-color="#0060ff" stop-opacity="0"/><stop offset="0.2585" stop-color="#0060ff"/><stop offset="0.2906" stop-color="#00bfff"/><stop offset="0.3208" stop-color="#00ffff"/><stop offset="0.3585" stop-color="#20ffdf"/><stop offset="0.3825" stop-color="#009fff"/><stop offset="0.3876" stop-color="#0040ff"/><stop offset="0.3887" stop-color="#0040ff"/><stop offset="0.3887" stop-color="#0040ff" stop-opacity="0"/><stop offset="0.4972" stop-color="#0040ff" stop-opacity="0"/><stop offset="0.4972" stop-color="#0040ff"/><stop offset="0.5039" stop-color="#0080ff"/><stop offset="0.5245" stop-color="#0060ff"/><stop offset="0.5358" stop-color="#0040ff"/><stop offset="0.5577" stop-color="#0040ff"/><stop offset="0.5650" stop-color="#0040ff"/><stop offset="0.5660" stop-color="#0040ff"/><stop offset="0.5660" stop-color="#0040ff" stop-opacity="0"/><stop offset="0.6132" stop-color="#0040ff" stop-opacity="0"/><stop offset="0.6132" stop-color="#0040ff"/><stop offset="0.6205" stop-color="#00ffff"/><stop offset="0.6415" stop-color="#acff53"/><stop offset="0.6604" stop-color="#ffdf00"/><stop offset="0.6792" stop-color="#ff9900"/><stop offset="0.7170" stop-color="#ff9900"/><stop offset="0.7358" stop-color="#ff9900"/><stop offset="0.7472" stop-color="#ff9f00"/><stop offset="0.7925" stop-color="#ff9900"/><stop offset="0.8491" stop-color="#ff7900"/><stop offset="0.9151" stop-color="#ff7900"/><stop offset="0.9189" stop-color="#ff0000"/><stop offset="0.9245" stop-color="#f40000"/><stop offset="0.9434" stop-color="#ec0000"/><stop offset="0.9698" stop-color="#c60000"/><stop offset="0.9840" stop-color="#b80000"/><stop offset="0.9868" stop-color="#800000"/><stop offset="0.9981" stop-color="#800000"/><stop offset="1.0000" stop-color="#800000"/></linearGradient><linearGradient id="c66_0" gradientUnits="userSpaceOnUse" x1="0" y1="135" x2="0" y2="665"><stop offset="0.0000" stop-color="#808080" stop-opacity="0"/><stop offset="0.2509" stop-color="#0060ff" stop-opacity="0"/><stop offset="0.2509" stop-color="#0060ff"/><stop offset="0.2830" stop-color="#00dfff"/><stop offset="0.3208" stop-color="#20ffdf"/><stop offset="0.3586" stop-color="#00ffff"/><stop offset="0.3658" stop-color="#0060ff"/><stop offset="0.3679" stop-color="#0060ff"/><stop offset="0.3679" stop-color="#0060ff" stop-opacity="0"/><stop offset="0.4896" stop-color="#0040ff" stop-opacity="0"/><stop offset="0.4896" stop-color="#0040ff"/><stop offset="0.4984" stop-color="#009fff"/><stop offset="0.5189" stop-color="#00bfff"/><stop offset="0.5423" stop-color="#0080ff"/><stop offset="0.5506" stop-color="#0040ff"/><stop offset="0.5547" stop-color="#0040ff"/><stop offset="0.5547" stop-color="#0040ff" stop-opacity="0"/><stop offset="0.6085" stop-color="#0040ff" stop-opacity="0"/><stop offset="0.6085" stop-color="#0040ff"/><stop offset="0.6163" stop-color="#00dfff"/><stop offset="0.6377" stop-color="#8cff73"/><stop offset="0.6566" stop-color="#ecff13"/><stop offset="0.6755" stop-color="#ffdf00"/><stop offset="0.6981" stop-color="#ff9900"/><stop offset="0.7358" stop-color="#ff7900"/><stop offset="0.7736" stop-color="#ff7900"/><stop offset="0.8491" stop-color="#ff7900"/><stop offset="0.8868" stop-color="#ff9900"/><stop offset="0.9151" stop-color="#ff7900"/><stop offset="0.9189" stop-color="#ff0000"/><stop offset="0.9245" stop-color="#f40000"/><stop offset="0.9434" stop-color="#d90000"/><stop offset="0.9698" stop-color="#c60000"/><stop offset="0.9840" stop-color="#b80000"/><stop offset="0.9868" stop-color="#800000"/><stop offset="0.9981" stop-color="#800000"/><stop offset="1.0000" stop-color="#800000"/></linearGradient><linearGradient id="c66_1" gradientUnits="userSpaceOnUse" x1="0" y1="135" x2="0" y2="665"><stop offset="0.0000" stop-color="#808080" stop-opacity="0"/><stop offset="0.2509" stop-color="#0060ff" stop-opacity="0"/><stop offset="0.2509" stop-color="#0060ff"/><stop offset="0.2830" stop-color="#00dfff"/><stop offset="0.3208" stop-color="#20ffdf"/><stop offset="0.3586" stop-color="#00ffff"/><stop offset="0.3658" stop-color="#0060ff"/><stop offset="0.3679" stop-color="#0060ff"/><stop offset="0.3679" stop-color="#0060ff" stop-opacity="0"/><stop offset="0.4689" stop-color="#0040ff" stop-opacity="0"/><stop offset="0.4689" stop-color="#0040ff"/><stop offset="0.4767" stop-color="#00bfff"/><stop offset="0.5094" stop-color="#00ffff"/><stop offset="0.5368" stop-color="#00ffff"/><stop offset="0.5430" stop-color="#0080ff"/><stop offset="0.5461" stop-color="#0040ff"/><stop offset="0.5472" stop-color="#0040ff"/><stop offset="0.5472" stop-color="#0040ff" stop-opacity="0"/><stop offset="0.6330" stop-color="#0040ff" stop-opacity="0"/><stop offset="0.6330" stop-color="#0040ff"/><stop offset="0.6377" stop-color="#00bfff"/><stop offset="0.6460" stop-color="#8cff73"/><stop offset="0.6792" stop-color="#ecff13"/><stop offset="0.7075" stop-color="#feff01"/><stop offset="0.7358" stop-color="#ffff00"/><stop offset="0.7736" stop-color="#ff7900"/><stop offset="0.8491" stop-color="#ff7900"/><stop offset="0.8868" stop-color="#ff9900"/><stop offset="0.9151" stop-color="#ff7900"/><stop offset="0.9189" stop-color="#ff0000"/><stop offset="0.9245" stop-color="#f40000"/><stop offset="0.9434" stop-color="#d90000"/><stop offset="0.9698" stop-color="#c60000"/><stop offset="0.9840" stop-color="#b80000"/><stop offset="0.9868" stop-color="#800000"/><stop offset="0.9981" stop-color="#800000"/><stop offset="1.0000" stop-color="#800000"/></linearGradient><linearGradient id="c67_0" gradientUnits="userSpaceOnUse" x1="0" y1="135" x2="0" y2="665"><stop offset="0.0000" stop-color="#808080" stop-opacity="0"/><stop offset="0.2472" stop-color="#0060ff" stop-opacity="0"/><stop offset="0.2472" stop-color="#0060ff"/><stop offset="0.2755" stop-color="#00d2ff"/><stop offset="0.3208" stop-color="#20ffdf"/><stop offset="0.3594" stop-color="#00ffff"/><stop offset="0.3677" stop-color="#0060ff"/><stop offset="0.3698" stop-color="#0060ff"/><stop offset="0.3698" stop-color="#0060ff" stop-opacity="0"/><stop offset="0.4396" stop-color="#0040ff" stop-opacity="0"/><stop offset="0.4396" stop-color="#0040ff"/><stop offset="0.4469" stop-color="#0080ff"/><stop offset="0.4717" stop-color="#00dfff"/><stop offset="0.5094" stop-color="#20ffdf"/><stop offset="0.5377" stop-color="#00ffff"/><stop offset="0.5590" stop-color="#0080ff"/><stop offset="0.5631" stop-color="#0040ff"/><stop offset="0.5642" stop-color="#0040ff"/><stop offset="0.5642" stop-color="#0040ff" stop-opacity="0"/><stop offset="0.6330" stop-color="#0040ff" stop-opacity="0"/><stop offset="0.6330" stop-color="#0040ff"/><stop offset="0.6377" stop-color="#00bfff"/><stop offset="0.6460" stop-color="#8cff73"/><stop offset="0.6698" stop-color="#40ffbf"/><stop offset="0.6830" stop-color="#00bfff"/><stop offset="0.6943" stop-color="#0080ff"/><stop offset="0.7075" stop-color="#00dfff"/><stop offset="0.7264" stop-color="#40ffbf"/><stop offset="0.7358" stop-color="#8cff73"/><stop offset="0.7585" stop-color="#40ffbf"/><stop offset="0.7811" stop-color="#ecff13"/><stop offset="0.8038" stop-color="#ffdf00"/><stop offset="0.8340" stop-color="#ff9f00"/><stop offset="0.8679" stop-color="#ff9900"/><stop offset="0.9057" stop-color="#ff7900"/><stop offset="0.9151" stop-color="#ff7900"/><stop offset="0.9189" stop-color="#ff0000"/><stop offset="0.9245" stop-color="#f40000"/><stop offset="0.9434" stop-color="#d90000"/><stop offset="0.9698" stop-color="#c60000"/><stop offset="0.9840" stop-color="#b80000"/><stop offset="0.9868" stop-color="#800000"/><stop offset="0.9981" stop-color="#800000"/><stop offset="1.0000" stop-color="#800000"/></linearGradient><linearGradient id="c67_1" gradientUnits="userSpaceOnUse" x1="0" y1="135" x2="0" y2="665"><stop offset="0.0000" stop-color="#808080" stop-opacity="0"/><stop offset="0.2472" stop-color="#0060ff" stop-opacity="0"/><stop offset="0.2472" stop-color="#0060ff"/><stop offset="0.2755" stop-color="#00d2ff"/><stop offset="0.3208" stop-color="#20ffdf"/><stop offset="0.3594" stop-color="#00ffff"/><stop offset="0.3677" stop-color="#0060ff"/><stop offset="0.3698" stop-color="#0060ff"/><stop offset="0.3698" stop-color="#0060ff" stop-opacity="0"/><stop offset="0.4594" stop-color="#0040ff" stop-opacity="0"/><stop offset="0.4594" stop-color="#0040ff"/><stop offset="0.4662" stop-color="#009fff"/><stop offset="0.5000" stop-color="#00ffff"/><stop offset="0.5283" stop-color="#00ffff"/><stop offset="0.5485" stop-color="#009fff"/><stop offset="0.5526" stop-color="#0060ff"/><stop offset="0.5547" stop-color="#0060ff"/><stop offset="0.5547" stop-color="#0060ff" stop-opacity="0"/><stop offset="0.6123" stop-color="#0040ff" stop-opacity="0"/><stop offset="0.6123" stop-color="#0040ff"/><stop offset="0.6406" stop-color="#0080ff"/><stop offset="0.6499" stop-color="#0040ff"/><stop offset="0.6509" stop-color="#0040ff"/><stop offset="0.6509" stop-color="#0040ff" stop-opacity="0"/><stop offset="0.6915" stop-color="#0020ff" stop-opacity="0"/><stop offset="0.6915" stop-color="#0020ff"/><stop offset="0.6972" stop-color="#0080ff"/><stop offset="0.7055" stop-color="#00dfff"/><stop offset="0.7358" stop-color="#40ffbf"/><stop offset="0.7585" stop-color="#40ffbf"/><stop offset="0.7811" stop-color="#ecff13"/><stop offset="0.8038" stop-color="#ffdf00"/><stop offset="0.8340" stop-color="#ff9f00"/><stop offset="0.8679" stop-color="#ff9900"/><stop offset="0.9057" stop-color="#ff7900"/><stop offset="0.9151" stop-color="#ff7900"/><stop offset="0.9189" stop-color="#ff0000"/><stop offset="0.9245" stop-color="#f40000"/><stop offset="0.9434" stop-color="#d90000"/><stop offset="0.9698" stop-color="#c60000"/><stop offset="0.9840" stop-color="#b80000"/><stop offset="0.9868" stop-color="#800000"/><stop offset="0.9981" stop-color="#800000"/><stop offset="1.0000" stop-color="#800000"/></linearGradient><linearGradient id="c68_0" gradientUnits="userSpaceOnUse" x1="0" y1="135" x2="0" y2="665"><stop offset="0.0000" stop-color="#808080" stop-opacity="0"/><stop offset="0.2509" stop-color="#0060ff" stop-opacity="0"/><stop offset="0.2509" stop-color="#0060ff"/><stop offset="0.2830" stop-color="#009fff"/><stop offset="0.3208" stop-color="#00bfff"/><stop offset="0.3586" stop-color="#00bfff"/><stop offset="0.3658" stop-color="#0060ff"/><stop offset="0.3679" stop-color="#0060ff"/><stop offset="0.3679" stop-color="#0060ff" stop-opacity="0"/><stop offset="0.4538" stop-color="#0040ff" stop-opacity="0"/><stop offset="0.4538" stop-color="#0040ff"/><stop offset="0.4616" stop-color="#00bfff"/><stop offset="0.4906" stop-color="#00ffff"/><stop offset="0.5189" stop-color="#00ffff"/><stop offset="0.5397" stop-color="#009fff"/><stop offset="0.5439" stop-color="#0060ff"/><stop offset="0.5480" stop-color="#0040ff"/><stop offset="0.5491" stop-color="#0040ff"/><stop offset="0.5491" stop-color="#0040ff" stop-opacity="0"/><stop offset="0.6236" stop-color="#0040ff" stop-opacity="0"/><stop offset="0.6236" stop-color="#0040ff"/><stop offset="0.6483" stop-color="#0060ff"/><stop offset="0.6556" stop-color="#0040ff"/><stop offset="0.6566" stop-color="#0040ff"/><stop offset="0.6566" stop-color="#0040ff" stop-opacity="0"/><stop offset="0.6840" stop-color="#0020ff" stop-opacity="0"/><stop offset="0.6840" stop-color="#0020ff"/><stop offset="0.6897" stop-color="#0080ff"/><stop offset="0.6980" stop-color="#00dfff"/><stop offset="0.7358" stop-color="#40ffbf"/><stop offset="0.7547" stop-color="#ecff13"/><stop offset="0.7774" stop-color="#ffdf00"/><stop offset="0.8038" stop-color="#ff9900"/><stop offset="0.8491" stop-color="#ff7900"/><stop offset="0.9151" stop-color="#ff7900"/><stop offset="0.9189" stop-color="#ff0000"/><stop offset="0.9245" stop-color="#f40000"/><stop offset="0.9434" stop-color="#d90000"/><stop offset="0.9698" stop-color="#c60000"/><stop offset="0.9840" stop-color="#b80000"/><stop offset="0.9868" stop-color="#800000"/><stop offset="0.9981" stop-color="#800000"/><stop offset="1.0000" stop-color="#800000"/></linearGradient><linearGradient id="c68_1" gradientUnits="userSpaceOnUse" x1="0" y1="135" x2="0" y2="665"><stop offset="0.0000" stop-color="#808080" stop-opacity="0"/><stop offset="0.2509" stop-color="#0060ff" stop-opacity="0"/><stop offset="0.2509" stop-color="#0060ff"/><stop offset="0.2830" stop-color="#009fff"/><stop offset="0.3208" stop-color="#00bfff"/><stop offset="0.3586" stop-color="#00bfff"/><stop offset="0.3658" stop-color="#0060ff"/><stop offset="0.3679" stop-color="#0060ff"/><stop offset="0.3679" stop-color="#0060ff" stop-opacity="0"/><stop offset="0.4453" stop-color="#0040ff" stop-opacity="0"/><stop offset="0.4453" stop-color="#0040ff"/><stop offset="0.4515" stop-color="#009fff"/><stop offset="0.4811" stop-color="#00ffff"/><stop offset="0.5094" stop-color="#00ffff"/><stop offset="0.5283" stop-color="#00bfff"/><stop offset="0.5472" stop-color="#009fff"/><stop offset="0.5660" stop-color="#00bfff"/><stop offset="0.5892" stop-color="#0040ff"/><stop offset="0.5933" stop-color="#0040ff"/><stop offset="0.5943" stop-color="#0040ff"/><stop offset="0.5943" stop-color="#0040ff" stop-opacity="0"/><stop offset="0.6764" stop-color="#0020ff" stop-opacity="0"/><stop offset="0.6764" stop-color="#0020ff"/><stop offset="0.6821" stop-color="#0080ff"/><stop offset="0.6904" stop-color="#00dfff"/><stop offset="0.7358" stop-color="#40ffbf"/><stop offset="0.7547" stop-color="#ecff13"/><stop offset="0.7774" stop-color="#ffdf00"/><stop offset="0.8038" stop-color="#ff9900"/><stop offset="0.8491" stop-color="#ff7900"/><stop offset="0.9151" stop-color="#ff7900"/><stop offset="0.9189" stop-color="#ff0000"/><stop offset="0.9245" stop-color="#f40000"/><stop offset="0.9434" stop-color="#d90000"/><stop offset="0.9698" stop-color="#c60000"/><stop offset="0.9840" stop-color="#b80000"/><stop offset="0.9868" stop-color="#800000"/><stop offset="0.9981" stop-color="#800000"/><stop offset="1.0000" stop-color="#800000"/></linearGradient><linearGradient id="c69_0" gradientUnits="userSpaceOnUse" x1="0" y1="135" x2="0" y2="665"><stop offset="0.0000" stop-color="#808080" stop-opacity="0"/><stop offset="0.2547" stop-color="#0060ff" stop-opacity="0"/><stop offset="0.2547" stop-color="#0060ff"/><stop offset="0.2830" stop-color="#009fff"/><stop offset="0.3208" stop-color="#00bfff"/><stop offset="0.3632" stop-color="#00bfff"/><stop offset="0.3715" stop-color="#0060ff"/><stop offset="0.3736" stop-color="#0060ff"/><stop offset="0.3736" stop-color="#0060ff" stop-opacity="0"/><stop offset="0.4538" stop-color="#0040ff" stop-opacity="0"/><stop offset="0.4538" stop-color="#0040ff"/><stop offset="0.4636" stop-color="#0080ff"/><stop offset="0.4906" stop-color="#0060ff"/><stop offset="0.4962" stop-color="#0040ff"/><stop offset="0.5094" stop-color="#0080ff"/><stop offset="0.5283" stop-color="#00bfff"/><stop offset="0.5472" stop-color="#00bfff"/><stop offset="0.5660" stop-color="#00dfff"/><stop offset="0.5849" stop-color="#0080ff"/><stop offset="0.6076" stop-color="#0060ff"/><stop offset="0.6149" stop-color="#0040ff"/><stop offset="0.6170" stop-color="#0040ff"/><stop offset="0.6170" stop-color="#0040ff" stop-opacity="0"/><stop offset="0.6689" stop-color="#0020ff" stop-opacity="0"/><stop offset="0.6689" stop-color="#0020ff"/><stop offset="0.6746" stop-color="#0080ff"/><stop offset="0.6981" stop-color="#00dfff"/><stop offset="0.7358" stop-color="#40ffbf"/><stop offset="0.7472" stop-color="#ecff13"/><stop offset="0.7736" stop-color="#ffdf00"/><stop offset="0.8000" stop-color="#ff9900"/><stop offset="0.8491" stop-color="#ff7900"/><stop offset="0.9151" stop-color="#ff5900"/><stop offset="0.9189" stop-color="#ff0000"/><stop offset="0.9245" stop-color="#f40000"/><stop offset="0.9434" stop-color="#ec0000"/><stop offset="0.9698" stop-color="#d90000"/><stop offset="0.9840" stop-color="#b80000"/><stop offset="0.9868" stop-color="#800000"/><stop offset="0.9981" stop-color="#800000"/><stop offset="1.0000" stop-color="#800000"/></linearGradient><linearGradient id="c69_1" gradientUnits="userSpaceOnUse" x1="0" y1="135" x2="0" y2="665"><stop offset="0.0000" stop-color="#808080" stop-opacity="0"/><stop offset="0.2547" stop-color="#0060ff" stop-opacity="0"/><stop offset="0.2547" stop-color="#0060ff"/><stop offset="0.2830" stop-color="#009fff"/><stop offset="0.3208" stop-color="#00bfff"/><stop offset="0.3632" stop-color="#00bfff"/><stop offset="0.3715" stop-color="#0060ff"/><stop offset="0.3736" stop-color="#0060ff"/><stop offset="0.3736" stop-color="#0060ff" stop-opacity="0"/><stop offset="0.4783" stop-color="#0040ff" stop-opacity="0"/><stop offset="0.4783" stop-color="#0040ff"/><stop offset="0.4850" stop-color="#0040ff"/><stop offset="0.4923" stop-color="#0060ff"/><stop offset="0.5189" stop-color="#00bfff"/><stop offset="0.5472" stop-color="#00dfff"/><stop offset="0.5849" stop-color="#00bfff"/><stop offset="0.6038" stop-color="#009fff"/><stop offset="0.6286" stop-color="#0080ff"/><stop offset="0.6338" stop-color="#0040ff"/><stop offset="0.6358" stop-color="#0040ff"/><stop offset="0.6358" stop-color="#0040ff" stop-opacity="0"/><stop offset="0.6651" stop-color="#0040ff" stop-opacity="0"/><stop offset="0.6651" stop-color="#0040ff"/><stop offset="0.6708" stop-color="#009fff"/><stop offset="0.6981" stop-color="#00ffff"/><stop offset="0.7358" stop-color="#8cff73"/><stop offset="0.7472" stop-color="#ecff13"/><stop offset="0.7736" stop-color="#ffdf00"/><stop offset="0.8000" stop-color="#ff9900"/><stop offset="0.8491" stop-color="#ff7900"/><stop offset="0.9151" stop-color="#ff5900"/><stop offset="0.9189" stop-color="#ff0000"/><stop offset="0.9245" stop-color="#f40000"/><stop offset="0.9434" stop-color="#ec0000"/><stop offset="0.9698" stop-color="#d90000"/><stop offset="0.9840" stop-color="#b80000"/><stop offset="0.9868" stop-color="#800000"/><stop offset="0.9981" stop-color="#800000"/><stop offset="1.0000" stop-color="#800000"/></linearGradient><linearGradient id="c70_0" gradientUnits="userSpaceOnUse" x1="0" y1="135" x2="0" y2="665"><stop offset="0.0000" stop-color="#808080" stop-opacity="0"/><stop offset="0.2604" stop-color="#0060ff" stop-opacity="0"/><stop offset="0.2604" stop-color="#0060ff"/><stop offset="0.2906" stop-color="#00bfff"/><stop offset="0.3208" stop-color="#00bfff"/><stop offset="0.3670" stop-color="#00dfff"/><stop offset="0.3753" stop-color="#0060ff"/><stop offset="0.3774" stop-color="#0060ff"/><stop offset="0.3774" stop-color="#0060ff" stop-opacity="0"/><stop offset="0.5047" stop-color="#0040ff" stop-opacity="0"/><stop offset="0.5047" stop-color="#0040ff"/><stop offset="0.5125" stop-color="#0060ff"/><stop offset="0.5377" stop-color="#00bfff"/><stop offset="0.5660" stop-color="#00ffff"/><stop offset="0.5943" stop-color="#00ffff"/><stop offset="0.6226" stop-color="#00dfff"/><stop offset="0.6453" stop-color="#0080ff"/><stop offset="0.6679" stop-color="#00ffff"/><stop offset="0.6981" stop-color="#8cff73"/><stop offset="0.7358" stop-color="#feff01"/><stop offset="0.7660" stop-color="#ffdf00"/><stop offset="0.7962" stop-color="#ff9900"/><stop offset="0.8491" stop-color="#ff7900"/><stop offset="0.9151" stop-color="#ff5900"/><stop offset="0.9189" stop-color="#ff0000"/><stop offset="0.9245" stop-color="#f40000"/><stop offset="0.9434" stop-color="#ff2900"/><stop offset="0.9698" stop-color="#ff2900"/><stop offset="0.9868" stop-color="#ec0000"/><stop offset="0.9925" stop-color="#800000"/><stop offset="0.9981" stop-color="#800000"/><stop offset="1.0000" stop-color="#800000"/></linearGradient><linearGradient id="c70_1" gradientUnits="userSpaceOnUse" x1="0" y1="135" x2="0" y2="665"><stop offset="0.0000" stop-color="#808080" stop-opacity="0"/><stop offset="0.2604" stop-color="#0060ff" stop-opacity="0"/><stop offset="0.2604" stop-color="#0060ff"/><stop offset="0.2906" stop-color="#00bfff"/><stop offset="0.3208" stop-color="#00bfff"/><stop offset="0.3670" stop-color="#00dfff"/><stop offset="0.3753" stop-color="#0060ff"/><stop offset="0.3774" stop-color="#0060ff"/><stop offset="0.3774" stop-color="#0060ff" stop-opacity="0"/><stop offset="0.5104" stop-color="#0040ff" stop-opacity="0"/><stop offset="0.5104" stop-color="#0040ff"/><stop offset="0.5161" stop-color="#00bfff"/><stop offset="0.5377" stop-color="#20ffdf"/><stop offset="0.5660" stop-color="#40ffbf"/><stop offset="0.5943" stop-color="#20ffdf"/><stop offset="0.6226" stop-color="#00ffff"/><stop offset="0.6453" stop-color="#0080ff"/><stop offset="0.6679" stop-color="#00ffff"/><stop offset="0.6981" stop-color="#8cff73"/><stop offset="0.7358" stop-color="#feff01"/><stop offset="0.7660" stop-color="#ffdf00"/><stop offset="0.7962" stop-color="#ff9900"/><stop offset="0.8491" stop-color="#ff7900"/><stop offset="0.9151" stop-color="#ff5900"/><stop offset="0.9189" stop-color="#ff0000"/><stop offset="0.9245" stop-color="#f40000"/><stop offset="0.9434" stop-color="#ff2900"/><stop offset="0.9698" stop-color="#ff2900"/><stop offset="0.9868" stop-color="#ec0000"/><stop offset="0.9925" stop-color="#800000"/><stop offset="0.9981" stop-color="#800000"/><stop offset="1.0000" stop-color="#800000"/></linearGradient><linearGradient id="c71_0" gradientUnits="userSpaceOnUse" x1="0" y1="135" x2="0" y2="665"><stop offset="0.0000" stop-color="#808080" stop-opacity="0"/><stop offset="0.2604" stop-color="#0060ff" stop-opacity="0"/><stop offset="0.2604" stop-color="#0060ff"/><stop offset="0.2906" stop-color="#00f2ff"/><stop offset="0.3208" stop-color="#00dfff"/><stop offset="0.3670" stop-color="#00ffff"/><stop offset="0.3763" stop-color="#0060ff"/><stop offset="0.3774" stop-color="#0060ff"/><stop offset="0.3774" stop-color="#0060ff" stop-opacity="0"/><stop offset="0.4896" stop-color="#0040ff" stop-opacity="0"/><stop offset="0.4896" stop-color="#0040ff"/><stop offset="0.4953" stop-color="#00bfff"/><stop offset="0.5189" stop-color="#20ffdf"/><stop offset="0.5472" stop-color="#8cff73"/><stop offset="0.5755" stop-color="#00ffff"/><stop offset="0.5943" stop-color="#0080ff"/><stop offset="0.6075" stop-color="#00bfff"/><stop offset="0.6226" stop-color="#20ffdf"/><stop offset="0.6453" stop-color="#00ffff"/><stop offset="0.6717" stop-color="#acff53"/><stop offset="0.6981" stop-color="#ffff00"/><stop offset="0.7358" stop-color="#ffff00"/><stop offset="0.7660" stop-color="#ffbf00"/><stop offset="0.7925" stop-color="#ff9900"/><stop offset="0.8491" stop-color="#ff7900"/><stop offset="0.9151" stop-color="#ff7900"/><stop offset="0.9189" stop-color="#ff0000"/><stop offset="0.9245" stop-color="#f40000"/><stop offset="0.9434" stop-color="#ff2900"/><stop offset="0.9698" stop-color="#ff0000"/><stop offset="0.9849" stop-color="#d90000"/><stop offset="0.9962" stop-color="#ff0000"/><stop offset="1.0000" stop-color="#ff0000"/></linearGradient><linearGradient id="c71_1" gradientUnits="userSpaceOnUse" x1="0" y1="135" x2="0" y2="665"><stop offset="0.0000" stop-color="#808080" stop-opacity="0"/><stop offset="0.2604" stop-color="#0060ff" stop-opacity="0"/><stop offset="0.2604" stop-color="#0060ff"/><stop offset="0.2906" stop-color="#00f2ff"/><stop offset="0.3208" stop-color="#00dfff"/><stop offset="0.3670" stop-color="#00ffff"/><stop offset="0.3763" stop-color="#0060ff"/><stop offset="0.3774" stop-color="#0060ff"/><stop offset="0.3774" stop-color="#0060ff" stop-opacity="0"/><stop offset="0.4811" stop-color="#0040ff" stop-opacity="0"/><stop offset="0.4811" stop-color="#0040ff"/><stop offset="0.4874" stop-color="#00dfff"/><stop offset="0.5094" stop-color="#20ffdf"/><stop offset="0.5283" stop-color="#acff53"/><stop offset="0.5472" stop-color="#feff01"/><stop offset="0.5755" stop-color="#ffdf00"/><stop offset="0.6226" stop-color="#ffbf00"/><stop offset="0.6453" stop-color="#00ffff"/><stop offset="0.6717" stop-color="#acff53"/><stop offset="0.6981" stop-color="#ffff00"/><stop offset="0.7358" stop-color="#ffff00"/><stop offset="0.7660" stop-color="#ffbf00"/><stop offset="0.7925" stop-color="#ff9900"/><stop offset="0.8491" stop-color="#ff7900"/><stop offset="0.9151" stop-color="#ff7900"/><stop offset="0.9189" stop-color="#ff0000"/><stop offset="0.9245" stop-color="#f40000"/><stop offset="0.9434" stop-color="#ff2900"/><stop offset="0.9698" stop-color="#ff0000"/><stop offset="0.9849" stop-color="#d90000"/><stop offset="0.9962" stop-color="#ff0000"/><stop offset="1.0000" stop-color="#ff0000"/></linearGradient><linearGradient id="c72_0" gradientUnits="userSpaceOnUse" x1="0" y1="135" x2="0" y2="665"><stop offset="0.0000" stop-color="#808080" stop-opacity="0"/><stop offset="0.2642" stop-color="#0060ff" stop-opacity="0"/><stop offset="0.2642" stop-color="#0060ff"/><stop offset="0.2943" stop-color="#00bfff"/><stop offset="0.3208" stop-color="#00ffff"/><stop offset="0.3509" stop-color="#00ffff"/><stop offset="0.3787" stop-color="#0080ff"/><stop offset="0.3839" stop-color="#0060ff"/><stop offset="0.3849" stop-color="#0060ff"/><stop offset="0.3849" stop-color="#0060ff" stop-opacity="0"/><stop offset="0.4792" stop-color="#0040ff" stop-opacity="0"/><stop offset="0.4792" stop-color="#0040ff"/><stop offset="0.4855" stop-color="#00dfff"/><stop offset="0.5094" stop-color="#20ffdf"/><stop offset="0.5283" stop-color="#8cff73"/><stop offset="0.5566" stop-color="#ccff33"/><stop offset="0.5849" stop-color="#ecff13"/><stop offset="0.6226" stop-color="#feff01"/><stop offset="0.6415" stop-color="#ffbf00"/><stop offset="0.6792" stop-color="#ff9f00"/><stop offset="0.7170" stop-color="#ffdf00"/><stop offset="0.7472" stop-color="#ffff00"/><stop offset="0.7811" stop-color="#ff9f00"/><stop offset="0.8189" stop-color="#ff7900"/><stop offset="0.8679" stop-color="#ff7900"/><stop offset="0.9245" stop-color="#ff5900"/><stop offset="0.9434" stop-color="#ec0000"/><stop offset="0.9698" stop-color="#d90000"/><stop offset="0.9840" stop-color="#b80000"/><stop offset="0.9868" stop-color="#800000"/><stop offset="0.9981" stop-color="#800000"/><stop offset="1.0000" stop-color="#800000"/></linearGradient><linearGradient id="c72_1" gradientUnits="userSpaceOnUse" x1="0" y1="135" x2="0" y2="665"><stop offset="0.0000" stop-color="#808080" stop-opacity="0"/><stop offset="0.2642" stop-color="#0060ff" stop-opacity="0"/><stop offset="0.2642" stop-color="#0060ff"/><stop offset="0.2943" stop-color="#00bfff"/><stop offset="0.3208" stop-color="#00ffff"/><stop offset="0.3509" stop-color="#00ffff"/><stop offset="0.3787" stop-color="#0080ff"/><stop offset="0.3839" stop-color="#0060ff"/><stop offset="0.3849" stop-color="#0060ff"/><stop offset="0.3849" stop-color="#0060ff" stop-opacity="0"/><stop offset="0.4849" stop-color="#0040ff" stop-opacity="0"/><stop offset="0.4849" stop-color="#0040ff"/><stop offset="0.4911" stop-color="#00bfff"/><stop offset="0.4984" stop-color="#0080ff"/><stop offset="0.5208" stop-color="#00ffff"/><stop offset="0.5377" stop-color="#8cff73"/><stop offset="0.5660" stop-color="#ecff13"/><stop offset="0.5943" stop-color="#ffdf00"/><stop offset="0.6226" stop-color="#ffbf00"/><stop offset="0.6415" stop-color="#ffbf00"/><stop offset="0.6792" stop-color="#ff9f00"/><stop offset="0.7170" stop-color="#ffdf00"/><stop offset="0.7472" stop-color="#ffff00"/><stop offset="0.7811" stop-color="#ff9f00"/><stop offset="0.8189" stop-color="#ff7900"/><stop offset="0.8679" stop-color="#ff7900"/><stop offset="0.9245" stop-color="#ff5900"/><stop offset="0.9434" stop-color="#ec0000"/><stop offset="0.9698" stop-color="#d90000"/><stop offset="0.9840" stop-color="#b80000"/><stop offset="0.9868" stop-color="#800000"/><stop offset="0.9981" stop-color="#800000"/><stop offset="1.0000" stop-color="#800000"/></linearGradient><linearGradient id="c73_0" gradientUnits="userSpaceOnUse" x1="0" y1="135" x2="0" y2="665"><stop offset="0.0000" stop-color="#808080" stop-opacity="0"/><stop offset="0.2717" stop-color="#0060ff" stop-opacity="0"/><stop offset="0.2717" stop-color="#0060ff"/><stop offset="0.3019" stop-color="#00bfff"/><stop offset="0.3208" stop-color="#00ffff"/><stop offset="0.3585" stop-color="#20ffdf"/><stop offset="0.3900" stop-color="#009fff"/><stop offset="0.3942" stop-color="#0060ff"/><stop offset="0.3962" stop-color="#0060ff"/><stop offset="0.3962" stop-color="#0060ff" stop-opacity="0"/><stop offset="0.5085" stop-color="#0040ff" stop-opacity="0"/><stop offset="0.5085" stop-color="#0040ff"/><stop offset="0.5142" stop-color="#00dfff"/><stop offset="0.5377" stop-color="#40ffbf"/><stop offset="0.5660" stop-color="#8cff73"/><stop offset="0.5943" stop-color="#40ffbf"/><stop offset="0.6226" stop-color="#40ffbf"/><stop offset="0.6528" stop-color="#ffbf00"/><stop offset="0.6830" stop-color="#ffff00"/><stop offset="0.7094" stop-color="#acff53"/><stop offset="0.7321" stop-color="#8cff73"/><stop offset="0.7585" stop-color="#ffff00"/><stop offset="0.7849" stop-color="#ff9f00"/><stop offset="0.8189" stop-color="#ff9900"/><stop offset="0.8679" stop-color="#ff7900"/><stop offset="0.9245" stop-color="#ff5900"/><stop offset="0.9434" stop-color="#ec0000"/><stop offset="0.9698" stop-color="#d90000"/><stop offset="0.9840" stop-color="#b80000"/><stop offset="0.9868" stop-color="#800000"/><stop offset="0.9981" stop-color="#800000"/><stop offset="1.0000" stop-color="#800000"/></linearGradient><linearGradient id="c73_1" gradientUnits="userSpaceOnUse" x1="0" y1="135" x2="0" y2="665"><stop offset="0.0000" stop-color="#808080" stop-opacity="0"/><stop offset="0.2717" stop-color="#0060ff" stop-opacity="0"/><stop offset="0.2717" stop-color="#0060ff"/><stop offset="0.3019" stop-color="#00bfff"/><stop offset="0.3208" stop-color="#00ffff"/><stop offset="0.3585" stop-color="#20ffdf"/><stop offset="0.3900" stop-color="#009fff"/><stop offset="0.3942" stop-color="#0060ff"/><stop offset="0.3962" stop-color="#0060ff"/><stop offset="0.3962" stop-color="#0060ff" stop-opacity="0"/><stop offset="0.4717" stop-color="#0040ff" stop-opacity="0"/><stop offset="0.4717" stop-color="#0040ff"/><stop offset="0.4779" stop-color="#0040ff"/><stop offset="0.5000" stop-color="#0060ff"/><stop offset="0.5132" stop-color="#00bfff"/><stop offset="0.5283" stop-color="#40ffbf"/><stop offset="0.5472" stop-color="#ccff33"/><stop offset="0.5660" stop-color="#feff01"/><stop offset="0.6038" stop-color="#ecff13"/><stop offset="0.6226" stop-color="#ecff13"/><stop offset="0.6528" stop-color="#ffbf00"/><stop offset="0.6830" stop-color="#ffff00"/><stop offset="0.7094" stop-color="#acff53"/><stop offset="0.7321" stop-color="#8cff73"/><stop offset="0.7585" stop-color="#ffff00"/><stop offset="0.7849" stop-color="#ff9f00"/><stop offset="0.8189" stop-color="#ff9900"/><stop offset="0.8679" stop-color="#ff7900"/><stop offset="0.9245" stop-color="#ff5900"/><stop offset="0.9434" stop-color="#ec0000"/><stop offset="0.9698" stop-color="#d90000"/><stop offset="0.9840" stop-color="#b80000"/><stop offset="0.9868" stop-color="#800000"/><stop offset="0.9981" stop-color="#800000"/><stop offset="1.0000" stop-color="#800000"/></linearGradient><linearGradient id="c74_0" gradientUnits="userSpaceOnUse" x1="0" y1="135" x2="0" y2="665"><stop offset="0.0000" stop-color="#808080" stop-opacity="0"/><stop offset="0.2755" stop-color="#0060ff" stop-opacity="0"/><stop offset="0.2755" stop-color="#0060ff"/><stop offset="0.3057" stop-color="#00bfff"/><stop offset="0.3208" stop-color="#00ffff"/><stop offset="0.3585" stop-color="#20ffdf"/><stop offset="0.3946" stop-color="#009fff"/><stop offset="0.4008" stop-color="#0060ff"/><stop offset="0.4019" stop-color="#0060ff"/><stop offset="0.4019" stop-color="#0060ff" stop-opacity="0"/><stop offset="0.4717" stop-color="#0080ff" stop-opacity="0"/><stop offset="0.4717" stop-color="#0080ff"/><stop offset="0.4800" stop-color="#0080ff"/><stop offset="0.5000" stop-color="#009fff"/><stop offset="0.5189" stop-color="#40ffbf"/><stop offset="0.5340" stop-color="#feff01"/><stop offset="0.5472" stop-color="#ffbf00"/><stop offset="0.5849" stop-color="#ff9f00"/><stop offset="0.6226" stop-color="#ff9900"/><stop offset="0.6604" stop-color="#ffdf00"/><stop offset="0.6981" stop-color="#ffbf00"/><stop offset="0.7283" stop-color="#ffdf00"/><stop offset="0.7547" stop-color="#acff53"/><stop offset="0.7736" stop-color="#8cff73"/><stop offset="0.7962" stop-color="#ffff00"/><stop offset="0.8189" stop-color="#ffbf00"/><stop offset="0.8491" stop-color="#ff9900"/><stop offset="0.8868" stop-color="#ff7900"/><stop offset="0.9245" stop-color="#ff5900"/><stop offset="0.9434" stop-color="#ec0000"/><stop offset="0.9698" stop-color="#d90000"/><stop offset="0.9840" stop-color="#b80000"/><stop offset="0.9868" stop-color="#800000"/><stop offset="0.9981" stop-color="#800000"/><stop offset="1.0000" stop-color="#800000"/></linearGradient><linearGradient id="c74_1" gradientUnits="userSpaceOnUse" x1="0" y1="135" x2="0" y2="665"><stop offset="0.0000" stop-color="#808080" stop-opacity="0"/><stop offset="0.2755" stop-color="#0060ff" stop-opacity="0"/><stop offset="0.2755" stop-color="#0060ff"/><stop offset="0.3057" stop-color="#00bfff"/><stop offset="0.3208" stop-color="#00ffff"/><stop offset="0.3585" stop-color="#20ffdf"/><stop offset="0.3946" stop-color="#009fff"/><stop offset="0.4008" stop-color="#0060ff"/><stop offset="0.4019" stop-color="#0060ff"/><stop offset="0.4019" stop-color="#0060ff" stop-opacity="0"/><stop offset="0.4717" stop-color="#009fff" stop-opacity="0"/><stop offset="0.4717" stop-color="#009fff"/><stop offset="0.4800" stop-color="#0080ff"/><stop offset="0.5000" stop-color="#00bfff"/><stop offset="0.5132" stop-color="#40ffbf"/><stop offset="0.5245" stop-color="#feff01"/><stop offset="0.5340" stop-color="#ffbf00"/><stop offset="0.5660" stop-color="#ffbf00"/><stop offset="0.5943" stop-color="#ffff00"/><stop offset="0.6226" stop-color="#ffff00"/><stop offset="0.6604" stop-color="#ffdf00"/><stop offset="0.6981" stop-color="#ffbf00"/><stop offset="0.7283" stop-color="#ffdf00"/><stop offset="0.7547" stop-color="#acff53"/><stop offset="0.7736" stop-color="#8cff73"/><stop offset="0.7962" stop-color="#ffff00"/><stop offset="0.8189" stop-color="#ffbf00"/><stop offset="0.8491" stop-color="#ff9900"/><stop offset="0.8868" stop-color="#ff7900"/><stop offset="0.9245" stop-color="#ff5900"/><stop offset="0.9434" stop-color="#ec0000"/><stop offset="0.9698" stop-color="#d90000"/><stop offset="0.9840" stop-color="#b80000"/><stop offset="0.9868" stop-color="#800000"/><stop offset="0.9981" stop-color="#800000"/><stop offset="1.0000" stop-color="#800000"/></linearGradient><linearGradient id="c75_0" gradientUnits="userSpaceOnUse" x1="0" y1="135" x2="0" y2="665"><stop offset="0.0000" stop-color="#808080" stop-opacity="0"/><stop offset="0.2868" stop-color="#0053ff" stop-opacity="0"/><stop offset="0.2868" stop-color="#0053ff"/><stop offset="0.3132" stop-color="#009fff"/><stop offset="0.3208" stop-color="#00dfff"/><stop offset="0.3585" stop-color="#00ffff"/><stop offset="0.3955" stop-color="#009fff"/><stop offset="0.4027" stop-color="#0060ff"/><stop offset="0.4038" stop-color="#0060ff"/><stop offset="0.4038" stop-color="#0060ff" stop-opacity="0"/><stop offset="0.4264" stop-color="#0080ff" stop-opacity="0"/><stop offset="0.4264" stop-color="#0080ff"/><stop offset="0.4528" stop-color="#00dfff"/><stop offset="0.4717" stop-color="#00bfff"/><stop offset="0.4868" stop-color="#0080ff"/><stop offset="0.5000" stop-color="#009fff"/><stop offset="0.5189" stop-color="#00ffff"/><stop offset="0.5377" stop-color="#40ffbf"/><stop offset="0.5566" stop-color="#00ffff"/><stop offset="0.5698" stop-color="#0080ff"/><stop offset="0.5849" stop-color="#0060ff"/><stop offset="0.6038" stop-color="#009fff"/><stop offset="0.6226" stop-color="#00ffff"/><stop offset="0.6604" stop-color="#feff01"/><stop offset="0.6981" stop-color="#ffff00"/><stop offset="0.7358" stop-color="#ffbf00"/><stop offset="0.7660" stop-color="#ffdf00"/><stop offset="0.7887" stop-color="#acff53"/><stop offset="0.8038" stop-color="#8cff73"/><stop offset="0.8226" stop-color="#ffff00"/><stop offset="0.8491" stop-color="#ffdf00"/><stop offset="0.8792" stop-color="#ff9f00"/><stop offset="0.9094" stop-color="#ff7900"/><stop offset="0.9245" stop-color="#ff7900"/><stop offset="0.9264" stop-color="#ff0000"/><stop offset="0.9434" stop-color="#ff0000"/><stop offset="0.9698" stop-color="#d90000"/><stop offset="0.9858" stop-color="#b80000"/><stop offset="0.9887" stop-color="#800000"/><stop offset="0.9981" stop-color="#800000"/><stop offset="1.0000" stop-color="#800000"/></linearGradient><linearGradient id="c75_1" gradientUnits="userSpaceOnUse" x1="0" y1="135" x2="0" y2="665"><stop offset="0.0000" stop-color="#808080" stop-opacity="0"/><stop offset="0.2868" stop-color="#0053ff" stop-opacity="0"/><stop offset="0.2868" stop-color="#0053ff"/><stop offset="0.3132" stop-color="#009fff"/><stop offset="0.3208" stop-color="#00dfff"/><stop offset="0.3585" stop-color="#00ffff"/><stop offset="0.3955" stop-color="#009fff"/><stop offset="0.4027" stop-color="#0060ff"/><stop offset="0.4038" stop-color="#0060ff"/><stop offset="0.4038" stop-color="#0060ff" stop-opacity="0"/><stop offset="0.4264" stop-color="#0080ff" stop-opacity="0"/><stop offset="0.4264" stop-color="#0080ff"/><stop offset="0.4528" stop-color="#00dfff"/><stop offset="0.4717" stop-color="#00dfff"/><stop offset="0.4970" stop-color="#00bfff"/><stop offset="0.5042" stop-color="#0080ff"/><stop offset="0.5084" stop-color="#0040ff"/><stop offset="0.5094" stop-color="#0040ff"/><stop offset="0.5094" stop-color="#0040ff" stop-opacity="0"/><stop offset="0.5519" stop-color="#0040ff" stop-opacity="0"/><stop offset="0.5519" stop-color="#0040ff"/><stop offset="0.5597" stop-color="#0060ff"/><stop offset="0.5849" stop-color="#0060ff"/><stop offset="0.6038" stop-color="#009fff"/><stop offset="0.6226" stop-color="#00dfff"/><stop offset="0.6604" stop-color="#feff01"/><stop offset="0.6981" stop-color="#ffff00"/><stop offset="0.7358" stop-color="#ffbf00"/><stop offset="0.7660" stop-color="#ffdf00"/><stop offset="0.7887" stop-color="#acff53"/><stop offset="0.8038" stop-color="#8cff73"/><stop offset="0.8226" stop-color="#ffff00"/><stop offset="0.8491" stop-color="#ffdf00"/><stop offset="0.8792" stop-color="#ff9f00"/><stop offset="0.9094" stop-color="#ff7900"/><stop offset="0.9245" stop-color="#ff7900"/><stop offset="0.9264" stop-color="#ff0000"/><stop offset="0.9434" stop-color="#ff0000"/><stop offset="0.9698" stop-color="#d90000"/><stop offset="0.9858" stop-color="#b80000"/><stop offset="0.9887" stop-color="#800000"/><stop offset="0.9981" stop-color="#800000"/><stop offset="1.0000" stop-color="#800000"/></linearGradient><linearGradient id="c76_0" gradientUnits="userSpaceOnUse" x1="0" y1="135" x2="0" y2="665"><stop offset="0.0000" stop-color="#808080" stop-opacity="0"/><stop offset="0.2906" stop-color="#0053ff" stop-opacity="0"/><stop offset="0.2906" stop-color="#0053ff"/><stop offset="0.3208" stop-color="#00dfff"/><stop offset="0.3585" stop-color="#00ffff"/><stop offset="0.3900" stop-color="#009fff"/><stop offset="0.3952" stop-color="#0060ff"/><stop offset="0.3962" stop-color="#0060ff"/><stop offset="0.3962" stop-color="#0060ff" stop-opacity="0"/><stop offset="0.4528" stop-color="#0080ff" stop-opacity="0"/><stop offset="0.4528" stop-color="#0080ff"/><stop offset="0.4632" stop-color="#00ffff"/><stop offset="0.4924" stop-color="#00bfff"/><stop offset="0.4986" stop-color="#0080ff"/><stop offset="0.5027" stop-color="#0040ff"/><stop offset="0.5038" stop-color="#0040ff"/><stop offset="0.5038" stop-color="#0040ff" stop-opacity="0"/><stop offset="0.5349" stop-color="#0040ff" stop-opacity="0"/><stop offset="0.5349" stop-color="#0040ff"/><stop offset="0.5437" stop-color="#0080ff"/><stop offset="0.5755" stop-color="#0080ff"/><stop offset="0.6038" stop-color="#009fff"/><stop offset="0.6226" stop-color="#00bfff"/><stop offset="0.6604" stop-color="#ffff00"/><stop offset="0.6981" stop-color="#ffff00"/><stop offset="0.7283" stop-color="#ecff13"/><stop offset="0.7547" stop-color="#ffff00"/><stop offset="0.7811" stop-color="#ff9f00"/><stop offset="0.8113" stop-color="#ffbf00"/><stop offset="0.8340" stop-color="#ecff13"/><stop offset="0.8528" stop-color="#8cff73"/><stop offset="0.8792" stop-color="#acff53"/><stop offset="0.9019" stop-color="#ffff00"/><stop offset="0.9245" stop-color="#ffbf00"/><stop offset="0.9283" stop-color="#ff2900"/><stop offset="0.9472" stop-color="#ff0000"/><stop offset="0.9698" stop-color="#d90000"/><stop offset="0.9858" stop-color="#b80000"/><stop offset="0.9887" stop-color="#800000"/><stop offset="0.9981" stop-color="#800000"/><stop offset="1.0000" stop-color="#800000"/></linearGradient><linearGradient id="c76_1" gradientUnits="userSpaceOnUse" x1="0" y1="135" x2="0" y2="665"><stop offset="0.0000" stop-color="#808080" stop-opacity="0"/><stop offset="0.2906" stop-color="#0053ff" stop-opacity="0"/><stop offset="0.2906" stop-color="#0053ff"/><stop offset="0.3208" stop-color="#00dfff"/><stop offset="0.3585" stop-color="#00ffff"/><stop offset="0.3900" stop-color="#009fff"/><stop offset="0.3952" stop-color="#0060ff"/><stop offset="0.3962" stop-color="#0060ff"/><stop offset="0.3962" stop-color="#0060ff" stop-opacity="0"/><stop offset="0.4528" stop-color="#0080ff" stop-opacity="0"/><stop offset="0.4528" stop-color="#0080ff"/><stop offset="0.4768" stop-color="#00bfff"/><stop offset="0.4809" stop-color="#0060ff"/><stop offset="0.4830" stop-color="#0060ff"/><stop offset="0.4830" stop-color="#0060ff" stop-opacity="0"/><stop offset="0.5274" stop-color="#0040ff" stop-opacity="0"/><stop offset="0.5274" stop-color="#0040ff"/><stop offset="0.5362" stop-color="#0080ff"/><stop offset="0.5660" stop-color="#0080ff"/><stop offset="0.5849" stop-color="#0060ff"/><stop offset="0.6038" stop-color="#0060ff"/><stop offset="0.6226" stop-color="#0080ff"/><stop offset="0.6604" stop-color="#ffff00"/><stop offset="0.6981" stop-color="#ffff00"/><stop offset="0.7283" stop-color="#ecff13"/><stop offset="0.7547" stop-color="#ffff00"/><stop offset="0.7811" stop-color="#ff9f00"/><stop offset="0.8113" stop-color="#ffbf00"/><stop offset="0.8340" stop-color="#ecff13"/><stop offset="0.8528" stop-color="#8cff73"/><stop offset="0.8792" stop-color="#acff53"/><stop offset="0.9019" stop-color="#ffff00"/><stop offset="0.9245" stop-color="#ffbf00"/><stop offset="0.9283" stop-color="#ff2900"/><stop offset="0.9472" stop-color="#ff0000"/><stop offset="0.9698" stop-color="#d90000"/><stop offset="0.9858" stop-color="#b80000"/><stop offset="0.9887" stop-color="#800000"/><stop offset="0.9981" stop-color="#800000"/><stop offset="1.0000" stop-color="#800000"/></linearGradient><linearGradient id="c77_0" gradientUnits="userSpaceOnUse" x1="0" y1="135" x2="0" y2="665"><stop offset="0.0000" stop-color="#808080" stop-opacity="0"/><stop offset="0.2887" stop-color="#0053ff" stop-opacity="0"/><stop offset="0.2887" stop-color="#0053ff"/><stop offset="0.3208" stop-color="#00dfff"/><stop offset="0.3585" stop-color="#00ffff"/><stop offset="0.3941" stop-color="#009fff"/><stop offset="0.3993" stop-color="#0060ff"/><stop offset="0.4008" stop-color="#0060ff"/><stop offset="0.4008" stop-color="#0060ff" stop-opacity="0"/><stop offset="0.6226" stop-color="#0080ff" stop-opacity="0"/><stop offset="0.6226" stop-color="#0080ff"/><stop offset="0.6351" stop-color="#00ffff"/><stop offset="0.6679" stop-color="#ecff13"/><stop offset="0.6981" stop-color="#ffff00"/><stop offset="0.7358" stop-color="#ffdf00"/><stop offset="0.7660" stop-color="#ffff00"/><stop offset="0.7962" stop-color="#ffff00"/><stop offset="0.8264" stop-color="#ffff00"/><stop offset="0.8491" stop-color="#acff53"/><stop offset="0.8717" stop-color="#20ffdf"/><stop offset="0.9019" stop-color="#20ffdf"/><stop offset="0.9245" stop-color="#40ffbf"/><stop offset="0.9321" stop-color="#ff7900"/><stop offset="0.9472" stop-color="#ff2900"/><stop offset="0.9698" stop-color="#ec0000"/><stop offset="0.9858" stop-color="#b80000"/><stop offset="0.9887" stop-color="#800000"/><stop offset="0.9981" stop-color="#800000"/><stop offset="1.0000" stop-color="#800000"/></linearGradient><linearGradient id="c77_1" gradientUnits="userSpaceOnUse" x1="0" y1="135" x2="0" y2="665"><stop offset="0.0000" stop-color="#808080" stop-opacity="0"/><stop offset="0.2887" stop-color="#0053ff" stop-opacity="0"/><stop offset="0.2887" stop-color="#0053ff"/><stop offset="0.3208" stop-color="#00dfff"/><stop offset="0.3585" stop-color="#00ffff"/><stop offset="0.3941" stop-color="#009fff"/><stop offset="0.3993" stop-color="#0060ff"/><stop offset="0.4008" stop-color="#0060ff"/><stop offset="0.4008" stop-color="#0060ff" stop-opacity="0"/><stop offset="0.5953" stop-color="#0040ff" stop-opacity="0"/><stop offset="0.5953" stop-color="#0040ff"/><stop offset="0.6020" stop-color="#0060ff"/><stop offset="0.6226" stop-color="#0080ff"/><stop offset="0.6453" stop-color="#00ffff"/><stop offset="0.6679" stop-color="#ecff13"/><stop offset="0.6981" stop-color="#ffff00"/><stop offset="0.7358" stop-color="#ffdf00"/><stop offset="0.7660" stop-color="#ffff00"/><stop offset="0.7962" stop-color="#ffff00"/><stop offset="0.8264" stop-color="#ffff00"/><stop offset="0.8491" stop-color="#acff53"/><stop offset="0.8717" stop-color="#20ffdf"/><stop offset="0.9019" stop-color="#20ffdf"/><stop offset="0.9245" stop-color="#40ffbf"/><stop offset="0.9321" stop-color="#ff7900"/><stop offset="0.9472" stop-color="#ff2900"/><stop offset="0.9698" stop-color="#ec0000"/><stop offset="0.9858" stop-color="#b80000"/><stop offset="0.9887" stop-color="#800000"/><stop offset="0.9981" stop-color="#800000"/><stop offset="1.0000" stop-color="#800000"/></linearGradient><linearGradient id="c78_0" gradientUnits="userSpaceOnUse" x1="0" y1="135" x2="0" y2="665"><stop offset="0.0000" stop-color="#808080" stop-opacity="0"/><stop offset="0.2981" stop-color="#0053ff" stop-opacity="0"/><stop offset="0.2981" stop-color="#0053ff"/><stop offset="0.3106" stop-color="#00dfff"/><stop offset="0.3585" stop-color="#00ffff"/><stop offset="0.3951" stop-color="#00bfff"/><stop offset="0.4014" stop-color="#0060ff"/><stop offset="0.4030" stop-color="#0060ff"/><stop offset="0.4030" stop-color="#0060ff" stop-opacity="0"/><stop offset="0.5066" stop-color="#0040ff" stop-opacity="0"/><stop offset="0.5066" stop-color="#0040ff"/><stop offset="0.5185" stop-color="#0060ff"/><stop offset="0.5566" stop-color="#009fff"/><stop offset="0.5849" stop-color="#00dfff"/><stop offset="0.6226" stop-color="#00ffff"/><stop offset="0.6415" stop-color="#40ffbf"/><stop offset="0.6604" stop-color="#acff53"/><stop offset="0.6906" stop-color="#feff01"/><stop offset="0.7358" stop-color="#ffff00"/><stop offset="0.7736" stop-color="#ffff00"/><stop offset="0.8038" stop-color="#ffbf00"/><stop offset="0.8340" stop-color="#ff9f00"/><stop offset="0.8642" stop-color="#ffff00"/><stop offset="0.8943" stop-color="#ecff13"/><stop offset="0.9245" stop-color="#acff53"/><stop offset="0.9434" stop-color="#ffbf00"/><stop offset="0.9623" stop-color="#ff7900"/><stop offset="0.9774" stop-color="#ff0000"/><stop offset="0.9877" stop-color="#b80000"/><stop offset="0.9906" stop-color="#800000"/><stop offset="0.9981" stop-color="#800000"/><stop offset="1.0000" stop-color="#800000"/></linearGradient><linearGradient id="c78_1" gradientUnits="userSpaceOnUse" x1="0" y1="135" x2="0" y2="665"><stop offset="0.0000" stop-color="#808080" stop-opacity="0"/><stop offset="0.2981" stop-color="#0053ff" stop-opacity="0"/><stop offset="0.2981" stop-color="#0053ff"/><stop offset="0.3106" stop-color="#00dfff"/><stop offset="0.3585" stop-color="#00ffff"/><stop offset="0.3951" stop-color="#00bfff"/><stop offset="0.4014" stop-color="#0060ff"/><stop offset="0.4030" stop-color="#0060ff"/><stop offset="0.4030" stop-color="#0060ff" stop-opacity="0"/><stop offset="0.5028" stop-color="#0040ff" stop-opacity="0"/><stop offset="0.5028" stop-color="#0040ff"/><stop offset="0.5117" stop-color="#0080ff"/><stop offset="0.5377" stop-color="#00bfff"/><stop offset="0.5660" stop-color="#20ffdf"/><stop offset="0.5943" stop-color="#8cff73"/><stop offset="0.6226" stop-color="#acff53"/><stop offset="0.6415" stop-color="#40ffbf"/><stop offset="0.6604" stop-color="#acff53"/><stop offset="0.6906" stop-color="#feff01"/><stop offset="0.7358" stop-color="#ffff00"/><stop offset="0.7736" stop-color="#ffff00"/><stop offset="0.8038" stop-color="#ffbf00"/><stop offset="0.8340" stop-color="#ff9f00"/><stop offset="0.8642" stop-color="#ffff00"/><stop offset="0.8943" stop-color="#ecff13"/><stop offset="0.9245" stop-color="#acff53"/><stop offset="0.9434" stop-color="#ffbf00"/><stop offset="0.9623" stop-color="#ff7900"/><stop offset="0.9774" stop-color="#ff0000"/><stop offset="0.9877" stop-color="#b80000"/><stop offset="0.9906" stop-color="#800000"/><stop offset="0.9981" stop-color="#800000"/><stop offset="1.0000" stop-color="#800000"/></linearGradient><linearGradient id="c79_0" gradientUnits="userSpaceOnUse" x1="0" y1="135" x2="0" y2="665"><stop offset="0.0000" stop-color="#808080" stop-opacity="0"/><stop offset="0.3019" stop-color="#0053ff" stop-opacity="0"/><stop offset="0.3019" stop-color="#0053ff"/><stop offset="0.3123" stop-color="#00dfff"/><stop offset="0.3585" stop-color="#00ffff"/><stop offset="0.4017" stop-color="#00bfff"/><stop offset="0.4068" stop-color="#0060ff"/><stop offset="0.4083" stop-color="#0060ff"/><stop offset="0.4083" stop-color="#0060ff" stop-opacity="0"/><stop offset="0.5009" stop-color="#0040ff" stop-opacity="0"/><stop offset="0.5009" stop-color="#0040ff"/><stop offset="0.5108" stop-color="#0080ff"/><stop offset="0.5472" stop-color="#00bfff"/><stop offset="0.5755" stop-color="#00dfff"/><stop offset="0.6038" stop-color="#00bfff"/><stop offset="0.6226" stop-color="#009fff"/><stop offset="0.6453" stop-color="#acff53"/><stop offset="0.6679" stop-color="#ecff13"/><stop offset="0.6981" stop-color="#ffdf00"/><stop offset="0.7208" stop-color="#ffbf00"/><stop offset="0.7509" stop-color="#feff01"/><stop offset="0.7811" stop-color="#ecff13"/><stop offset="0.8113" stop-color="#feff01"/><stop offset="0.8491" stop-color="#feff01"/><stop offset="0.8868" stop-color="#ecff13"/><stop offset="0.9245" stop-color="#ecff13"/><stop offset="0.9321" stop-color="#ffbf00"/><stop offset="0.9547" stop-color="#ff9900"/><stop offset="0.9698" stop-color="#ff0000"/><stop offset="0.9811" stop-color="#d90000"/><stop offset="0.9877" stop-color="#b80000"/><stop offset="0.9906" stop-color="#800000"/><stop offset="0.9981" stop-color="#800000"/><stop offset="1.0000" stop-color="#800000"/></linearGradient><linearGradient id="c79_1" gradientUnits="userSpaceOnUse" x1="0" y1="135" x2="0" y2="665"><stop offset="0.0000" stop-color="#808080" stop-opacity="0"/><stop offset="0.3019" stop-color="#0053ff" stop-opacity="0"/><stop offset="0.3019" stop-color="#0053ff"/><stop offset="0.3123" stop-color="#00dfff"/><stop offset="0.3585" stop-color="#00ffff"/><stop offset="0.4017" stop-color="#00bfff"/><stop offset="0.4068" stop-color="#0060ff"/><stop offset="0.4083" stop-color="#0060ff"/><stop offset="0.4083" stop-color="#0060ff" stop-opacity="0"/><stop offset="0.4717" stop-color="#0080ff" stop-opacity="0"/><stop offset="0.4717" stop-color="#0080ff"/><stop offset="0.4779" stop-color="#009fff"/><stop offset="0.5051" stop-color="#0080ff"/><stop offset="0.5103" stop-color="#0040ff"/><stop offset="0.5113" stop-color="#0040ff"/><stop offset="0.5113" stop-color="#0040ff" stop-opacity="0"/><stop offset="0.5821" stop-color="#0040ff" stop-opacity="0"/><stop offset="0.5821" stop-color="#0040ff"/><stop offset="0.5888" stop-color="#0060ff"/><stop offset="0.5961" stop-color="#0040ff"/><stop offset="0.6226" stop-color="#0040ff"/><stop offset="0.6453" stop-color="#acff53"/><stop offset="0.6679" stop-color="#ecff13"/><stop offset="0.6981" stop-color="#ffdf00"/><stop offset="0.7208" stop-color="#ffbf00"/><stop offset="0.7509" stop-color="#feff01"/><stop offset="0.7811" stop-color="#ecff13"/><stop offset="0.8113" stop-color="#feff01"/><stop offset="0.8491" stop-color="#feff01"/><stop offset="0.8868" stop-color="#ecff13"/><stop offset="0.9245" stop-color="#ecff13"/><stop offset="0.9321" stop-color="#ffbf00"/><stop offset="0.9547" stop-color="#ff9900"/><stop offset="0.9698" stop-color="#ff0000"/><stop offset="0.9811" stop-color="#d90000"/><stop offset="0.9877" stop-color="#b80000"/><stop offset="0.9906" stop-color="#800000"/><stop offset="0.9981" stop-color="#800000"/><stop offset="1.0000" stop-color="#800000"/></linearGradient></defs><g clip-path="url(#pc)"><g clip-path="url(#cB)"><g filter="url(#smB)"><g id="cols"><rect x="149" y="135" width="30" height="550" fill="url(#c0_0)"/><rect x="179" y="135" width="10" height="550" fill="url(#c1_0)"/><rect x="189" y="135" width="10" height="550" fill="url(#c2_0)"/><rect x="199" y="135" width="10" height="550" fill="url(#c3_0)"/><rect x="209" y="135" width="10" height="550" fill="url(#c4_0)"/><rect x="219" y="135" width="10" height="550" fill="url(#c5_0)"/><rect x="229" y="135" width="10" height="550" fill="url(#c6_0)"/><rect x="239" y="135" width="10" height="550" fill="url(#c7_0)"/><rect x="249" y="135" width="10" height="550" fill="url(#c8_0)"/><rect x="259" y="135" width="10" height="550" fill="url(#c9_0)"/><rect x="269" y="135" width="10" height="550" fill="url(#c10_0)"/><rect x="279" y="135" width="10" height="550" fill="url(#c11_0)"/><rect x="289" y="135" width="10" height="550" fill="url(#c12_0)"/><rect x="299" y="135" width="10" height="550" fill="url(#c13_0)"/><rect x="309" y="135" width="10" height="550" fill="url(#c14_0)"/><rect x="319" y="135" width="10" height="550" fill="url(#c15_0)"/><rect x="329" y="135" width="10" height="550" fill="url(#c16_0)"/><rect x="339" y="135" width="10" height="550" fill="url(#c17_0)"/><rect x="349" y="135" width="10" height="550" fill="url(#c18_0)"/><rect x="359" y="135" width="10" height="550" fill="url(#c19_0)"/><rect x="369" y="135" width="10" height="550" fill="url(#c20_0)"/><rect x="379" y="135" width="10" height="550" fill="url(#c21_0)"/><rect x="389" y="135" width="10" height="550" fill="url(#c22_0)"/><rect x="399" y="135" width="10" height="550" fill="url(#c23_0)"/><rect x="409" y="135" width="10" height="550" fill="url(#c24_0)"/><rect x="419" y="135" width="10" height="550" fill="url(#c25_0)"/><rect x="429" y="135" width="10" height="550" fill="url(#c26_0)"/><rect x="439" y="135" width="10" height="550" fill="url(#c27_0)"/><rect x="449" y="135" width="10" height="550" fill="url(#c28_0)"/><rect x="459" y="135" width="10" height="550" fill="url(#c29_0)"/><rect x="469" y="135" width="10" height="550" fill="url(#c30_0)"/><rect x="479" y="135" width="10" height="550" fill="url(#c31_0)"/><rect x="489" y="135" width="10" height="550" fill="url(#c32_0)"/><rect x="499" y="135" width="10" height="550" fill="url(#c33_0)"/><rect x="509" y="135" width="10" height="550" fill="url(#c34_0)"/><rect x="519" y="135" width="10" height="550" fill="url(#c35_0)"/><rect x="529" y="135" width="10" height="550" fill="url(#c36_0)"/><rect x="539" y="135" width="10" height="550" fill="url(#c37_0)"/><rect x="549" y="135" width="10" height="550" fill="url(#c38_0)"/><rect x="559" y="135" width="10" height="550" fill="url(#c39_0)"/><rect x="569" y="135" width="10" height="550" fill="url(#c40_0)"/><rect x="579" y="135" width="10" height="550" fill="url(#c41_0)"/><rect x="589" y="135" width="10" height="550" fill="url(#c42_0)"/><rect x="599" y="135" width="10" height="550" fill="url(#c43_0)"/><rect x="609" y="135" width="10" height="550" fill="url(#c44_0)"/><rect x="619" y="135" width="10" height="550" fill="url(#c45_0)"/><rect x="629" y="135" width="5" height="550" fill="url(#c46_0)"/><rect x="634" y="135" width="5" height="550" fill="url(#c46_1)"/><rect x="639" y="135" width="5" height="550" fill="url(#c47_0)"/><rect x="644" y="135" width="5" height="550" fill="url(#c47_1)"/><rect x="649" y="135" width="5" height="550" fill="url(#c48_0)"/><rect x="654" y="135" width="5" height="550" fill="url(#c48_1)"/><rect x="659" y="135" width="5" height="550" fill="url(#c49_0)"/><rect x="664" y="135" width="5" height="550" fill="url(#c49_1)"/><rect x="669" y="135" width="5" height="550" fill="url(#c50_0)"/><rect x="674" y="135" width="5" height="550" fill="url(#c50_1)"/><rect x="679" y="135" width="5" height="550" fill="url(#c51_0)"/><rect x="684" y="135" width="5" height="550" fill="url(#c51_1)"/><rect x="689" y="135" width="5" height="550" fill="url(#c52_0)"/><rect x="694" y="135" width="5" height="550" fill="url(#c52_1)"/><rect x="699" y="135" width="5" height="550" fill="url(#c53_0)"/><rect x="704" y="135" width="5" height="550" fill="url(#c53_1)"/><rect x="709" y="135" width="5" height="550" fill="url(#c54_0)"/><rect x="714" y="135" width="5" height="550" fill="url(#c54_1)"/><rect x="719" y="135" width="5" height="550" fill="url(#c55_0)"/><rect x="724" y="135" width="5" height="550" fill="url(#c55_1)"/><rect x="729" y="135" width="5" height="550" fill="url(#c56_0)"/><rect x="734" y="135" width="5" height="550" fill="url(#c56_1)"/><rect x="739" y="135" width="5" height="550" fill="url(#c57_0)"/><rect x="744" y="135" width="5" height="550" fill="url(#c57_1)"/><rect x="749" y="135" width="5" height="550" fill="url(#c58_0)"/><rect x="754" y="135" width="5" height="550" fill="url(#c58_1)"/><rect x="759" y="135" width="5" height="550" fill="url(#c59_0)"/><rect x="764" y="135" width="5" height="550" fill="url(#c59_1)"/><rect x="769" y="135" width="5" height="550" fill="url(#c60_0)"/><rect x="774" y="135" width="5" height="550" fill="url(#c60_1)"/><rect x="779" y="135" width="5" height="550" fill="url(#c61_0)"/><rect x="784" y="135" width="5" height="550" fill="url(#c61_1)"/><rect x="789" y="135" width="5" height="550" fill="url(#c62_0)"/><rect x="794" y="135" width="5" height="550" fill="url(#c62_1)"/><rect x="799" y="135" width="5" height="550" fill="url(#c63_0)"/><rect x="804" y="135" width="5" height="550" fill="url(#c63_1)"/><rect x="809" y="135" width="5" height="550" fill="url(#c64_0)"/><rect x="814" y="135" width="5" height="550" fill="url(#c64_1)"/><rect x="819" y="135" width="5" height="550" fill="url(#c65_0)"/><rect x="824" y="135" width="5" height="550" fill="url(#c65_1)"/><rect x="829" y="135" width="5" height="550" fill="url(#c66_0)"/><rect x="834" y="135" width="5" height="550" fill="url(#c66_1)"/><rect x="839" y="135" width="5" height="550" fill="url(#c67_0)"/><rect x="844" y="135" width="5" height="550" fill="url(#c67_1)"/><rect x="849" y="135" width="5" height="550" fill="url(#c68_0)"/><rect x="854" y="135" width="5" height="550" fill="url(#c68_1)"/><rect x="859" y="135" width="5" height="550" fill="url(#c69_0)"/><rect x="864" y="135" width="5" height="550" fill="url(#c69_1)"/><rect x="869" y="135" width="5" height="550" fill="url(#c70_0)"/><rect x="874" y="135" width="5" height="550" fill="url(#c70_1)"/><rect x="879" y="135" width="5" height="550" fill="url(#c71_0)"/><rect x="884" y="135" width="5" height="550" fill="url(#c71_1)"/><rect x="889" y="135" width="5" height="550" fill="url(#c72_0)"/><rect x="894" y="135" width="5" height="550" fill="url(#c72_1)"/><rect x="899" y="135" width="5" height="550" fill="url(#c73_0)"/><rect x="904" y="135" width="5" height="550" fill="url(#c73_1)"/><rect x="909" y="135" width="5" height="550" fill="url(#c74_0)"/><rect x="914" y="135" width="5" height="550" fill="url(#c74_1)"/><rect x="919" y="135" width="5" height="550" fill="url(#c75_0)"/><rect x="924" y="135" width="5" height="550" fill="url(#c75_1)"/><rect x="929" y="135" width="5" height="550" fill="url(#c76_0)"/><rect x="934" y="135" width="5" height="550" fill="url(#c76_1)"/><rect x="939" y="135" width="5" height="550" fill="url(#c77_0)"/><rect x="944" y="135" width="5" height="550" fill="url(#c77_1)"/><rect x="949" y="135" width="5" height="550" fill="url(#c78_0)"/><rect x="954" y="135" width="5" height="550" fill="url(#c78_1)"/><rect x="959" y="135" width="5" height="550" fill="url(#c79_0)"/><rect x="964" y="135" width="27" height="550" fill="url(#c79_1)"/></g></g></g><g clip-path="url(#cA)"><g filter="url(#sm)"><g clip-path="url(#cA2)"><use href="#cols"/></g></g></g><g clip-path="url(#cS)"><g clip-path="url(#cU)"><g filter="url(#smU)"><use href="#cols"/></g></g><g clip-path="url(#cUM)"><g filter="url(#smU2)"><use href="#cols"/></g></g></g></g><g clip-path="url(#pc)" shape-rendering="crispEdges"><rect x="311.5" y="631" width="2.5" height="24" fill="#0000ff"/><linearGradient id="o1" x1="0" y1="0" x2="0" y2="1"><stop offset="0" stop-color="#0000ff"/><stop offset="1" stop-color="#0020ff"/></linearGradient><rect x="329.5" y="628" width="2.5" height="14" fill="url(#o1)"/><rect x="337" y="625" width="3" height="27" fill="#0000ff"/><linearGradient id="o3" x1="0" y1="0" x2="0" y2="1"><stop offset="0" stop-color="#0000df"/><stop offset="1" stop-color="#0000ff"/></linearGradient><rect x="365" y="642" width="8" height="10" fill="url(#o3)"/><rect x="366" y="638" width="5" height="5" fill="#0000df"/><path d="M964 404L971 404L971 456L968.5 456L966 442L964.5 425Z" fill="#808080"/></g>
<rect x="169" y="665" width="802" height="1" fill="#fff"/>
<g stroke="#000" stroke-width="1" fill="none" shape-rendering="crispEdges">
<rect x="169.5" y="135.5" width="801" height="531"/>
<path d="M188.5 135V132 M188.5 667V670"/>
<path d="M210.5 135V132 M210.5 667V670"/>
<path d="M232.5 135V132 M232.5 667V670"/>
<path d="M254.5 135V132 M254.5 667V670"/>
<path d="M277.5 135V132 M277.5 667V670"/>
<path d="M299.5 135V129 M299.5 667V673"/>
<path d="M321.5 135V132 M321.5 667V670"/>
<path d="M344.5 135V132 M344.5 667V670"/>
<path d="M366.5 135V132 M366.5 667V670"/>
<path d="M388.5 135V132 M388.5 667V670"/>
<path d="M410.5 135V132 M410.5 667V670"/>
<path d="M433.5 135V129 M433.5 667V673"/>
<path d="M455.5 135V132 M455.5 667V670"/>
<path d="M477.5 135V132 M477.5 667V670"/>
<path d="M499.5 135V132 M499.5 667V670"/>
<path d="M522.5 135V132 M522.5 667V670"/>
<path d="M544.5 135V132 M544.5 667V670"/>
<path d="M566.5 135V129 M566.5 667V673"/>
<path d="M589.5 135V132 M589.5 667V670"/>
<path d="M611.5 135V132 M611.5 667V670"/>
<path d="M633.5 135V132 M633.5 667V670"/>
<path d="M655.5 135V132 M655.5 667V670"/>
<path d="M678.5 135V132 M678.5 667V670"/>
<path d="M700.5 135V129 M700.5 667V673"/>
<path d="M722.5 135V132 M722.5 667V670"/>
<path d="M744.5 135V132 M744.5 667V670"/>
<path d="M767.5 135V132 M767.5 667V670"/>
<path d="M789.5 135V132 M789.5 667V670"/>
<path d="M811.5 135V132 M811.5 667V670"/>
<path d="M833.5 135V129 M833.5 667V673"/>
<path d="M856.5 135V132 M856.5 667V670"/>
<path d="M878.5 135V132 M878.5 667V670"/>
<path d="M900.5 135V132 M900.5 667V670"/>
<path d="M923.5 135V132 M923.5 667V670"/>
<path d="M945.5 135V132 M945.5 667V670"/>
<path d="M967.5 135V129 M967.5 667V673"/>
<path d="M169 156.5H165 M971 156.5H975"/>
<path d="M169 179.5H165 M971 179.5H975"/>
<path d="M169 201.5H165 M971 201.5H975"/>
<path d="M169 224.5H161 M971 224.5H979"/>
<path d="M169 246.5H165 M971 246.5H975"/>
<path d="M169 269.5H165 M971 269.5H975"/>
<path d="M169 291.5H165 M971 291.5H975"/>
<path d="M169 314.5H161 M971 314.5H979"/>
<path d="M169 337.5H165 M971 337.5H975"/>
<path d="M169 359.5H165 M971 359.5H975"/>
<path d="M169 382.5H165 M971 382.5H975"/>
<path d="M169 404.5H161 M971 404.5H979"/>
<path d="M169 427.5H165 M971 427.5H975"/>
<path d="M169 449.5H165 M971 449.5H975"/>
<path d="M169 472.5H165 M971 472.5H975"/>
<path d="M169 494.5H161 M971 494.5H979"/>
<path d="M169 517.5H165 M971 517.5H975"/>
<path d="M169 539.5H165 M971 539.5H975"/>
<path d="M169 562.5H165 M971 562.5H975"/>
<path d="M169 584.5H161 M971 584.5H979"/>
<path d="M169 607.5H165 M971 607.5H975"/>
<path d="M169 629.5H165 M971 629.5H975"/>
<path d="M169 652.5H165 M971 652.5H975"/>
</g>
<rect x="991" y="135" width="20" height="532" fill="url(#cb)"/>
<g stroke="#000" stroke-width="1" fill="none" shape-rendering="crispEdges">
<path d="M990.5 135V667 M1010.5 135V667 M990 135.5H1011"/>
<path d="M1010 638.5H1008.5"/>
<path d="M1010 608.5H1008.5"/>
<path d="M1010 578.5H1008.5"/>
<path d="M1010 549.5H1008.5"/>
<path d="M1010 519.5H1008.5"/>
<path d="M1010 490.5H1008.5"/>
<path d="M1010 460.5H1008.5"/>
<path d="M1010 430.5H1008.5"/>
<path d="M1010 401.5H1008.5"/>
<path d="M1010 371.5H1008.5"/>
<path d="M1010 342.5H1008.5"/>
<path d="M1010 312.5H1008.5"/>
<path d="M1010 282.5H1008.5"/>
<path d="M1010 253.5H1008.5"/>
<path d="M1010 223.5H1008.5"/>
<path d="M1010 194.5H1008.5"/>
<path d="M1010 164.5H1008.5"/>
</g>
<g opacity="0.999">
<text x="143.2" y="115.2" font-size="18.96" xml:space="preserve" style="white-space:pre" transform="translate(0 115.2) scale(1 0.95) translate(0 -115.2)">Equivalent Radar Reflectivity Factor Ze of Hydrometeors   21:01 09.01.2014 - 00:00 10.01.2014 Muenchen</text>
<text transform="translate(299.0 694.0) scale(1 0.900)" font-size="19.00" text-anchor="middle">21:30</text>
<text transform="translate(432.6 694.0) scale(1 0.900)" font-size="19.00" text-anchor="middle">22:00</text>
<text transform="translate(566.2 694.0) scale(1 0.900)" font-size="19.00" text-anchor="middle">22:30</text>
<text transform="translate(699.9 694.0) scale(1 0.900)" font-size="19.00" text-anchor="middle">23:00</text>
<text transform="translate(833.5 694.0) scale(1 0.900)" font-size="19.00" text-anchor="middle">23:30</text>
<text transform="translate(967.1 694.0) scale(1 0.900)" font-size="19.00" text-anchor="middle">00:00</text>
<text transform="translate(569.5 714.0) scale(1 1.000)" font-size="19.30" text-anchor="middle">Time UTC</text>
<text transform="translate(157.0 230.9) scale(1 0.900)" font-size="19.00" text-anchor="end">10</text>
<text transform="translate(157.0 321.0) scale(1 0.900)" font-size="19.00" text-anchor="end">8</text>
<text transform="translate(157.0 411.1) scale(1 0.900)" font-size="19.00" text-anchor="end">6</text>
<text transform="translate(157.0 501.3) scale(1 0.900)" font-size="19.00" text-anchor="end">4</text>
<text transform="translate(157.0 591.4) scale(1 0.900)" font-size="19.00" text-anchor="end">2</text>
<text transform="translate(1015.0 199.8) scale(1 0.900)" font-size="19.00" text-anchor="start">20</text>
<text transform="translate(1015.0 318.1) scale(1 0.900)" font-size="19.00" text-anchor="start">0</text>
<text transform="translate(1015.0 436.5) scale(1 0.900)" font-size="19.00" text-anchor="start">-20</text>
<text transform="translate(1015.0 554.9) scale(1 0.900)" font-size="19.00" text-anchor="start">-40</text>
<text transform="translate(1015.0 667.0) scale(1 0.900)" font-size="19.00" text-anchor="start">-60</text>
<text transform="translate(120.4 401) rotate(-90) scale(0.875 1)" font-size="20" text-anchor="middle">Height AGL km</text>
<text transform="translate(1060 400.5) rotate(-90) scale(0.875 1)" font-size="20" text-anchor="middle">Ze dBmm^6/m^3</text>
</g>
</svg></body></html>
